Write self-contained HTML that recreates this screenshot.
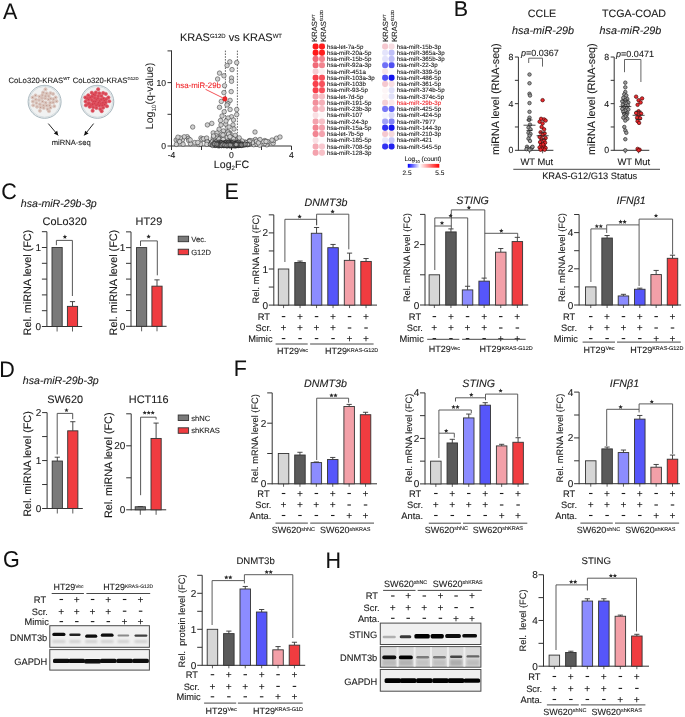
<!DOCTYPE html>
<html><head><meta charset="utf-8"><style>
html,body{margin:0;padding:0;background:#fff;}
svg{display:block;font-family:"Liberation Sans",sans-serif;will-change:transform;text-rendering:geometricPrecision;}
</style></head><body>
<svg width="685" height="717" viewBox="0 0 685 717">
<rect width="685" height="717" fill="#fff"/>
<text transform="translate(2.9,18.8) scale(1,1.045)" font-size="21.5" fill="#111" stroke="#111" stroke-width="0.05">A</text>
<text transform="translate(453.8,16.2) scale(1,0.99)" font-size="21.5" fill="#111" stroke="#111" stroke-width="0.05">B</text>
<text transform="translate(1.2,198.7) scale(1,1.045)" font-size="21.5" fill="#111" stroke="#111" stroke-width="0.05">C</text>
<text transform="translate(-0.8,376.7) scale(1,1.045)" font-size="21.5" fill="#111" stroke="#111" stroke-width="0.05">D</text>
<text transform="translate(224.6,198.8) scale(1,1.045)" font-size="21.5" fill="#111" stroke="#111" stroke-width="0.05">E</text>
<text transform="translate(233.8,375.6) scale(1,1.045)" font-size="21.5" fill="#111" stroke="#111" stroke-width="0.05">F</text>
<text transform="translate(2.9,567.4) scale(1,1.07)" font-size="21.5" fill="#111" stroke="#111" stroke-width="0.05">G</text>
<text transform="translate(325.6,567.8) scale(1,1.045)" font-size="21.5" fill="#111" stroke="#111" stroke-width="0.05">H</text>
<text x="8.5" y="82.6" font-size="7.7" text-anchor="start" fill="#1a1a1a" stroke="#1a1a1a" stroke-width="0.1">CoLo320-KRAS<tspan font-size="4.3" dy="-2.43">WT</tspan></text>
<text x="72.7" y="82.6" font-size="7.7" text-anchor="start" fill="#1a1a1a" stroke="#1a1a1a" stroke-width="0.1">CoLo320-KRAS<tspan font-size="4.3" dy="-2.43">G12D</tspan></text>
<circle cx="44.6" cy="101.8" r="16.5" fill="#f1f2f2" stroke="#9fb0b8" stroke-width="0.9"/>
<circle cx="44.6" cy="101.8" r="15.4" fill="none" stroke="#c5d0d5" stroke-width="0.6"/>
<rect x="41.1" y="84.9" width="7" height="1.2" rx="0.5" fill="#b8c4ca"/>
<circle cx="45.48" cy="89.24" r="1.65" fill="#dcc5bd" stroke="#d2b8af" stroke-width="0.4"/>
<circle cx="43.14" cy="92.45" r="1.65" fill="#dcc5bd" stroke="#d2b8af" stroke-width="0.4"/>
<circle cx="46.64" cy="93.32" r="1.65" fill="#dcc5bd" stroke="#d2b8af" stroke-width="0.4"/>
<circle cx="50.44" cy="93.03" r="1.65" fill="#dcc5bd" stroke="#d2b8af" stroke-width="0.4"/>
<circle cx="53.07" cy="93.91" r="1.65" fill="#dcc5bd" stroke="#d2b8af" stroke-width="0.4"/>
<circle cx="35.55" cy="95.37" r="1.65" fill="#dcc5bd" stroke="#d2b8af" stroke-width="0.4"/>
<circle cx="39.34" cy="96.54" r="1.65" fill="#dcc5bd" stroke="#d2b8af" stroke-width="0.4"/>
<circle cx="42.26" cy="95.08" r="1.65" fill="#dcc5bd" stroke="#d2b8af" stroke-width="0.4"/>
<circle cx="45.48" cy="95.95" r="1.65" fill="#dcc5bd" stroke="#d2b8af" stroke-width="0.4"/>
<circle cx="48.69" cy="95.95" r="1.65" fill="#dcc5bd" stroke="#d2b8af" stroke-width="0.4"/>
<circle cx="55.69" cy="97.41" r="1.65" fill="#dcc5bd" stroke="#d2b8af" stroke-width="0.4"/>
<circle cx="32.63" cy="97.41" r="1.65" fill="#dcc5bd" stroke="#d2b8af" stroke-width="0.4"/>
<circle cx="41.97" cy="98" r="1.65" fill="#dcc5bd" stroke="#d2b8af" stroke-width="0.4"/>
<circle cx="45.18" cy="98.29" r="1.65" fill="#dcc5bd" stroke="#d2b8af" stroke-width="0.4"/>
<circle cx="48.4" cy="99.46" r="1.65" fill="#dcc5bd" stroke="#d2b8af" stroke-width="0.4"/>
<circle cx="50.73" cy="98.58" r="1.65" fill="#dcc5bd" stroke="#d2b8af" stroke-width="0.4"/>
<circle cx="53.36" cy="99.16" r="1.65" fill="#dcc5bd" stroke="#d2b8af" stroke-width="0.4"/>
<circle cx="35.84" cy="99.46" r="1.65" fill="#dcc5bd" stroke="#d2b8af" stroke-width="0.4"/>
<circle cx="39.05" cy="100.04" r="1.65" fill="#dcc5bd" stroke="#d2b8af" stroke-width="0.4"/>
<circle cx="32.92" cy="101.5" r="1.65" fill="#dcc5bd" stroke="#d2b8af" stroke-width="0.4"/>
<circle cx="36.42" cy="102.96" r="1.65" fill="#dcc5bd" stroke="#d2b8af" stroke-width="0.4"/>
<circle cx="42.56" cy="101.5" r="1.65" fill="#dcc5bd" stroke="#d2b8af" stroke-width="0.4"/>
<circle cx="45.77" cy="102.67" r="1.65" fill="#dcc5bd" stroke="#d2b8af" stroke-width="0.4"/>
<circle cx="50.15" cy="102.67" r="1.65" fill="#dcc5bd" stroke="#d2b8af" stroke-width="0.4"/>
<circle cx="53.07" cy="102.38" r="1.65" fill="#dcc5bd" stroke="#d2b8af" stroke-width="0.4"/>
<circle cx="56.57" cy="101.21" r="1.65" fill="#dcc5bd" stroke="#d2b8af" stroke-width="0.4"/>
<circle cx="33.21" cy="105.3" r="1.65" fill="#dcc5bd" stroke="#d2b8af" stroke-width="0.4"/>
<circle cx="39.93" cy="104.13" r="1.65" fill="#dcc5bd" stroke="#d2b8af" stroke-width="0.4"/>
<circle cx="43.43" cy="105.3" r="1.65" fill="#dcc5bd" stroke="#d2b8af" stroke-width="0.4"/>
<circle cx="46.64" cy="105.59" r="1.65" fill="#dcc5bd" stroke="#d2b8af" stroke-width="0.4"/>
<circle cx="49.56" cy="105.3" r="1.65" fill="#dcc5bd" stroke="#d2b8af" stroke-width="0.4"/>
<circle cx="54.24" cy="106.17" r="1.65" fill="#dcc5bd" stroke="#d2b8af" stroke-width="0.4"/>
<circle cx="37.01" cy="106.76" r="1.65" fill="#dcc5bd" stroke="#d2b8af" stroke-width="0.4"/>
<circle cx="40.51" cy="107.34" r="1.65" fill="#dcc5bd" stroke="#d2b8af" stroke-width="0.4"/>
<circle cx="43.72" cy="107.92" r="1.65" fill="#dcc5bd" stroke="#d2b8af" stroke-width="0.4"/>
<circle cx="47.52" cy="109.09" r="1.65" fill="#dcc5bd" stroke="#d2b8af" stroke-width="0.4"/>
<circle cx="50.44" cy="107.63" r="1.65" fill="#dcc5bd" stroke="#d2b8af" stroke-width="0.4"/>
<circle cx="39.93" cy="110.84" r="1.65" fill="#dcc5bd" stroke="#d2b8af" stroke-width="0.4"/>
<circle cx="48.98" cy="111.14" r="1.65" fill="#dcc5bd" stroke="#d2b8af" stroke-width="0.4"/>
<circle cx="45.48" cy="89.24" r="0.55" fill="#b89488" stroke="none" stroke-width="0.5"/>
<circle cx="43.14" cy="92.45" r="0.55" fill="#b89488" stroke="none" stroke-width="0.5"/>
<circle cx="46.64" cy="93.32" r="0.55" fill="#b89488" stroke="none" stroke-width="0.5"/>
<circle cx="50.44" cy="93.03" r="0.55" fill="#b89488" stroke="none" stroke-width="0.5"/>
<circle cx="53.07" cy="93.91" r="0.55" fill="#b89488" stroke="none" stroke-width="0.5"/>
<circle cx="35.55" cy="95.37" r="0.55" fill="#b89488" stroke="none" stroke-width="0.5"/>
<circle cx="39.34" cy="96.54" r="0.55" fill="#b89488" stroke="none" stroke-width="0.5"/>
<circle cx="42.26" cy="95.08" r="0.55" fill="#b89488" stroke="none" stroke-width="0.5"/>
<circle cx="45.48" cy="95.95" r="0.55" fill="#b89488" stroke="none" stroke-width="0.5"/>
<circle cx="48.69" cy="95.95" r="0.55" fill="#b89488" stroke="none" stroke-width="0.5"/>
<circle cx="55.69" cy="97.41" r="0.55" fill="#b89488" stroke="none" stroke-width="0.5"/>
<circle cx="32.63" cy="97.41" r="0.55" fill="#b89488" stroke="none" stroke-width="0.5"/>
<circle cx="41.97" cy="98" r="0.55" fill="#b89488" stroke="none" stroke-width="0.5"/>
<circle cx="45.18" cy="98.29" r="0.55" fill="#b89488" stroke="none" stroke-width="0.5"/>
<circle cx="48.4" cy="99.46" r="0.55" fill="#b89488" stroke="none" stroke-width="0.5"/>
<circle cx="50.73" cy="98.58" r="0.55" fill="#b89488" stroke="none" stroke-width="0.5"/>
<circle cx="53.36" cy="99.16" r="0.55" fill="#b89488" stroke="none" stroke-width="0.5"/>
<circle cx="35.84" cy="99.46" r="0.55" fill="#b89488" stroke="none" stroke-width="0.5"/>
<circle cx="39.05" cy="100.04" r="0.55" fill="#b89488" stroke="none" stroke-width="0.5"/>
<circle cx="32.92" cy="101.5" r="0.55" fill="#b89488" stroke="none" stroke-width="0.5"/>
<circle cx="36.42" cy="102.96" r="0.55" fill="#b89488" stroke="none" stroke-width="0.5"/>
<circle cx="42.56" cy="101.5" r="0.55" fill="#b89488" stroke="none" stroke-width="0.5"/>
<circle cx="45.77" cy="102.67" r="0.55" fill="#b89488" stroke="none" stroke-width="0.5"/>
<circle cx="50.15" cy="102.67" r="0.55" fill="#b89488" stroke="none" stroke-width="0.5"/>
<circle cx="53.07" cy="102.38" r="0.55" fill="#b89488" stroke="none" stroke-width="0.5"/>
<circle cx="56.57" cy="101.21" r="0.55" fill="#b89488" stroke="none" stroke-width="0.5"/>
<circle cx="33.21" cy="105.3" r="0.55" fill="#b89488" stroke="none" stroke-width="0.5"/>
<circle cx="39.93" cy="104.13" r="0.55" fill="#b89488" stroke="none" stroke-width="0.5"/>
<circle cx="43.43" cy="105.3" r="0.55" fill="#b89488" stroke="none" stroke-width="0.5"/>
<circle cx="46.64" cy="105.59" r="0.55" fill="#b89488" stroke="none" stroke-width="0.5"/>
<circle cx="49.56" cy="105.3" r="0.55" fill="#b89488" stroke="none" stroke-width="0.5"/>
<circle cx="54.24" cy="106.17" r="0.55" fill="#b89488" stroke="none" stroke-width="0.5"/>
<circle cx="37.01" cy="106.76" r="0.55" fill="#b89488" stroke="none" stroke-width="0.5"/>
<circle cx="40.51" cy="107.34" r="0.55" fill="#b89488" stroke="none" stroke-width="0.5"/>
<circle cx="43.72" cy="107.92" r="0.55" fill="#b89488" stroke="none" stroke-width="0.5"/>
<circle cx="47.52" cy="109.09" r="0.55" fill="#b89488" stroke="none" stroke-width="0.5"/>
<circle cx="50.44" cy="107.63" r="0.55" fill="#b89488" stroke="none" stroke-width="0.5"/>
<circle cx="39.93" cy="110.84" r="0.55" fill="#b89488" stroke="none" stroke-width="0.5"/>
<circle cx="48.98" cy="111.14" r="0.55" fill="#b89488" stroke="none" stroke-width="0.5"/>
<circle cx="97.3" cy="101.8" r="16.5" fill="#f1f2f2" stroke="#9fb0b8" stroke-width="0.9"/>
<circle cx="97.3" cy="101.8" r="15.4" fill="none" stroke="#c5d0d5" stroke-width="0.6"/>
<rect x="93.8" y="84.9" width="7" height="1.2" rx="0.5" fill="#b8c4ca"/>
<circle cx="98.18" cy="89.24" r="1.75" fill="#e0505c" stroke="#d8475a" stroke-width="0.4"/>
<circle cx="95.84" cy="92.45" r="1.75" fill="#e0505c" stroke="#d8475a" stroke-width="0.4"/>
<circle cx="99.34" cy="93.32" r="1.75" fill="#e0505c" stroke="#d8475a" stroke-width="0.4"/>
<circle cx="103.14" cy="93.03" r="1.75" fill="#e0505c" stroke="#d8475a" stroke-width="0.4"/>
<circle cx="105.77" cy="93.91" r="1.75" fill="#e0505c" stroke="#d8475a" stroke-width="0.4"/>
<circle cx="88.25" cy="95.37" r="1.75" fill="#e0505c" stroke="#d8475a" stroke-width="0.4"/>
<circle cx="92.04" cy="96.54" r="1.75" fill="#e0505c" stroke="#d8475a" stroke-width="0.4"/>
<circle cx="94.96" cy="95.08" r="1.75" fill="#e0505c" stroke="#d8475a" stroke-width="0.4"/>
<circle cx="98.18" cy="95.95" r="1.75" fill="#e0505c" stroke="#d8475a" stroke-width="0.4"/>
<circle cx="101.39" cy="95.95" r="1.75" fill="#e0505c" stroke="#d8475a" stroke-width="0.4"/>
<circle cx="108.39" cy="97.41" r="1.75" fill="#e0505c" stroke="#d8475a" stroke-width="0.4"/>
<circle cx="85.33" cy="97.41" r="1.75" fill="#e0505c" stroke="#d8475a" stroke-width="0.4"/>
<circle cx="94.67" cy="98" r="1.75" fill="#e0505c" stroke="#d8475a" stroke-width="0.4"/>
<circle cx="97.88" cy="98.29" r="1.75" fill="#e0505c" stroke="#d8475a" stroke-width="0.4"/>
<circle cx="101.1" cy="99.46" r="1.75" fill="#e0505c" stroke="#d8475a" stroke-width="0.4"/>
<circle cx="103.43" cy="98.58" r="1.75" fill="#e0505c" stroke="#d8475a" stroke-width="0.4"/>
<circle cx="106.06" cy="99.16" r="1.75" fill="#e0505c" stroke="#d8475a" stroke-width="0.4"/>
<circle cx="88.54" cy="99.46" r="1.75" fill="#e0505c" stroke="#d8475a" stroke-width="0.4"/>
<circle cx="91.75" cy="100.04" r="1.75" fill="#e0505c" stroke="#d8475a" stroke-width="0.4"/>
<circle cx="85.62" cy="101.5" r="1.75" fill="#e0505c" stroke="#d8475a" stroke-width="0.4"/>
<circle cx="89.12" cy="102.96" r="1.75" fill="#e0505c" stroke="#d8475a" stroke-width="0.4"/>
<circle cx="95.26" cy="101.5" r="1.75" fill="#e0505c" stroke="#d8475a" stroke-width="0.4"/>
<circle cx="98.47" cy="102.67" r="1.75" fill="#e0505c" stroke="#d8475a" stroke-width="0.4"/>
<circle cx="102.85" cy="102.67" r="1.75" fill="#e0505c" stroke="#d8475a" stroke-width="0.4"/>
<circle cx="105.77" cy="102.38" r="1.75" fill="#e0505c" stroke="#d8475a" stroke-width="0.4"/>
<circle cx="109.27" cy="101.21" r="1.75" fill="#e0505c" stroke="#d8475a" stroke-width="0.4"/>
<circle cx="85.91" cy="105.3" r="1.75" fill="#e0505c" stroke="#d8475a" stroke-width="0.4"/>
<circle cx="92.63" cy="104.13" r="1.75" fill="#e0505c" stroke="#d8475a" stroke-width="0.4"/>
<circle cx="96.13" cy="105.3" r="1.75" fill="#e0505c" stroke="#d8475a" stroke-width="0.4"/>
<circle cx="99.34" cy="105.59" r="1.75" fill="#e0505c" stroke="#d8475a" stroke-width="0.4"/>
<circle cx="102.26" cy="105.3" r="1.75" fill="#e0505c" stroke="#d8475a" stroke-width="0.4"/>
<circle cx="106.94" cy="106.17" r="1.75" fill="#e0505c" stroke="#d8475a" stroke-width="0.4"/>
<circle cx="89.71" cy="106.76" r="1.75" fill="#e0505c" stroke="#d8475a" stroke-width="0.4"/>
<circle cx="93.21" cy="107.34" r="1.75" fill="#e0505c" stroke="#d8475a" stroke-width="0.4"/>
<circle cx="96.42" cy="107.92" r="1.75" fill="#e0505c" stroke="#d8475a" stroke-width="0.4"/>
<circle cx="100.22" cy="109.09" r="1.75" fill="#e0505c" stroke="#d8475a" stroke-width="0.4"/>
<circle cx="103.14" cy="107.63" r="1.75" fill="#e0505c" stroke="#d8475a" stroke-width="0.4"/>
<circle cx="92.63" cy="110.84" r="1.75" fill="#e0505c" stroke="#d8475a" stroke-width="0.4"/>
<circle cx="101.68" cy="111.14" r="1.75" fill="#e0505c" stroke="#d8475a" stroke-width="0.4"/>
<circle cx="91.75" cy="92.74" r="1.75" fill="#e0505c" stroke="#d8475a" stroke-width="0.4"/>
<circle cx="93.5" cy="94.49" r="1.75" fill="#e0505c" stroke="#d8475a" stroke-width="0.4"/>
<circle cx="90.29" cy="97.41" r="1.75" fill="#e0505c" stroke="#d8475a" stroke-width="0.4"/>
<circle cx="87.08" cy="98.29" r="1.75" fill="#e0505c" stroke="#d8475a" stroke-width="0.4"/>
<circle cx="96.42" cy="99.75" r="1.75" fill="#e0505c" stroke="#d8475a" stroke-width="0.4"/>
<circle cx="93.21" cy="101.5" r="1.75" fill="#e0505c" stroke="#d8475a" stroke-width="0.4"/>
<circle cx="99.64" cy="100.92" r="1.75" fill="#e0505c" stroke="#d8475a" stroke-width="0.4"/>
<circle cx="104.31" cy="100.62" r="1.75" fill="#e0505c" stroke="#d8475a" stroke-width="0.4"/>
<circle cx="90.88" cy="105" r="1.75" fill="#e0505c" stroke="#d8475a" stroke-width="0.4"/>
<circle cx="94.38" cy="103.25" r="1.75" fill="#e0505c" stroke="#d8475a" stroke-width="0.4"/>
<circle cx="97.88" cy="104.13" r="1.75" fill="#e0505c" stroke="#d8475a" stroke-width="0.4"/>
<circle cx="100.8" cy="103.84" r="1.75" fill="#e0505c" stroke="#d8475a" stroke-width="0.4"/>
<circle cx="104.6" cy="104.42" r="1.75" fill="#e0505c" stroke="#d8475a" stroke-width="0.4"/>
<circle cx="88.25" cy="103.84" r="1.75" fill="#e0505c" stroke="#d8475a" stroke-width="0.4"/>
<circle cx="98.18" cy="89.24" r="0.55" fill="#c83848" stroke="none" stroke-width="0.5"/>
<circle cx="95.84" cy="92.45" r="0.55" fill="#c83848" stroke="none" stroke-width="0.5"/>
<circle cx="99.34" cy="93.32" r="0.55" fill="#c83848" stroke="none" stroke-width="0.5"/>
<circle cx="103.14" cy="93.03" r="0.55" fill="#c83848" stroke="none" stroke-width="0.5"/>
<circle cx="105.77" cy="93.91" r="0.55" fill="#c83848" stroke="none" stroke-width="0.5"/>
<circle cx="88.25" cy="95.37" r="0.55" fill="#c83848" stroke="none" stroke-width="0.5"/>
<circle cx="92.04" cy="96.54" r="0.55" fill="#c83848" stroke="none" stroke-width="0.5"/>
<circle cx="94.96" cy="95.08" r="0.55" fill="#c83848" stroke="none" stroke-width="0.5"/>
<circle cx="98.18" cy="95.95" r="0.55" fill="#c83848" stroke="none" stroke-width="0.5"/>
<circle cx="101.39" cy="95.95" r="0.55" fill="#c83848" stroke="none" stroke-width="0.5"/>
<circle cx="108.39" cy="97.41" r="0.55" fill="#c83848" stroke="none" stroke-width="0.5"/>
<circle cx="85.33" cy="97.41" r="0.55" fill="#c83848" stroke="none" stroke-width="0.5"/>
<circle cx="94.67" cy="98" r="0.55" fill="#c83848" stroke="none" stroke-width="0.5"/>
<circle cx="97.88" cy="98.29" r="0.55" fill="#c83848" stroke="none" stroke-width="0.5"/>
<circle cx="101.1" cy="99.46" r="0.55" fill="#c83848" stroke="none" stroke-width="0.5"/>
<circle cx="103.43" cy="98.58" r="0.55" fill="#c83848" stroke="none" stroke-width="0.5"/>
<circle cx="106.06" cy="99.16" r="0.55" fill="#c83848" stroke="none" stroke-width="0.5"/>
<circle cx="88.54" cy="99.46" r="0.55" fill="#c83848" stroke="none" stroke-width="0.5"/>
<circle cx="91.75" cy="100.04" r="0.55" fill="#c83848" stroke="none" stroke-width="0.5"/>
<circle cx="85.62" cy="101.5" r="0.55" fill="#c83848" stroke="none" stroke-width="0.5"/>
<circle cx="89.12" cy="102.96" r="0.55" fill="#c83848" stroke="none" stroke-width="0.5"/>
<circle cx="95.26" cy="101.5" r="0.55" fill="#c83848" stroke="none" stroke-width="0.5"/>
<circle cx="98.47" cy="102.67" r="0.55" fill="#c83848" stroke="none" stroke-width="0.5"/>
<circle cx="102.85" cy="102.67" r="0.55" fill="#c83848" stroke="none" stroke-width="0.5"/>
<circle cx="105.77" cy="102.38" r="0.55" fill="#c83848" stroke="none" stroke-width="0.5"/>
<circle cx="109.27" cy="101.21" r="0.55" fill="#c83848" stroke="none" stroke-width="0.5"/>
<circle cx="85.91" cy="105.3" r="0.55" fill="#c83848" stroke="none" stroke-width="0.5"/>
<circle cx="92.63" cy="104.13" r="0.55" fill="#c83848" stroke="none" stroke-width="0.5"/>
<circle cx="96.13" cy="105.3" r="0.55" fill="#c83848" stroke="none" stroke-width="0.5"/>
<circle cx="99.34" cy="105.59" r="0.55" fill="#c83848" stroke="none" stroke-width="0.5"/>
<circle cx="102.26" cy="105.3" r="0.55" fill="#c83848" stroke="none" stroke-width="0.5"/>
<circle cx="106.94" cy="106.17" r="0.55" fill="#c83848" stroke="none" stroke-width="0.5"/>
<circle cx="89.71" cy="106.76" r="0.55" fill="#c83848" stroke="none" stroke-width="0.5"/>
<circle cx="93.21" cy="107.34" r="0.55" fill="#c83848" stroke="none" stroke-width="0.5"/>
<circle cx="96.42" cy="107.92" r="0.55" fill="#c83848" stroke="none" stroke-width="0.5"/>
<circle cx="100.22" cy="109.09" r="0.55" fill="#c83848" stroke="none" stroke-width="0.5"/>
<circle cx="103.14" cy="107.63" r="0.55" fill="#c83848" stroke="none" stroke-width="0.5"/>
<circle cx="92.63" cy="110.84" r="0.55" fill="#c83848" stroke="none" stroke-width="0.5"/>
<circle cx="101.68" cy="111.14" r="0.55" fill="#c83848" stroke="none" stroke-width="0.5"/>
<circle cx="91.75" cy="92.74" r="0.55" fill="#c83848" stroke="none" stroke-width="0.5"/>
<circle cx="93.5" cy="94.49" r="0.55" fill="#c83848" stroke="none" stroke-width="0.5"/>
<circle cx="90.29" cy="97.41" r="0.55" fill="#c83848" stroke="none" stroke-width="0.5"/>
<circle cx="87.08" cy="98.29" r="0.55" fill="#c83848" stroke="none" stroke-width="0.5"/>
<circle cx="96.42" cy="99.75" r="0.55" fill="#c83848" stroke="none" stroke-width="0.5"/>
<circle cx="93.21" cy="101.5" r="0.55" fill="#c83848" stroke="none" stroke-width="0.5"/>
<circle cx="99.64" cy="100.92" r="0.55" fill="#c83848" stroke="none" stroke-width="0.5"/>
<circle cx="104.31" cy="100.62" r="0.55" fill="#c83848" stroke="none" stroke-width="0.5"/>
<circle cx="90.88" cy="105" r="0.55" fill="#c83848" stroke="none" stroke-width="0.5"/>
<circle cx="94.38" cy="103.25" r="0.55" fill="#c83848" stroke="none" stroke-width="0.5"/>
<circle cx="97.88" cy="104.13" r="0.55" fill="#c83848" stroke="none" stroke-width="0.5"/>
<circle cx="100.8" cy="103.84" r="0.55" fill="#c83848" stroke="none" stroke-width="0.5"/>
<circle cx="104.6" cy="104.42" r="0.55" fill="#c83848" stroke="none" stroke-width="0.5"/>
<circle cx="88.25" cy="103.84" r="0.55" fill="#c83848" stroke="none" stroke-width="0.5"/>
<line x1="48.3" y1="123.6" x2="58.2" y2="135.4" stroke="#111" stroke-width="0.9"/>
<polygon points="58.2,135.4 53.82,133.6 57.19,130.77" fill="#111"/>
<line x1="93.6" y1="123.6" x2="84.2" y2="135.4" stroke="#111" stroke-width="0.9"/>
<polygon points="84.2,135.4 85.1,130.74 88.54,133.49" fill="#111"/>
<text x="71.2" y="144.6" font-size="7.6" text-anchor="middle" fill="#1a1a1a" stroke="#1a1a1a" stroke-width="0.1">miRNA-seq</text>
<text x="231" y="41.4" font-size="11" text-anchor="middle" fill="#1a1a1a" stroke="#1a1a1a" stroke-width="0.1">KRAS<tspan font-size="6" dy="-3.58">G12D</tspan><tspan dy="3.58"> vs </tspan>KRAS<tspan font-size="6" dy="-3.58">WT</tspan></text>
<line x1="171.5" y1="50.4" x2="171.5" y2="146.5" stroke="#333" stroke-width="1"/>
<line x1="171.5" y1="146" x2="291.5" y2="146" stroke="#333" stroke-width="1"/>
<line x1="167.5" y1="146" x2="171.5" y2="146" stroke="#333" stroke-width="1"/>
<text x="166" y="149.1" font-size="8.6" text-anchor="end" fill="#1a1a1a" stroke="#1a1a1a" stroke-width="0.1">0</text>
<line x1="167.5" y1="114.3" x2="171.5" y2="114.3" stroke="#333" stroke-width="1"/>
<line x1="167.5" y1="82.6" x2="171.5" y2="82.6" stroke="#333" stroke-width="1"/>
<text x="166" y="85.7" font-size="8.6" text-anchor="end" fill="#1a1a1a" stroke="#1a1a1a" stroke-width="0.1">10</text>
<line x1="167.5" y1="50.9" x2="171.5" y2="50.9" stroke="#333" stroke-width="1"/>
<line x1="171.5" y1="146" x2="171.5" y2="150" stroke="#333" stroke-width="1"/>
<text x="171.5" y="158.2" font-size="8.6" text-anchor="middle" fill="#1a1a1a" stroke="#1a1a1a" stroke-width="0.1">-4</text>
<line x1="201.5" y1="146" x2="201.5" y2="150" stroke="#333" stroke-width="1"/>
<line x1="231.5" y1="146" x2="231.5" y2="150" stroke="#333" stroke-width="1"/>
<text x="231.5" y="158.2" font-size="8.6" text-anchor="middle" fill="#1a1a1a" stroke="#1a1a1a" stroke-width="0.1">0</text>
<line x1="261.5" y1="146" x2="261.5" y2="150" stroke="#333" stroke-width="1"/>
<line x1="291.5" y1="146" x2="291.5" y2="150" stroke="#333" stroke-width="1"/>
<text x="291.5" y="158.2" font-size="8.6" text-anchor="middle" fill="#1a1a1a" stroke="#1a1a1a" stroke-width="0.1">4</text>
<text x="231.5" y="167.6" font-size="10.6" text-anchor="middle" fill="#1a1a1a" stroke="#1a1a1a" stroke-width="0.1">Log<tspan font-size="6.2" dy="2.6">2</tspan><tspan dy="-2.6">FC</tspan></text>
<text transform="translate(153.2,96) rotate(-90)" font-size="10.6" text-anchor="middle" fill="#1a1a1a">Log<tspan font-size="6.2" dy="2.6">10</tspan><tspan dy="-2.6">(q-value)</tspan></text>
<line x1="225.4" y1="50.6" x2="225.4" y2="146" stroke="#222" stroke-width="0.7" stroke-dasharray="1.6,1.2"/>
<line x1="237.4" y1="50.6" x2="237.4" y2="146" stroke="#222" stroke-width="0.7" stroke-dasharray="1.6,1.2"/>
<circle cx="229.8" cy="61.8" r="2.25" fill="#d0d0d0" stroke="#2a2a2a" stroke-width="0.5"/>
<circle cx="236.7" cy="62.6" r="2.25" fill="#d0d0d0" stroke="#2a2a2a" stroke-width="0.5"/>
<circle cx="227.1" cy="65.5" r="2.25" fill="#d0d0d0" stroke="#2a2a2a" stroke-width="0.5"/>
<circle cx="232" cy="69.6" r="2.25" fill="#d0d0d0" stroke="#2a2a2a" stroke-width="0.5"/>
<circle cx="219.5" cy="73.1" r="2.25" fill="#d0d0d0" stroke="#2a2a2a" stroke-width="0.5"/>
<circle cx="223.9" cy="75.8" r="2.25" fill="#d0d0d0" stroke="#2a2a2a" stroke-width="0.5"/>
<circle cx="231.5" cy="78" r="2.25" fill="#d0d0d0" stroke="#2a2a2a" stroke-width="0.5"/>
<circle cx="217.6" cy="79" r="2.25" fill="#d0d0d0" stroke="#2a2a2a" stroke-width="0.5"/>
<circle cx="231.5" cy="81.3" r="2.25" fill="#d0d0d0" stroke="#2a2a2a" stroke-width="0.5"/>
<circle cx="224.5" cy="85.7" r="2.25" fill="#d0d0d0" stroke="#2a2a2a" stroke-width="0.5"/>
<circle cx="231.2" cy="91.6" r="2.25" fill="#d0d0d0" stroke="#2a2a2a" stroke-width="0.5"/>
<circle cx="223.9" cy="92.6" r="2.25" fill="#d0d0d0" stroke="#2a2a2a" stroke-width="0.5"/>
<circle cx="221.3" cy="101.4" r="2.25" fill="#d0d0d0" stroke="#2a2a2a" stroke-width="0.5"/>
<circle cx="230.1" cy="100.4" r="2.25" fill="#d0d0d0" stroke="#2a2a2a" stroke-width="0.5"/>
<circle cx="227.9" cy="103.6" r="2.25" fill="#d0d0d0" stroke="#2a2a2a" stroke-width="0.5"/>
<circle cx="219.5" cy="107.3" r="2.25" fill="#d0d0d0" stroke="#2a2a2a" stroke-width="0.5"/>
<circle cx="236.7" cy="109.5" r="2.25" fill="#d0d0d0" stroke="#2a2a2a" stroke-width="0.5"/>
<circle cx="224.2" cy="111.7" r="2.25" fill="#d0d0d0" stroke="#2a2a2a" stroke-width="0.5"/>
<circle cx="230.1" cy="109.5" r="2.25" fill="#d0d0d0" stroke="#2a2a2a" stroke-width="0.5"/>
<circle cx="236.7" cy="114.6" r="2.25" fill="#d0d0d0" stroke="#2a2a2a" stroke-width="0.5"/>
<circle cx="231.5" cy="116.8" r="2.25" fill="#d0d0d0" stroke="#2a2a2a" stroke-width="0.5"/>
<circle cx="220.5" cy="120.5" r="2.25" fill="#d0d0d0" stroke="#2a2a2a" stroke-width="0.5"/>
<circle cx="211.8" cy="123.4" r="2.25" fill="#d0d0d0" stroke="#2a2a2a" stroke-width="0.5"/>
<circle cx="207.4" cy="124.9" r="2.25" fill="#d0d0d0" stroke="#2a2a2a" stroke-width="0.5"/>
<circle cx="192.7" cy="127" r="2.25" fill="#d0d0d0" stroke="#2a2a2a" stroke-width="0.5"/>
<circle cx="233" cy="124.9" r="2.25" fill="#d0d0d0" stroke="#2a2a2a" stroke-width="0.5"/>
<circle cx="225.7" cy="124.1" r="2.25" fill="#d0d0d0" stroke="#2a2a2a" stroke-width="0.5"/>
<circle cx="219.1" cy="129.2" r="2.25" fill="#d0d0d0" stroke="#2a2a2a" stroke-width="0.5"/>
<circle cx="213.2" cy="132.9" r="2.25" fill="#d0d0d0" stroke="#2a2a2a" stroke-width="0.5"/>
<circle cx="227" cy="105" r="2.25" fill="#d0d0d0" stroke="#2a2a2a" stroke-width="0.5"/>
<circle cx="222" cy="116" r="2.25" fill="#d0d0d0" stroke="#2a2a2a" stroke-width="0.5"/>
<circle cx="228" cy="118" r="2.25" fill="#d0d0d0" stroke="#2a2a2a" stroke-width="0.5"/>
<circle cx="226" cy="121" r="2.25" fill="#d0d0d0" stroke="#2a2a2a" stroke-width="0.5"/>
<circle cx="233.5" cy="120" r="2.25" fill="#d0d0d0" stroke="#2a2a2a" stroke-width="0.5"/>
<circle cx="221" cy="125" r="2.25" fill="#d0d0d0" stroke="#2a2a2a" stroke-width="0.5"/>
<circle cx="229" cy="127" r="2.25" fill="#d0d0d0" stroke="#2a2a2a" stroke-width="0.5"/>
<circle cx="234" cy="129" r="2.25" fill="#d0d0d0" stroke="#2a2a2a" stroke-width="0.5"/>
<circle cx="217" cy="133" r="2.25" fill="#d0d0d0" stroke="#2a2a2a" stroke-width="0.5"/>
<circle cx="226" cy="131" r="2.25" fill="#d0d0d0" stroke="#2a2a2a" stroke-width="0.5"/>
<circle cx="230" cy="133" r="2.25" fill="#d0d0d0" stroke="#2a2a2a" stroke-width="0.5"/>
<circle cx="255" cy="132" r="2.25" fill="#d0d0d0" stroke="#2a2a2a" stroke-width="0.5"/>
<circle cx="200.92" cy="138.03" r="2.25" fill="#d0d0d0" stroke="#2a2a2a" stroke-width="0.5"/>
<circle cx="213.7" cy="137.61" r="2.25" fill="#d0d0d0" stroke="#2a2a2a" stroke-width="0.5"/>
<circle cx="177.16" cy="139.95" r="2.25" fill="#d0d0d0" stroke="#2a2a2a" stroke-width="0.5"/>
<circle cx="201.96" cy="139.48" r="2.25" fill="#d0d0d0" stroke="#2a2a2a" stroke-width="0.5"/>
<circle cx="194.76" cy="142.55" r="2.25" fill="#d0d0d0" stroke="#2a2a2a" stroke-width="0.5"/>
<circle cx="198.96" cy="144.55" r="2.25" fill="#d0d0d0" stroke="#2a2a2a" stroke-width="0.5"/>
<circle cx="187.18" cy="136.71" r="2.25" fill="#d0d0d0" stroke="#2a2a2a" stroke-width="0.5"/>
<circle cx="182.38" cy="139.99" r="2.25" fill="#d0d0d0" stroke="#2a2a2a" stroke-width="0.5"/>
<circle cx="200.7" cy="144.11" r="2.25" fill="#d0d0d0" stroke="#2a2a2a" stroke-width="0.5"/>
<circle cx="210.86" cy="143.33" r="2.25" fill="#d0d0d0" stroke="#2a2a2a" stroke-width="0.5"/>
<circle cx="215.3" cy="138.95" r="2.25" fill="#d0d0d0" stroke="#2a2a2a" stroke-width="0.5"/>
<circle cx="214.46" cy="140.03" r="2.25" fill="#d0d0d0" stroke="#2a2a2a" stroke-width="0.5"/>
<circle cx="184.19" cy="136.83" r="2.25" fill="#d0d0d0" stroke="#2a2a2a" stroke-width="0.5"/>
<circle cx="214.66" cy="138.77" r="2.25" fill="#d0d0d0" stroke="#2a2a2a" stroke-width="0.5"/>
<circle cx="190.45" cy="143.7" r="2.25" fill="#d0d0d0" stroke="#2a2a2a" stroke-width="0.5"/>
<circle cx="178.61" cy="142.04" r="2.25" fill="#d0d0d0" stroke="#2a2a2a" stroke-width="0.5"/>
<circle cx="176.14" cy="140.04" r="2.25" fill="#d0d0d0" stroke="#2a2a2a" stroke-width="0.5"/>
<circle cx="188.4" cy="138.58" r="2.25" fill="#d0d0d0" stroke="#2a2a2a" stroke-width="0.5"/>
<circle cx="188.63" cy="140.42" r="2.25" fill="#d0d0d0" stroke="#2a2a2a" stroke-width="0.5"/>
<circle cx="178.28" cy="139.44" r="2.25" fill="#d0d0d0" stroke="#2a2a2a" stroke-width="0.5"/>
<circle cx="205.99" cy="140.17" r="2.25" fill="#d0d0d0" stroke="#2a2a2a" stroke-width="0.5"/>
<circle cx="207.51" cy="141.6" r="2.25" fill="#d0d0d0" stroke="#2a2a2a" stroke-width="0.5"/>
<circle cx="176.36" cy="144.37" r="2.25" fill="#d0d0d0" stroke="#2a2a2a" stroke-width="0.5"/>
<circle cx="214.21" cy="142.6" r="2.25" fill="#d0d0d0" stroke="#2a2a2a" stroke-width="0.5"/>
<circle cx="213.19" cy="138.27" r="2.25" fill="#d0d0d0" stroke="#2a2a2a" stroke-width="0.5"/>
<circle cx="190.19" cy="139.88" r="2.25" fill="#d0d0d0" stroke="#2a2a2a" stroke-width="0.5"/>
<circle cx="180.32" cy="137.97" r="2.25" fill="#d0d0d0" stroke="#2a2a2a" stroke-width="0.5"/>
<circle cx="210.39" cy="143.72" r="2.25" fill="#d0d0d0" stroke="#2a2a2a" stroke-width="0.5"/>
<circle cx="179.65" cy="141.72" r="2.25" fill="#d0d0d0" stroke="#2a2a2a" stroke-width="0.5"/>
<circle cx="212.72" cy="141.09" r="2.25" fill="#d0d0d0" stroke="#2a2a2a" stroke-width="0.5"/>
<circle cx="197.81" cy="142.5" r="2.25" fill="#d0d0d0" stroke="#2a2a2a" stroke-width="0.5"/>
<circle cx="183.1" cy="144.22" r="2.25" fill="#d0d0d0" stroke="#2a2a2a" stroke-width="0.5"/>
<circle cx="203.57" cy="138.71" r="2.25" fill="#d0d0d0" stroke="#2a2a2a" stroke-width="0.5"/>
<circle cx="177.94" cy="137.15" r="2.25" fill="#d0d0d0" stroke="#2a2a2a" stroke-width="0.5"/>
<circle cx="253.8" cy="144.07" r="2.25" fill="#d0d0d0" stroke="#2a2a2a" stroke-width="0.5"/>
<circle cx="268.09" cy="143.35" r="2.25" fill="#d0d0d0" stroke="#2a2a2a" stroke-width="0.5"/>
<circle cx="241.89" cy="142.65" r="2.25" fill="#d0d0d0" stroke="#2a2a2a" stroke-width="0.5"/>
<circle cx="256.78" cy="142.59" r="2.25" fill="#d0d0d0" stroke="#2a2a2a" stroke-width="0.5"/>
<circle cx="264.88" cy="140.54" r="2.25" fill="#d0d0d0" stroke="#2a2a2a" stroke-width="0.5"/>
<circle cx="266.79" cy="144.82" r="2.25" fill="#d0d0d0" stroke="#2a2a2a" stroke-width="0.5"/>
<circle cx="245.07" cy="142.07" r="2.25" fill="#d0d0d0" stroke="#2a2a2a" stroke-width="0.5"/>
<circle cx="255.41" cy="139.52" r="2.25" fill="#d0d0d0" stroke="#2a2a2a" stroke-width="0.5"/>
<circle cx="273.18" cy="143.23" r="2.25" fill="#d0d0d0" stroke="#2a2a2a" stroke-width="0.5"/>
<circle cx="264.8" cy="143.5" r="2.25" fill="#d0d0d0" stroke="#2a2a2a" stroke-width="0.5"/>
<circle cx="253.73" cy="144.71" r="2.25" fill="#d0d0d0" stroke="#2a2a2a" stroke-width="0.5"/>
<circle cx="273.61" cy="140.5" r="2.25" fill="#d0d0d0" stroke="#2a2a2a" stroke-width="0.5"/>
<circle cx="256.98" cy="144.35" r="2.25" fill="#d0d0d0" stroke="#2a2a2a" stroke-width="0.5"/>
<circle cx="249.26" cy="140.69" r="2.25" fill="#d0d0d0" stroke="#2a2a2a" stroke-width="0.5"/>
<circle cx="252.29" cy="140.93" r="2.25" fill="#d0d0d0" stroke="#2a2a2a" stroke-width="0.5"/>
<circle cx="263.62" cy="141.61" r="2.25" fill="#d0d0d0" stroke="#2a2a2a" stroke-width="0.5"/>
<circle cx="252.36" cy="142.65" r="2.25" fill="#d0d0d0" stroke="#2a2a2a" stroke-width="0.5"/>
<circle cx="256.51" cy="141.25" r="2.25" fill="#d0d0d0" stroke="#2a2a2a" stroke-width="0.5"/>
<circle cx="249.99" cy="140.5" r="2.25" fill="#d0d0d0" stroke="#2a2a2a" stroke-width="0.5"/>
<circle cx="259.74" cy="145.17" r="2.25" fill="#d0d0d0" stroke="#2a2a2a" stroke-width="0.5"/>
<circle cx="248.52" cy="142.32" r="2.25" fill="#d0d0d0" stroke="#2a2a2a" stroke-width="0.5"/>
<circle cx="267.77" cy="141.61" r="2.25" fill="#d0d0d0" stroke="#2a2a2a" stroke-width="0.5"/>
<circle cx="276.5" cy="138.2" r="2.25" fill="#d0d0d0" stroke="#2a2a2a" stroke-width="0.5"/>
<circle cx="280" cy="137" r="2.25" fill="#d0d0d0" stroke="#2a2a2a" stroke-width="0.5"/>
<circle cx="272" cy="140" r="2.25" fill="#d0d0d0" stroke="#2a2a2a" stroke-width="0.5"/>
<circle cx="266" cy="141.5" r="2.25" fill="#d0d0d0" stroke="#2a2a2a" stroke-width="0.5"/>
<circle cx="260" cy="139.5" r="2.25" fill="#d0d0d0" stroke="#2a2a2a" stroke-width="0.5"/>
<circle cx="219.04" cy="138.37" r="2.25" fill="#d0d0d0" stroke="#2a2a2a" stroke-width="0.5"/>
<circle cx="225.21" cy="133.84" r="2.25" fill="#d0d0d0" stroke="#2a2a2a" stroke-width="0.5"/>
<circle cx="216.32" cy="135.88" r="2.25" fill="#d0d0d0" stroke="#2a2a2a" stroke-width="0.5"/>
<circle cx="235.9" cy="138.76" r="2.25" fill="#d0d0d0" stroke="#2a2a2a" stroke-width="0.5"/>
<circle cx="248.78" cy="143.57" r="2.25" fill="#d0d0d0" stroke="#2a2a2a" stroke-width="0.5"/>
<circle cx="215.52" cy="145.09" r="2.25" fill="#d0d0d0" stroke="#2a2a2a" stroke-width="0.5"/>
<circle cx="235.11" cy="135.3" r="2.25" fill="#d0d0d0" stroke="#2a2a2a" stroke-width="0.5"/>
<circle cx="235.97" cy="143.16" r="2.25" fill="#d0d0d0" stroke="#2a2a2a" stroke-width="0.5"/>
<circle cx="221.34" cy="136.33" r="2.25" fill="#d0d0d0" stroke="#2a2a2a" stroke-width="0.5"/>
<circle cx="225.82" cy="142.04" r="2.25" fill="#d0d0d0" stroke="#2a2a2a" stroke-width="0.5"/>
<circle cx="228.75" cy="137.58" r="2.25" fill="#d0d0d0" stroke="#2a2a2a" stroke-width="0.5"/>
<circle cx="221.74" cy="140.14" r="2.25" fill="#d0d0d0" stroke="#2a2a2a" stroke-width="0.5"/>
<circle cx="215.43" cy="138.13" r="2.25" fill="#d0d0d0" stroke="#2a2a2a" stroke-width="0.5"/>
<circle cx="217.12" cy="138.14" r="2.25" fill="#d0d0d0" stroke="#2a2a2a" stroke-width="0.5"/>
<circle cx="231.74" cy="145.34" r="2.25" fill="#d0d0d0" stroke="#2a2a2a" stroke-width="0.5"/>
<circle cx="214.34" cy="142.59" r="2.25" fill="#d0d0d0" stroke="#2a2a2a" stroke-width="0.5"/>
<circle cx="229.15" cy="136.29" r="2.25" fill="#d0d0d0" stroke="#2a2a2a" stroke-width="0.5"/>
<circle cx="224.71" cy="144.61" r="2.25" fill="#d0d0d0" stroke="#2a2a2a" stroke-width="0.5"/>
<circle cx="220.16" cy="145.17" r="2.25" fill="#d0d0d0" stroke="#2a2a2a" stroke-width="0.5"/>
<circle cx="231.04" cy="144.84" r="2.25" fill="#d0d0d0" stroke="#2a2a2a" stroke-width="0.5"/>
<circle cx="224.16" cy="142.25" r="2.25" fill="#d0d0d0" stroke="#2a2a2a" stroke-width="0.5"/>
<circle cx="227.35" cy="144.36" r="2.25" fill="#d0d0d0" stroke="#2a2a2a" stroke-width="0.5"/>
<circle cx="217.9" cy="144.63" r="2.25" fill="#d0d0d0" stroke="#2a2a2a" stroke-width="0.5"/>
<circle cx="217.32" cy="140.39" r="2.25" fill="#d0d0d0" stroke="#2a2a2a" stroke-width="0.5"/>
<circle cx="227.98" cy="131.99" r="2.25" fill="#d0d0d0" stroke="#2a2a2a" stroke-width="0.5"/>
<circle cx="235.68" cy="145.97" r="2.25" fill="#d0d0d0" stroke="#2a2a2a" stroke-width="0.5"/>
<circle cx="224.85" cy="139.43" r="2.25" fill="#d0d0d0" stroke="#2a2a2a" stroke-width="0.5"/>
<circle cx="239.23" cy="137.89" r="2.25" fill="#d0d0d0" stroke="#2a2a2a" stroke-width="0.5"/>
<circle cx="224.79" cy="144.75" r="2.25" fill="#d0d0d0" stroke="#2a2a2a" stroke-width="0.5"/>
<circle cx="223.46" cy="144.1" r="2.25" fill="#d0d0d0" stroke="#2a2a2a" stroke-width="0.5"/>
<circle cx="218.63" cy="144.34" r="2.25" fill="#d0d0d0" stroke="#2a2a2a" stroke-width="0.5"/>
<circle cx="206.68" cy="138.03" r="2.25" fill="#d0d0d0" stroke="#2a2a2a" stroke-width="0.5"/>
<circle cx="230.42" cy="139.84" r="2.25" fill="#d0d0d0" stroke="#2a2a2a" stroke-width="0.5"/>
<circle cx="231.48" cy="137.4" r="2.25" fill="#d0d0d0" stroke="#2a2a2a" stroke-width="0.5"/>
<circle cx="223.1" cy="143.37" r="2.25" fill="#d0d0d0" stroke="#2a2a2a" stroke-width="0.5"/>
<circle cx="216.95" cy="141.25" r="2.25" fill="#d0d0d0" stroke="#2a2a2a" stroke-width="0.5"/>
<circle cx="249.27" cy="141.47" r="2.25" fill="#d0d0d0" stroke="#2a2a2a" stroke-width="0.5"/>
<circle cx="220" cy="142.19" r="2.25" fill="#d0d0d0" stroke="#2a2a2a" stroke-width="0.5"/>
<circle cx="226.81" cy="145.82" r="2.25" fill="#d0d0d0" stroke="#2a2a2a" stroke-width="0.5"/>
<circle cx="235.55" cy="140.73" r="2.25" fill="#d0d0d0" stroke="#2a2a2a" stroke-width="0.5"/>
<circle cx="222.79" cy="143.63" r="2.25" fill="#d0d0d0" stroke="#2a2a2a" stroke-width="0.5"/>
<circle cx="213.47" cy="136.05" r="2.25" fill="#d0d0d0" stroke="#2a2a2a" stroke-width="0.5"/>
<circle cx="219.7" cy="141.14" r="2.25" fill="#d0d0d0" stroke="#2a2a2a" stroke-width="0.5"/>
<circle cx="227.61" cy="140.66" r="2.25" fill="#d0d0d0" stroke="#2a2a2a" stroke-width="0.5"/>
<circle cx="235.17" cy="144.91" r="2.25" fill="#d0d0d0" stroke="#2a2a2a" stroke-width="0.5"/>
<circle cx="245.83" cy="142.52" r="2.25" fill="#d0d0d0" stroke="#2a2a2a" stroke-width="0.5"/>
<circle cx="220.75" cy="143.14" r="2.25" fill="#d0d0d0" stroke="#2a2a2a" stroke-width="0.5"/>
<circle cx="236.97" cy="145.09" r="2.25" fill="#d0d0d0" stroke="#2a2a2a" stroke-width="0.5"/>
<circle cx="219.7" cy="143.11" r="2.25" fill="#d0d0d0" stroke="#2a2a2a" stroke-width="0.5"/>
<circle cx="236.92" cy="145.25" r="2.25" fill="#d0d0d0" stroke="#2a2a2a" stroke-width="0.5"/>
<circle cx="224.18" cy="138.79" r="2.25" fill="#d0d0d0" stroke="#2a2a2a" stroke-width="0.5"/>
<circle cx="235.55" cy="139.72" r="2.25" fill="#d0d0d0" stroke="#2a2a2a" stroke-width="0.5"/>
<circle cx="219.47" cy="144.12" r="2.25" fill="#d0d0d0" stroke="#2a2a2a" stroke-width="0.5"/>
<circle cx="229.84" cy="134.07" r="2.25" fill="#d0d0d0" stroke="#2a2a2a" stroke-width="0.5"/>
<circle cx="237.56" cy="145.34" r="2.25" fill="#d0d0d0" stroke="#2a2a2a" stroke-width="0.5"/>
<circle cx="223.36" cy="130.96" r="2.25" fill="#d0d0d0" stroke="#2a2a2a" stroke-width="0.5"/>
<circle cx="227.85" cy="141.22" r="2.25" fill="#d0d0d0" stroke="#2a2a2a" stroke-width="0.5"/>
<circle cx="225.92" cy="142.25" r="2.25" fill="#d0d0d0" stroke="#2a2a2a" stroke-width="0.5"/>
<circle cx="233.98" cy="145.62" r="2.25" fill="#d0d0d0" stroke="#2a2a2a" stroke-width="0.5"/>
<circle cx="218.55" cy="141.37" r="2.25" fill="#d0d0d0" stroke="#2a2a2a" stroke-width="0.5"/>
<circle cx="218.99" cy="139.01" r="2.25" fill="#d0d0d0" stroke="#2a2a2a" stroke-width="0.5"/>
<circle cx="226.31" cy="142.74" r="2.25" fill="#d0d0d0" stroke="#2a2a2a" stroke-width="0.5"/>
<circle cx="227" cy="140.51" r="2.25" fill="#d0d0d0" stroke="#2a2a2a" stroke-width="0.5"/>
<circle cx="218.53" cy="144.77" r="2.25" fill="#d0d0d0" stroke="#2a2a2a" stroke-width="0.5"/>
<circle cx="223.29" cy="138.36" r="2.25" fill="#d0d0d0" stroke="#2a2a2a" stroke-width="0.5"/>
<circle cx="218.19" cy="144.63" r="2.25" fill="#d0d0d0" stroke="#2a2a2a" stroke-width="0.5"/>
<circle cx="226.12" cy="137.31" r="2.25" fill="#d0d0d0" stroke="#2a2a2a" stroke-width="0.5"/>
<circle cx="233.19" cy="144.88" r="2.25" fill="#d0d0d0" stroke="#2a2a2a" stroke-width="0.5"/>
<circle cx="207.22" cy="142.01" r="2.25" fill="#d0d0d0" stroke="#2a2a2a" stroke-width="0.5"/>
<circle cx="235.12" cy="140.72" r="2.25" fill="#d0d0d0" stroke="#2a2a2a" stroke-width="0.5"/>
<circle cx="242.06" cy="144.97" r="2.25" fill="#d0d0d0" stroke="#2a2a2a" stroke-width="0.5"/>
<circle cx="215.91" cy="142.27" r="2.25" fill="#d0d0d0" stroke="#2a2a2a" stroke-width="0.5"/>
<circle cx="223.19" cy="137.12" r="2.25" fill="#d0d0d0" stroke="#2a2a2a" stroke-width="0.5"/>
<circle cx="206.8" cy="144.37" r="2.25" fill="#d0d0d0" stroke="#2a2a2a" stroke-width="0.5"/>
<circle cx="219.75" cy="141.73" r="2.25" fill="#d0d0d0" stroke="#2a2a2a" stroke-width="0.5"/>
<circle cx="230.06" cy="142.55" r="2.25" fill="#d0d0d0" stroke="#2a2a2a" stroke-width="0.5"/>
<circle cx="221.63" cy="134.28" r="2.25" fill="#d0d0d0" stroke="#2a2a2a" stroke-width="0.5"/>
<circle cx="242.17" cy="141.01" r="2.25" fill="#d0d0d0" stroke="#2a2a2a" stroke-width="0.5"/>
<circle cx="223.23" cy="139.49" r="2.25" fill="#d0d0d0" stroke="#2a2a2a" stroke-width="0.5"/>
<circle cx="222.95" cy="134.97" r="2.25" fill="#d0d0d0" stroke="#2a2a2a" stroke-width="0.5"/>
<circle cx="230.73" cy="144.08" r="2.25" fill="#d0d0d0" stroke="#2a2a2a" stroke-width="0.5"/>
<circle cx="215.25" cy="144.89" r="2.25" fill="#d0d0d0" stroke="#2a2a2a" stroke-width="0.5"/>
<circle cx="218.44" cy="145.92" r="2.25" fill="#d0d0d0" stroke="#2a2a2a" stroke-width="0.5"/>
<circle cx="233.31" cy="138.91" r="2.25" fill="#d0d0d0" stroke="#2a2a2a" stroke-width="0.5"/>
<circle cx="227.78" cy="143.74" r="2.25" fill="#d0d0d0" stroke="#2a2a2a" stroke-width="0.5"/>
<circle cx="228.59" cy="134.07" r="2.25" fill="#d0d0d0" stroke="#2a2a2a" stroke-width="0.5"/>
<circle cx="229.95" cy="136.73" r="2.25" fill="#d0d0d0" stroke="#2a2a2a" stroke-width="0.5"/>
<circle cx="240.73" cy="144.34" r="2.25" fill="#d0d0d0" stroke="#2a2a2a" stroke-width="0.5"/>
<circle cx="258.41" cy="142.9" r="2.25" fill="#d0d0d0" stroke="#2a2a2a" stroke-width="0.5"/>
<circle cx="225.64" cy="144.04" r="2.25" fill="#d0d0d0" stroke="#2a2a2a" stroke-width="0.5"/>
<circle cx="232.62" cy="144.78" r="2.25" fill="#d0d0d0" fill-opacity="0.25" stroke="#222" stroke-width="0.45"/>
<circle cx="219.78" cy="142.86" r="2.25" fill="#d0d0d0" fill-opacity="0.25" stroke="#222" stroke-width="0.45"/>
<circle cx="229.15" cy="144.87" r="2.25" fill="#d0d0d0" fill-opacity="0.25" stroke="#222" stroke-width="0.45"/>
<circle cx="225.99" cy="142.58" r="2.25" fill="#d0d0d0" fill-opacity="0.25" stroke="#222" stroke-width="0.45"/>
<circle cx="235.5" cy="144.05" r="2.25" fill="#d0d0d0" fill-opacity="0.25" stroke="#222" stroke-width="0.45"/>
<circle cx="226.54" cy="145.17" r="2.25" fill="#d0d0d0" fill-opacity="0.25" stroke="#222" stroke-width="0.45"/>
<circle cx="228.54" cy="145.31" r="2.25" fill="#d0d0d0" fill-opacity="0.25" stroke="#222" stroke-width="0.45"/>
<circle cx="235.16" cy="144.74" r="2.25" fill="#d0d0d0" fill-opacity="0.25" stroke="#222" stroke-width="0.45"/>
<circle cx="232.11" cy="145.39" r="2.25" fill="#d0d0d0" fill-opacity="0.25" stroke="#222" stroke-width="0.45"/>
<circle cx="220.03" cy="144.55" r="2.25" fill="#d0d0d0" fill-opacity="0.25" stroke="#222" stroke-width="0.45"/>
<circle cx="232.64" cy="145.08" r="2.25" fill="#d0d0d0" fill-opacity="0.25" stroke="#222" stroke-width="0.45"/>
<circle cx="224.63" cy="145.09" r="2.25" fill="#d0d0d0" fill-opacity="0.25" stroke="#222" stroke-width="0.45"/>
<circle cx="223.63" cy="144.64" r="2.25" fill="#d0d0d0" fill-opacity="0.25" stroke="#222" stroke-width="0.45"/>
<circle cx="236.1" cy="145.09" r="2.25" fill="#d0d0d0" fill-opacity="0.25" stroke="#222" stroke-width="0.45"/>
<circle cx="239.87" cy="144.86" r="2.25" fill="#d0d0d0" fill-opacity="0.25" stroke="#222" stroke-width="0.45"/>
<circle cx="235.59" cy="143.99" r="2.25" fill="#d0d0d0" fill-opacity="0.25" stroke="#222" stroke-width="0.45"/>
<circle cx="215.07" cy="145.49" r="2.25" fill="#d0d0d0" fill-opacity="0.25" stroke="#222" stroke-width="0.45"/>
<circle cx="221.09" cy="144.94" r="2.25" fill="#d0d0d0" fill-opacity="0.25" stroke="#222" stroke-width="0.45"/>
<circle cx="229.28" cy="143.83" r="2.25" fill="#d0d0d0" fill-opacity="0.25" stroke="#222" stroke-width="0.45"/>
<circle cx="229.7" cy="143.27" r="2.25" fill="#d0d0d0" fill-opacity="0.25" stroke="#222" stroke-width="0.45"/>
<circle cx="226.38" cy="145.52" r="2.25" fill="#d0d0d0" fill-opacity="0.25" stroke="#222" stroke-width="0.45"/>
<circle cx="230.64" cy="144.26" r="2.25" fill="#d0d0d0" fill-opacity="0.25" stroke="#222" stroke-width="0.45"/>
<circle cx="229.64" cy="144.72" r="2.25" fill="#d0d0d0" fill-opacity="0.25" stroke="#222" stroke-width="0.45"/>
<circle cx="227.73" cy="143.61" r="2.25" fill="#d0d0d0" fill-opacity="0.25" stroke="#222" stroke-width="0.45"/>
<circle cx="238.68" cy="144.54" r="2.25" fill="#d0d0d0" fill-opacity="0.25" stroke="#222" stroke-width="0.45"/>
<circle cx="232.95" cy="145.21" r="2.25" fill="#d0d0d0" fill-opacity="0.25" stroke="#222" stroke-width="0.45"/>
<circle cx="225.83" cy="145.02" r="2.25" fill="#d0d0d0" fill-opacity="0.25" stroke="#222" stroke-width="0.45"/>
<circle cx="235.57" cy="144.48" r="2.25" fill="#d0d0d0" fill-opacity="0.25" stroke="#222" stroke-width="0.45"/>
<circle cx="224.61" cy="143.36" r="2.25" fill="#d0d0d0" fill-opacity="0.25" stroke="#222" stroke-width="0.45"/>
<circle cx="240.74" cy="145.19" r="2.25" fill="#d0d0d0" fill-opacity="0.25" stroke="#222" stroke-width="0.45"/>
<circle cx="233.67" cy="145.34" r="2.25" fill="#d0d0d0" fill-opacity="0.25" stroke="#222" stroke-width="0.45"/>
<circle cx="239.82" cy="144.97" r="2.25" fill="#d0d0d0" fill-opacity="0.25" stroke="#222" stroke-width="0.45"/>
<circle cx="230.57" cy="144.91" r="2.25" fill="#d0d0d0" fill-opacity="0.25" stroke="#222" stroke-width="0.45"/>
<circle cx="239.91" cy="145.25" r="2.25" fill="#d0d0d0" fill-opacity="0.25" stroke="#222" stroke-width="0.45"/>
<circle cx="231.6" cy="144.91" r="2.25" fill="#d0d0d0" fill-opacity="0.25" stroke="#222" stroke-width="0.45"/>
<circle cx="225.5" cy="144.68" r="2.25" fill="#d0d0d0" fill-opacity="0.25" stroke="#222" stroke-width="0.45"/>
<circle cx="230.58" cy="144.35" r="2.25" fill="#d0d0d0" fill-opacity="0.25" stroke="#222" stroke-width="0.45"/>
<circle cx="225.24" cy="144.75" r="2.25" fill="#d0d0d0" fill-opacity="0.25" stroke="#222" stroke-width="0.45"/>
<circle cx="227.23" cy="145.1" r="2.25" fill="#d0d0d0" fill-opacity="0.25" stroke="#222" stroke-width="0.45"/>
<circle cx="234.79" cy="143.83" r="2.25" fill="#d0d0d0" fill-opacity="0.25" stroke="#222" stroke-width="0.45"/>
<circle cx="232.43" cy="144.19" r="2.25" fill="#d0d0d0" fill-opacity="0.25" stroke="#222" stroke-width="0.45"/>
<circle cx="234.89" cy="144.24" r="2.25" fill="#d0d0d0" fill-opacity="0.25" stroke="#222" stroke-width="0.45"/>
<circle cx="222.59" cy="144.6" r="2.25" fill="#d0d0d0" fill-opacity="0.25" stroke="#222" stroke-width="0.45"/>
<circle cx="229.58" cy="144.2" r="2.25" fill="#d0d0d0" fill-opacity="0.25" stroke="#222" stroke-width="0.45"/>
<circle cx="231.45" cy="145.39" r="2.25" fill="#d0d0d0" fill-opacity="0.25" stroke="#222" stroke-width="0.45"/>
<circle cx="230.57" cy="145.22" r="2.25" fill="#d0d0d0" fill-opacity="0.25" stroke="#222" stroke-width="0.45"/>
<circle cx="235.98" cy="144.57" r="2.25" fill="#d0d0d0" fill-opacity="0.25" stroke="#222" stroke-width="0.45"/>
<circle cx="230.01" cy="145.56" r="2.25" fill="#d0d0d0" fill-opacity="0.25" stroke="#222" stroke-width="0.45"/>
<circle cx="215.97" cy="145.05" r="2.25" fill="#d0d0d0" fill-opacity="0.25" stroke="#222" stroke-width="0.45"/>
<circle cx="224.74" cy="144.59" r="2.25" fill="#d0d0d0" fill-opacity="0.25" stroke="#222" stroke-width="0.45"/>
<circle cx="226.96" cy="145.46" r="2.25" fill="#d0d0d0" fill-opacity="0.25" stroke="#222" stroke-width="0.45"/>
<circle cx="232.26" cy="144.92" r="2.25" fill="#d0d0d0" fill-opacity="0.25" stroke="#222" stroke-width="0.45"/>
<circle cx="225.26" cy="144.62" r="2.25" fill="#d0d0d0" fill-opacity="0.25" stroke="#222" stroke-width="0.45"/>
<circle cx="232.85" cy="145.05" r="2.25" fill="#d0d0d0" fill-opacity="0.25" stroke="#222" stroke-width="0.45"/>
<circle cx="229.86" cy="144.47" r="2.25" fill="#d0d0d0" fill-opacity="0.25" stroke="#222" stroke-width="0.45"/>
<circle cx="232.95" cy="144.62" r="2.25" fill="#d0d0d0" fill-opacity="0.25" stroke="#222" stroke-width="0.45"/>
<circle cx="230.73" cy="144" r="2.25" fill="#d0d0d0" fill-opacity="0.25" stroke="#222" stroke-width="0.45"/>
<circle cx="245.14" cy="144.96" r="2.25" fill="#d0d0d0" fill-opacity="0.25" stroke="#222" stroke-width="0.45"/>
<circle cx="219.1" cy="143.18" r="2.25" fill="#d0d0d0" fill-opacity="0.25" stroke="#222" stroke-width="0.45"/>
<circle cx="226.12" cy="143.66" r="2.25" fill="#d0d0d0" fill-opacity="0.25" stroke="#222" stroke-width="0.45"/>
<circle cx="213.86" cy="145" r="2.25" fill="#d0d0d0" fill-opacity="0.25" stroke="#222" stroke-width="0.45"/>
<circle cx="237.46" cy="144.2" r="2.25" fill="#d0d0d0" fill-opacity="0.25" stroke="#222" stroke-width="0.45"/>
<circle cx="227.4" cy="143.57" r="2.25" fill="#d0d0d0" fill-opacity="0.25" stroke="#222" stroke-width="0.45"/>
<circle cx="229.47" cy="144.77" r="2.25" fill="#d0d0d0" fill-opacity="0.25" stroke="#222" stroke-width="0.45"/>
<circle cx="230.46" cy="145.3" r="2.25" fill="#d0d0d0" fill-opacity="0.25" stroke="#222" stroke-width="0.45"/>
<circle cx="230.34" cy="145.04" r="2.25" fill="#d0d0d0" fill-opacity="0.25" stroke="#222" stroke-width="0.45"/>
<circle cx="215.1" cy="143.4" r="2.25" fill="#d0d0d0" fill-opacity="0.25" stroke="#222" stroke-width="0.45"/>
<circle cx="226.13" cy="144.69" r="2.25" fill="#d0d0d0" fill-opacity="0.25" stroke="#222" stroke-width="0.45"/>
<circle cx="224.56" cy="145.37" r="2.25" fill="#d0d0d0" fill-opacity="0.25" stroke="#222" stroke-width="0.45"/>
<circle cx="228.8" cy="143.39" r="2.25" fill="#d0d0d0" fill-opacity="0.25" stroke="#222" stroke-width="0.45"/>
<circle cx="232.61" cy="144.71" r="2.25" fill="#d0d0d0" fill-opacity="0.25" stroke="#222" stroke-width="0.45"/>
<circle cx="222.41" cy="142.66" r="2.25" fill="#d0d0d0" fill-opacity="0.25" stroke="#222" stroke-width="0.45"/>
<circle cx="225.61" cy="144.42" r="2.25" fill="#d0d0d0" fill-opacity="0.25" stroke="#222" stroke-width="0.45"/>
<circle cx="230.75" cy="145.58" r="2.25" fill="#d0d0d0" fill-opacity="0.25" stroke="#222" stroke-width="0.45"/>
<circle cx="240.97" cy="144.69" r="2.25" fill="#d0d0d0" fill-opacity="0.25" stroke="#222" stroke-width="0.45"/>
<circle cx="228.26" cy="145.37" r="2.25" fill="#d0d0d0" fill-opacity="0.25" stroke="#222" stroke-width="0.45"/>
<circle cx="210.39" cy="144.33" r="2.25" fill="#d0d0d0" fill-opacity="0.25" stroke="#222" stroke-width="0.45"/>
<circle cx="223.73" cy="145.45" r="2.25" fill="#d0d0d0" fill-opacity="0.25" stroke="#222" stroke-width="0.45"/>
<circle cx="232.17" cy="145.3" r="2.25" fill="#d0d0d0" fill-opacity="0.25" stroke="#222" stroke-width="0.45"/>
<circle cx="236.36" cy="144.63" r="2.25" fill="#d0d0d0" fill-opacity="0.25" stroke="#222" stroke-width="0.45"/>
<circle cx="232.08" cy="145.42" r="2.25" fill="#d0d0d0" fill-opacity="0.25" stroke="#222" stroke-width="0.45"/>
<circle cx="230.09" cy="145.15" r="2.25" fill="#d0d0d0" fill-opacity="0.25" stroke="#222" stroke-width="0.45"/>
<circle cx="228.09" cy="145.3" r="2.25" fill="#d0d0d0" fill-opacity="0.25" stroke="#222" stroke-width="0.45"/>
<circle cx="229.76" cy="144.17" r="2.25" fill="#d0d0d0" fill-opacity="0.25" stroke="#222" stroke-width="0.45"/>
<circle cx="229.24" cy="145.17" r="2.25" fill="#d0d0d0" fill-opacity="0.25" stroke="#222" stroke-width="0.45"/>
<circle cx="247.65" cy="144.73" r="2.25" fill="#d0d0d0" fill-opacity="0.25" stroke="#222" stroke-width="0.45"/>
<circle cx="233.48" cy="144.09" r="2.25" fill="#d0d0d0" fill-opacity="0.25" stroke="#222" stroke-width="0.45"/>
<circle cx="223.16" cy="144.61" r="2.25" fill="#d0d0d0" fill-opacity="0.25" stroke="#222" stroke-width="0.45"/>
<circle cx="235.09" cy="144.99" r="2.25" fill="#d0d0d0" fill-opacity="0.25" stroke="#222" stroke-width="0.45"/>
<circle cx="236.62" cy="144.5" r="2.25" fill="#d0d0d0" fill-opacity="0.25" stroke="#222" stroke-width="0.45"/>
<circle cx="238.08" cy="144.7" r="2.25" fill="#d0d0d0" fill-opacity="0.25" stroke="#222" stroke-width="0.45"/>
<circle cx="232.94" cy="144.84" r="2.25" fill="#d0d0d0" fill-opacity="0.25" stroke="#222" stroke-width="0.45"/>
<circle cx="238.42" cy="145.41" r="2.25" fill="#d0d0d0" fill-opacity="0.25" stroke="#222" stroke-width="0.45"/>
<circle cx="221.18" cy="145.45" r="2.25" fill="#d0d0d0" fill-opacity="0.25" stroke="#222" stroke-width="0.45"/>
<circle cx="223.2" cy="144.23" r="2.25" fill="#d0d0d0" fill-opacity="0.25" stroke="#222" stroke-width="0.45"/>
<circle cx="227.71" cy="142.54" r="2.25" fill="#d0d0d0" fill-opacity="0.25" stroke="#222" stroke-width="0.45"/>
<circle cx="227.37" cy="144.17" r="2.25" fill="#d0d0d0" fill-opacity="0.25" stroke="#222" stroke-width="0.45"/>
<circle cx="232.24" cy="144.72" r="2.25" fill="#d0d0d0" fill-opacity="0.25" stroke="#222" stroke-width="0.45"/>
<circle cx="234.39" cy="144.8" r="2.25" fill="#d0d0d0" fill-opacity="0.25" stroke="#222" stroke-width="0.45"/>
<circle cx="239.97" cy="144.34" r="2.25" fill="#d0d0d0" fill-opacity="0.25" stroke="#222" stroke-width="0.45"/>
<circle cx="232.49" cy="144.5" r="2.25" fill="#d0d0d0" fill-opacity="0.25" stroke="#222" stroke-width="0.45"/>
<circle cx="231.93" cy="145.18" r="2.25" fill="#d0d0d0" fill-opacity="0.25" stroke="#222" stroke-width="0.45"/>
<circle cx="230.09" cy="145.01" r="2.25" fill="#d0d0d0" fill-opacity="0.25" stroke="#222" stroke-width="0.45"/>
<circle cx="221.96" cy="144.8" r="2.25" fill="#d0d0d0" fill-opacity="0.25" stroke="#222" stroke-width="0.45"/>
<circle cx="230.07" cy="145.1" r="2.25" fill="#d0d0d0" fill-opacity="0.25" stroke="#222" stroke-width="0.45"/>
<circle cx="229.35" cy="145.18" r="2.25" fill="#d0d0d0" fill-opacity="0.25" stroke="#222" stroke-width="0.45"/>
<circle cx="231.73" cy="144.51" r="2.25" fill="#d0d0d0" fill-opacity="0.25" stroke="#222" stroke-width="0.45"/>
<circle cx="227.83" cy="145.15" r="2.25" fill="#d0d0d0" fill-opacity="0.25" stroke="#222" stroke-width="0.45"/>
<circle cx="224.82" cy="145.02" r="2.25" fill="#d0d0d0" fill-opacity="0.25" stroke="#222" stroke-width="0.45"/>
<circle cx="230.13" cy="143.82" r="2.25" fill="#d0d0d0" fill-opacity="0.25" stroke="#222" stroke-width="0.45"/>
<circle cx="237.87" cy="144.36" r="2.25" fill="#d0d0d0" fill-opacity="0.25" stroke="#222" stroke-width="0.45"/>
<circle cx="230.54" cy="143.77" r="2.25" fill="#d0d0d0" fill-opacity="0.25" stroke="#222" stroke-width="0.45"/>
<circle cx="218.29" cy="144.68" r="2.25" fill="#d0d0d0" fill-opacity="0.25" stroke="#222" stroke-width="0.45"/>
<circle cx="220.53" cy="142.71" r="2.25" fill="#d0d0d0" fill-opacity="0.25" stroke="#222" stroke-width="0.45"/>
<circle cx="228.55" cy="143.44" r="2.25" fill="#d0d0d0" fill-opacity="0.25" stroke="#222" stroke-width="0.45"/>
<circle cx="228.62" cy="143.06" r="2.25" fill="#d0d0d0" fill-opacity="0.25" stroke="#222" stroke-width="0.45"/>
<circle cx="227.34" cy="145.1" r="2.25" fill="#d0d0d0" fill-opacity="0.25" stroke="#222" stroke-width="0.45"/>
<circle cx="233.79" cy="145.26" r="2.25" fill="#d0d0d0" fill-opacity="0.25" stroke="#222" stroke-width="0.45"/>
<circle cx="229.19" cy="143.5" r="2.25" fill="#d0d0d0" fill-opacity="0.25" stroke="#222" stroke-width="0.45"/>
<circle cx="229.45" cy="145.11" r="2.25" fill="#d0d0d0" fill-opacity="0.25" stroke="#222" stroke-width="0.45"/>
<circle cx="230.75" cy="143.82" r="2.25" fill="#d0d0d0" fill-opacity="0.25" stroke="#222" stroke-width="0.45"/>
<circle cx="232.16" cy="145.52" r="2.25" fill="#d0d0d0" fill-opacity="0.25" stroke="#222" stroke-width="0.45"/>
<circle cx="234.37" cy="144.64" r="2.25" fill="#d0d0d0" fill-opacity="0.25" stroke="#222" stroke-width="0.45"/>
<circle cx="240.57" cy="142.96" r="2.25" fill="#d0d0d0" fill-opacity="0.25" stroke="#222" stroke-width="0.45"/>
<circle cx="226.24" cy="144.94" r="2.25" fill="#d0d0d0" fill-opacity="0.25" stroke="#222" stroke-width="0.45"/>
<circle cx="224.18" cy="145.03" r="2.25" fill="#d0d0d0" fill-opacity="0.25" stroke="#222" stroke-width="0.45"/>
<circle cx="229.48" cy="145.41" r="2.25" fill="#d0d0d0" fill-opacity="0.25" stroke="#222" stroke-width="0.45"/>
<circle cx="219.01" cy="144.27" r="2.25" fill="#d0d0d0" fill-opacity="0.25" stroke="#222" stroke-width="0.45"/>
<circle cx="229.56" cy="144.98" r="2.25" fill="#d0d0d0" fill-opacity="0.25" stroke="#222" stroke-width="0.45"/>
<circle cx="225.91" cy="145.44" r="2.25" fill="#d0d0d0" fill-opacity="0.25" stroke="#222" stroke-width="0.45"/>
<circle cx="228.14" cy="144.13" r="2.25" fill="#d0d0d0" fill-opacity="0.25" stroke="#222" stroke-width="0.45"/>
<circle cx="241.21" cy="144.66" r="2.25" fill="#d0d0d0" fill-opacity="0.25" stroke="#222" stroke-width="0.45"/>
<circle cx="234.37" cy="144.77" r="2.25" fill="#d0d0d0" fill-opacity="0.25" stroke="#222" stroke-width="0.45"/>
<circle cx="236.51" cy="144.81" r="2.25" fill="#d0d0d0" fill-opacity="0.25" stroke="#222" stroke-width="0.45"/>
<circle cx="223.28" cy="144.99" r="2.25" fill="#d0d0d0" fill-opacity="0.25" stroke="#222" stroke-width="0.45"/>
<circle cx="231.75" cy="142.33" r="2.25" fill="#d0d0d0" fill-opacity="0.25" stroke="#222" stroke-width="0.45"/>
<circle cx="212.4" cy="144.85" r="2.25" fill="#d0d0d0" fill-opacity="0.25" stroke="#222" stroke-width="0.45"/>
<circle cx="227.38" cy="145.23" r="2.25" fill="#d0d0d0" fill-opacity="0.25" stroke="#222" stroke-width="0.45"/>
<circle cx="232.79" cy="144.26" r="2.25" fill="#d0d0d0" fill-opacity="0.25" stroke="#222" stroke-width="0.45"/>
<circle cx="247.78" cy="144.35" r="2.25" fill="#d0d0d0" fill-opacity="0.25" stroke="#222" stroke-width="0.45"/>
<circle cx="238.73" cy="145.22" r="2.25" fill="#d0d0d0" fill-opacity="0.25" stroke="#222" stroke-width="0.45"/>
<circle cx="216.04" cy="145.27" r="2.25" fill="#d0d0d0" fill-opacity="0.25" stroke="#222" stroke-width="0.45"/>
<circle cx="226.3" cy="144.99" r="2.25" fill="#d0d0d0" fill-opacity="0.25" stroke="#222" stroke-width="0.45"/>
<circle cx="229.23" cy="144.68" r="2.25" fill="#d0d0d0" fill-opacity="0.25" stroke="#222" stroke-width="0.45"/>
<circle cx="224.09" cy="145.1" r="2.25" fill="#d0d0d0" fill-opacity="0.25" stroke="#222" stroke-width="0.45"/>
<circle cx="230.03" cy="144.56" r="2.25" fill="#d0d0d0" fill-opacity="0.25" stroke="#222" stroke-width="0.45"/>
<circle cx="226.93" cy="144.75" r="2.25" fill="#d0d0d0" fill-opacity="0.25" stroke="#222" stroke-width="0.45"/>
<circle cx="242.94" cy="145.3" r="2.25" fill="#d0d0d0" fill-opacity="0.25" stroke="#222" stroke-width="0.45"/>
<circle cx="235.54" cy="144.03" r="2.25" fill="#d0d0d0" fill-opacity="0.25" stroke="#222" stroke-width="0.45"/>
<circle cx="226.93" cy="145.15" r="2.25" fill="#d0d0d0" fill-opacity="0.25" stroke="#222" stroke-width="0.45"/>
<circle cx="233.87" cy="144.18" r="2.25" fill="#d0d0d0" fill-opacity="0.25" stroke="#222" stroke-width="0.45"/>
<circle cx="234.03" cy="145.4" r="2.25" fill="#d0d0d0" fill-opacity="0.25" stroke="#222" stroke-width="0.45"/>
<circle cx="238.8" cy="144.31" r="2.25" fill="#d0d0d0" fill-opacity="0.25" stroke="#222" stroke-width="0.45"/>
<circle cx="233.67" cy="145.05" r="2.25" fill="#d0d0d0" fill-opacity="0.25" stroke="#222" stroke-width="0.45"/>
<circle cx="231.75" cy="144.41" r="2.25" fill="#d0d0d0" fill-opacity="0.25" stroke="#222" stroke-width="0.45"/>
<circle cx="224.45" cy="143.05" r="2.25" fill="#d0d0d0" fill-opacity="0.25" stroke="#222" stroke-width="0.45"/>
<circle cx="221.27" cy="143.84" r="2.25" fill="#d0d0d0" fill-opacity="0.25" stroke="#222" stroke-width="0.45"/>
<circle cx="229.31" cy="145.46" r="2.25" fill="#d0d0d0" fill-opacity="0.25" stroke="#222" stroke-width="0.45"/>
<circle cx="220.99" cy="145.46" r="2.25" fill="#d0d0d0" fill-opacity="0.25" stroke="#222" stroke-width="0.45"/>
<circle cx="232.69" cy="144.33" r="2.25" fill="#d0d0d0" fill-opacity="0.25" stroke="#222" stroke-width="0.45"/>
<circle cx="229.35" cy="145.3" r="2.25" fill="#d0d0d0" fill-opacity="0.25" stroke="#222" stroke-width="0.45"/>
<circle cx="227.46" cy="144.33" r="2.25" fill="#d0d0d0" fill-opacity="0.25" stroke="#222" stroke-width="0.45"/>
<circle cx="219.52" cy="145.27" r="2.25" fill="#d0d0d0" fill-opacity="0.25" stroke="#222" stroke-width="0.45"/>
<circle cx="214.43" cy="143.24" r="2.25" fill="#d0d0d0" fill-opacity="0.25" stroke="#222" stroke-width="0.45"/>
<circle cx="236.18" cy="142.69" r="2.25" fill="#d0d0d0" fill-opacity="0.25" stroke="#222" stroke-width="0.45"/>
<circle cx="226.44" cy="143.65" r="2.25" fill="#d0d0d0" fill-opacity="0.25" stroke="#222" stroke-width="0.45"/>
<circle cx="218.15" cy="145.03" r="2.25" fill="#d0d0d0" fill-opacity="0.25" stroke="#222" stroke-width="0.45"/>
<circle cx="224.06" cy="144.17" r="2.25" fill="#d0d0d0" fill-opacity="0.25" stroke="#222" stroke-width="0.45"/>
<circle cx="226.46" cy="144.06" r="2.25" fill="#d0d0d0" fill-opacity="0.25" stroke="#222" stroke-width="0.45"/>
<circle cx="229.42" cy="145.05" r="2.25" fill="#d0d0d0" fill-opacity="0.25" stroke="#222" stroke-width="0.45"/>
<circle cx="235.44" cy="144.92" r="2.25" fill="#d0d0d0" fill-opacity="0.25" stroke="#222" stroke-width="0.45"/>
<circle cx="219.95" cy="144.46" r="2.25" fill="#d0d0d0" fill-opacity="0.25" stroke="#222" stroke-width="0.45"/>
<circle cx="228.71" cy="144.43" r="2.25" fill="#d0d0d0" fill-opacity="0.25" stroke="#222" stroke-width="0.45"/>
<circle cx="234.92" cy="145.12" r="2.25" fill="#d0d0d0" fill-opacity="0.25" stroke="#222" stroke-width="0.45"/>
<circle cx="229.44" cy="145.07" r="2.25" fill="#d0d0d0" fill-opacity="0.25" stroke="#222" stroke-width="0.45"/>
<circle cx="230.22" cy="143.52" r="2.25" fill="#d0d0d0" fill-opacity="0.25" stroke="#222" stroke-width="0.45"/>
<circle cx="243.98" cy="144.8" r="2.25" fill="#d0d0d0" fill-opacity="0.25" stroke="#222" stroke-width="0.45"/>
<circle cx="225.05" cy="143.13" r="2.25" fill="#d0d0d0" fill-opacity="0.25" stroke="#222" stroke-width="0.45"/>
<circle cx="229.33" cy="143.68" r="2.25" fill="#d0d0d0" fill-opacity="0.25" stroke="#222" stroke-width="0.45"/>
<circle cx="232.1" cy="143.97" r="2.25" fill="#d0d0d0" fill-opacity="0.25" stroke="#222" stroke-width="0.45"/>
<circle cx="233.99" cy="144.97" r="2.25" fill="#d0d0d0" fill-opacity="0.25" stroke="#222" stroke-width="0.45"/>
<circle cx="238.41" cy="145.32" r="2.25" fill="#d0d0d0" fill-opacity="0.25" stroke="#222" stroke-width="0.45"/>
<circle cx="229.59" cy="145.53" r="2.25" fill="#d0d0d0" fill-opacity="0.25" stroke="#222" stroke-width="0.45"/>
<circle cx="226.72" cy="145.04" r="2.25" fill="#d0d0d0" fill-opacity="0.25" stroke="#222" stroke-width="0.45"/>
<circle cx="221.66" cy="143.14" r="2.25" fill="#d0d0d0" fill-opacity="0.25" stroke="#222" stroke-width="0.45"/>
<circle cx="237.92" cy="144.57" r="2.25" fill="#d0d0d0" fill-opacity="0.25" stroke="#222" stroke-width="0.45"/>
<circle cx="227.53" cy="145.16" r="2.25" fill="#d0d0d0" fill-opacity="0.25" stroke="#222" stroke-width="0.45"/>
<circle cx="226.76" cy="143.95" r="2.25" fill="#d0d0d0" fill-opacity="0.25" stroke="#222" stroke-width="0.45"/>
<circle cx="228.57" cy="144.28" r="2.25" fill="#d0d0d0" fill-opacity="0.25" stroke="#222" stroke-width="0.45"/>
<circle cx="233.56" cy="144.97" r="2.25" fill="#d0d0d0" fill-opacity="0.25" stroke="#222" stroke-width="0.45"/>
<circle cx="228.16" cy="144.56" r="2.25" fill="#d0d0d0" fill-opacity="0.25" stroke="#222" stroke-width="0.45"/>
<circle cx="219.56" cy="143.53" r="2.25" fill="#d0d0d0" fill-opacity="0.25" stroke="#222" stroke-width="0.45"/>
<circle cx="234.77" cy="143.88" r="2.25" fill="#d0d0d0" fill-opacity="0.25" stroke="#222" stroke-width="0.45"/>
<circle cx="230.5" cy="144.61" r="2.25" fill="#d0d0d0" fill-opacity="0.25" stroke="#222" stroke-width="0.45"/>
<circle cx="238.11" cy="144.91" r="2.25" fill="#d0d0d0" fill-opacity="0.25" stroke="#222" stroke-width="0.45"/>
<circle cx="236.75" cy="143.08" r="2.25" fill="#d0d0d0" fill-opacity="0.25" stroke="#222" stroke-width="0.45"/>
<circle cx="229.03" cy="144.16" r="2.25" fill="#d0d0d0" fill-opacity="0.25" stroke="#222" stroke-width="0.45"/>
<circle cx="222.56" cy="144.82" r="2.25" fill="#d0d0d0" fill-opacity="0.25" stroke="#222" stroke-width="0.45"/>
<circle cx="234.77" cy="144.93" r="2.25" fill="#d0d0d0" fill-opacity="0.25" stroke="#222" stroke-width="0.45"/>
<circle cx="228.22" cy="143.73" r="2.25" fill="#d0d0d0" fill-opacity="0.25" stroke="#222" stroke-width="0.45"/>
<circle cx="234.28" cy="145.41" r="2.25" fill="#d0d0d0" fill-opacity="0.25" stroke="#222" stroke-width="0.45"/>
<circle cx="233.31" cy="145.47" r="2.25" fill="#d0d0d0" fill-opacity="0.25" stroke="#222" stroke-width="0.45"/>
<circle cx="221.46" cy="144.87" r="2.25" fill="#d0d0d0" fill-opacity="0.25" stroke="#222" stroke-width="0.45"/>
<circle cx="231.78" cy="144.77" r="2.25" fill="#d0d0d0" fill-opacity="0.25" stroke="#222" stroke-width="0.45"/>
<circle cx="221.87" cy="144.47" r="2.25" fill="#d0d0d0" fill-opacity="0.25" stroke="#222" stroke-width="0.45"/>
<circle cx="225.97" cy="143.5" r="2.25" fill="#d0d0d0" fill-opacity="0.25" stroke="#222" stroke-width="0.45"/>
<circle cx="237.25" cy="144.99" r="2.25" fill="#d0d0d0" fill-opacity="0.25" stroke="#222" stroke-width="0.45"/>
<circle cx="238.66" cy="142.57" r="2.25" fill="#d0d0d0" fill-opacity="0.25" stroke="#222" stroke-width="0.45"/>
<circle cx="224.47" cy="143.12" r="2.25" fill="#d0d0d0" fill-opacity="0.25" stroke="#222" stroke-width="0.45"/>
<circle cx="220.49" cy="143.07" r="2.25" fill="#d0d0d0" fill-opacity="0.25" stroke="#222" stroke-width="0.45"/>
<circle cx="231.38" cy="143.46" r="2.25" fill="#d0d0d0" fill-opacity="0.25" stroke="#222" stroke-width="0.45"/>
<circle cx="234.18" cy="144.26" r="2.25" fill="#d0d0d0" fill-opacity="0.25" stroke="#222" stroke-width="0.45"/>
<circle cx="233.6" cy="145.06" r="2.25" fill="#d0d0d0" fill-opacity="0.25" stroke="#222" stroke-width="0.45"/>
<circle cx="231.66" cy="145.09" r="2.25" fill="#d0d0d0" fill-opacity="0.25" stroke="#222" stroke-width="0.45"/>
<circle cx="235.43" cy="144.02" r="2.25" fill="#d0d0d0" fill-opacity="0.25" stroke="#222" stroke-width="0.45"/>
<circle cx="239.06" cy="144.16" r="2.25" fill="#d0d0d0" fill-opacity="0.25" stroke="#222" stroke-width="0.45"/>
<circle cx="228.92" cy="143.03" r="2.25" fill="#d0d0d0" fill-opacity="0.25" stroke="#222" stroke-width="0.45"/>
<circle cx="233.56" cy="143.51" r="2.25" fill="#d0d0d0" fill-opacity="0.25" stroke="#222" stroke-width="0.45"/>
<circle cx="245.15" cy="143.99" r="2.25" fill="#d0d0d0" fill-opacity="0.25" stroke="#222" stroke-width="0.45"/>
<circle cx="217.55" cy="143.03" r="2.25" fill="#d0d0d0" fill-opacity="0.25" stroke="#222" stroke-width="0.45"/>
<circle cx="232.52" cy="145.21" r="2.25" fill="#d0d0d0" fill-opacity="0.25" stroke="#222" stroke-width="0.45"/>
<circle cx="234.25" cy="145.22" r="2.25" fill="#d0d0d0" fill-opacity="0.25" stroke="#222" stroke-width="0.45"/>
<circle cx="224.69" cy="144.5" r="2.25" fill="#d0d0d0" fill-opacity="0.25" stroke="#222" stroke-width="0.45"/>
<circle cx="225.26" cy="143.51" r="2.25" fill="#d0d0d0" fill-opacity="0.25" stroke="#222" stroke-width="0.45"/>
<circle cx="235.97" cy="144.89" r="2.25" fill="#d0d0d0" fill-opacity="0.25" stroke="#222" stroke-width="0.45"/>
<circle cx="223.65" cy="145.23" r="2.25" fill="#d0d0d0" fill-opacity="0.25" stroke="#222" stroke-width="0.45"/>
<circle cx="236.78" cy="144.33" r="2.25" fill="#d0d0d0" fill-opacity="0.25" stroke="#222" stroke-width="0.45"/>
<circle cx="222.73" cy="144.09" r="2.25" fill="#d0d0d0" fill-opacity="0.25" stroke="#222" stroke-width="0.45"/>
<circle cx="212.57" cy="145.5" r="2.25" fill="#d0d0d0" fill-opacity="0.25" stroke="#222" stroke-width="0.45"/>
<circle cx="232.48" cy="145.42" r="2.25" fill="#d0d0d0" fill-opacity="0.25" stroke="#222" stroke-width="0.45"/>
<circle cx="230.67" cy="143.37" r="2.25" fill="#d0d0d0" fill-opacity="0.25" stroke="#222" stroke-width="0.45"/>
<circle cx="229.04" cy="144.93" r="2.25" fill="#d0d0d0" fill-opacity="0.25" stroke="#222" stroke-width="0.45"/>
<circle cx="223.7" cy="145.43" r="2.25" fill="#d0d0d0" fill-opacity="0.25" stroke="#222" stroke-width="0.45"/>
<circle cx="228.79" cy="142.48" r="2.25" fill="#d0d0d0" fill-opacity="0.25" stroke="#222" stroke-width="0.45"/>
<circle cx="225.84" cy="144.82" r="2.25" fill="#d0d0d0" fill-opacity="0.25" stroke="#222" stroke-width="0.45"/>
<circle cx="219.49" cy="145.58" r="2.25" fill="#d0d0d0" fill-opacity="0.25" stroke="#222" stroke-width="0.45"/>
<circle cx="232.16" cy="143.82" r="2.25" fill="#d0d0d0" fill-opacity="0.25" stroke="#222" stroke-width="0.45"/>
<circle cx="228.24" cy="144.38" r="2.25" fill="#d0d0d0" fill-opacity="0.25" stroke="#222" stroke-width="0.45"/>
<circle cx="234.75" cy="144.22" r="2.25" fill="#d0d0d0" fill-opacity="0.25" stroke="#222" stroke-width="0.45"/>
<circle cx="236.75" cy="145.14" r="2.25" fill="#d0d0d0" fill-opacity="0.25" stroke="#222" stroke-width="0.45"/>
<circle cx="230.77" cy="143.53" r="2.25" fill="#d0d0d0" fill-opacity="0.25" stroke="#222" stroke-width="0.45"/>
<circle cx="234.84" cy="145.1" r="2.25" fill="#d0d0d0" fill-opacity="0.25" stroke="#222" stroke-width="0.45"/>
<circle cx="236.38" cy="144.69" r="2.25" fill="#d0d0d0" fill-opacity="0.25" stroke="#222" stroke-width="0.45"/>
<circle cx="238.45" cy="145.43" r="2.25" fill="#d0d0d0" fill-opacity="0.25" stroke="#222" stroke-width="0.45"/>
<circle cx="218.03" cy="143.46" r="2.25" fill="#d0d0d0" fill-opacity="0.25" stroke="#222" stroke-width="0.45"/>
<circle cx="235.34" cy="144.88" r="2.25" fill="#d0d0d0" fill-opacity="0.25" stroke="#222" stroke-width="0.45"/>
<circle cx="230.26" cy="145.47" r="2.25" fill="#d0d0d0" fill-opacity="0.25" stroke="#222" stroke-width="0.45"/>
<circle cx="230.64" cy="144.28" r="2.25" fill="#d0d0d0" fill-opacity="0.25" stroke="#222" stroke-width="0.45"/>
<circle cx="235.14" cy="145.49" r="2.25" fill="#d0d0d0" fill-opacity="0.25" stroke="#222" stroke-width="0.45"/>
<circle cx="223.55" cy="145.24" r="2.25" fill="#d0d0d0" fill-opacity="0.25" stroke="#222" stroke-width="0.45"/>
<circle cx="227.77" cy="145.55" r="2.25" fill="#d0d0d0" fill-opacity="0.25" stroke="#222" stroke-width="0.45"/>
<circle cx="233.61" cy="141.89" r="2.25" fill="#d0d0d0" fill-opacity="0.25" stroke="#222" stroke-width="0.45"/>
<circle cx="222.81" cy="145.04" r="2.25" fill="#d0d0d0" fill-opacity="0.25" stroke="#222" stroke-width="0.45"/>
<circle cx="234.73" cy="145.02" r="2.25" fill="#d0d0d0" fill-opacity="0.25" stroke="#222" stroke-width="0.45"/>
<circle cx="239.95" cy="145" r="2.25" fill="#d0d0d0" fill-opacity="0.25" stroke="#222" stroke-width="0.45"/>
<circle cx="227.76" cy="145.58" r="2.25" fill="#d0d0d0" fill-opacity="0.25" stroke="#222" stroke-width="0.45"/>
<circle cx="220.78" cy="144.08" r="2.25" fill="#d0d0d0" fill-opacity="0.25" stroke="#222" stroke-width="0.45"/>
<circle cx="221.63" cy="144.85" r="2.25" fill="#d0d0d0" fill-opacity="0.25" stroke="#222" stroke-width="0.45"/>
<circle cx="238" cy="144.44" r="2.25" fill="#d0d0d0" fill-opacity="0.25" stroke="#222" stroke-width="0.45"/>
<circle cx="228.79" cy="145.31" r="2.25" fill="#d0d0d0" fill-opacity="0.25" stroke="#222" stroke-width="0.45"/>
<circle cx="241.52" cy="145.24" r="2.25" fill="#d0d0d0" fill-opacity="0.25" stroke="#222" stroke-width="0.45"/>
<circle cx="218.16" cy="144.12" r="2.25" fill="#d0d0d0" fill-opacity="0.25" stroke="#222" stroke-width="0.45"/>
<circle cx="236.92" cy="142.83" r="2.25" fill="#d0d0d0" fill-opacity="0.25" stroke="#222" stroke-width="0.45"/>
<circle cx="211.67" cy="141.99" r="2.25" fill="#d0d0d0" fill-opacity="0.25" stroke="#222" stroke-width="0.45"/>
<circle cx="230.56" cy="142.65" r="2.25" fill="#d0d0d0" fill-opacity="0.25" stroke="#222" stroke-width="0.45"/>
<circle cx="237.07" cy="143.64" r="2.25" fill="#d0d0d0" fill-opacity="0.25" stroke="#222" stroke-width="0.45"/>
<circle cx="213.94" cy="143.84" r="2.25" fill="#d0d0d0" fill-opacity="0.25" stroke="#222" stroke-width="0.45"/>
<circle cx="234.75" cy="145.56" r="2.25" fill="#d0d0d0" fill-opacity="0.25" stroke="#222" stroke-width="0.45"/>
<circle cx="225.24" cy="145.07" r="2.25" fill="#d0d0d0" fill-opacity="0.25" stroke="#222" stroke-width="0.45"/>
<circle cx="224.51" cy="145.38" r="2.25" fill="#d0d0d0" fill-opacity="0.25" stroke="#222" stroke-width="0.45"/>
<circle cx="228.25" cy="144.98" r="2.25" fill="#d0d0d0" fill-opacity="0.25" stroke="#222" stroke-width="0.45"/>
<circle cx="233.66" cy="144.25" r="2.25" fill="#d0d0d0" fill-opacity="0.25" stroke="#222" stroke-width="0.45"/>
<circle cx="235.96" cy="144.99" r="2.25" fill="#d0d0d0" fill-opacity="0.25" stroke="#222" stroke-width="0.45"/>
<circle cx="241.31" cy="143.85" r="2.25" fill="#d0d0d0" fill-opacity="0.25" stroke="#222" stroke-width="0.45"/>
<circle cx="230.43" cy="145.34" r="2.25" fill="#d0d0d0" fill-opacity="0.25" stroke="#222" stroke-width="0.45"/>
<circle cx="238.17" cy="142.46" r="2.25" fill="#d0d0d0" fill-opacity="0.25" stroke="#222" stroke-width="0.45"/>
<circle cx="227.01" cy="145.16" r="2.25" fill="#d0d0d0" fill-opacity="0.25" stroke="#222" stroke-width="0.45"/>
<circle cx="231.29" cy="142.46" r="2.25" fill="#d0d0d0" fill-opacity="0.25" stroke="#222" stroke-width="0.45"/>
<circle cx="231.58" cy="145.47" r="2.25" fill="#d0d0d0" fill-opacity="0.25" stroke="#222" stroke-width="0.45"/>
<circle cx="232.87" cy="144.24" r="2.25" fill="#d0d0d0" fill-opacity="0.25" stroke="#222" stroke-width="0.45"/>
<circle cx="228.81" cy="143.27" r="2.25" fill="#d0d0d0" fill-opacity="0.25" stroke="#222" stroke-width="0.45"/>
<circle cx="221.8" cy="143.87" r="2.25" fill="#d0d0d0" fill-opacity="0.25" stroke="#222" stroke-width="0.45"/>
<circle cx="234.75" cy="144.22" r="2.25" fill="#d0d0d0" fill-opacity="0.25" stroke="#222" stroke-width="0.45"/>
<circle cx="240.45" cy="145.26" r="2.25" fill="#d0d0d0" fill-opacity="0.25" stroke="#222" stroke-width="0.45"/>
<circle cx="232.78" cy="145.24" r="2.25" fill="#d0d0d0" fill-opacity="0.25" stroke="#222" stroke-width="0.45"/>
<circle cx="225.91" cy="144.54" r="2.25" fill="#d0d0d0" fill-opacity="0.25" stroke="#222" stroke-width="0.45"/>
<circle cx="224.74" cy="144.43" r="2.25" fill="#d0d0d0" fill-opacity="0.25" stroke="#222" stroke-width="0.45"/>
<circle cx="214.61" cy="143.81" r="2.25" fill="#d0d0d0" fill-opacity="0.25" stroke="#222" stroke-width="0.45"/>
<circle cx="230.5" cy="143.79" r="2.25" fill="#d0d0d0" fill-opacity="0.25" stroke="#222" stroke-width="0.45"/>
<circle cx="229.3" cy="143.85" r="2.25" fill="#d0d0d0" fill-opacity="0.25" stroke="#222" stroke-width="0.45"/>
<circle cx="229.58" cy="144.86" r="2.25" fill="#d0d0d0" fill-opacity="0.25" stroke="#222" stroke-width="0.45"/>
<circle cx="219.44" cy="145.34" r="2.25" fill="#d0d0d0" fill-opacity="0.25" stroke="#222" stroke-width="0.45"/>
<circle cx="241.66" cy="145.48" r="2.25" fill="#d0d0d0" fill-opacity="0.25" stroke="#222" stroke-width="0.45"/>
<circle cx="222.97" cy="144.79" r="2.25" fill="#d0d0d0" fill-opacity="0.25" stroke="#222" stroke-width="0.45"/>
<circle cx="220.73" cy="144.01" r="2.25" fill="#d0d0d0" fill-opacity="0.25" stroke="#222" stroke-width="0.45"/>
<circle cx="237.52" cy="145.03" r="2.25" fill="#d0d0d0" fill-opacity="0.25" stroke="#222" stroke-width="0.45"/>
<circle cx="236.52" cy="145.27" r="2.25" fill="#d0d0d0" fill-opacity="0.25" stroke="#222" stroke-width="0.45"/>
<circle cx="229.2" cy="145.36" r="2.25" fill="#d0d0d0" fill-opacity="0.25" stroke="#222" stroke-width="0.45"/>
<circle cx="227.8" cy="144.14" r="2.25" fill="#d0d0d0" fill-opacity="0.25" stroke="#222" stroke-width="0.45"/>
<circle cx="221.3" cy="142.97" r="2.25" fill="#d0d0d0" fill-opacity="0.25" stroke="#222" stroke-width="0.45"/>
<circle cx="224.26" cy="144.35" r="2.25" fill="#d0d0d0" fill-opacity="0.25" stroke="#222" stroke-width="0.45"/>
<circle cx="226.33" cy="142.39" r="2.25" fill="#d0d0d0" fill-opacity="0.25" stroke="#222" stroke-width="0.45"/>
<circle cx="249.23" cy="144.3" r="2.25" fill="#d0d0d0" fill-opacity="0.25" stroke="#222" stroke-width="0.45"/>
<circle cx="228.69" cy="144.8" r="2.25" fill="#d0d0d0" fill-opacity="0.25" stroke="#222" stroke-width="0.45"/>
<circle cx="232.48" cy="145.37" r="2.25" fill="#d0d0d0" fill-opacity="0.25" stroke="#222" stroke-width="0.45"/>
<circle cx="219.47" cy="144.88" r="2.25" fill="#d0d0d0" fill-opacity="0.25" stroke="#222" stroke-width="0.45"/>
<circle cx="223.36" cy="145.35" r="2.25" fill="#d0d0d0" fill-opacity="0.25" stroke="#222" stroke-width="0.45"/>
<circle cx="235.1" cy="145.06" r="2.25" fill="#d0d0d0" fill-opacity="0.25" stroke="#222" stroke-width="0.45"/>
<circle cx="217.88" cy="144.76" r="2.25" fill="#d0d0d0" fill-opacity="0.25" stroke="#222" stroke-width="0.45"/>
<circle cx="234.09" cy="144.61" r="2.25" fill="#d0d0d0" fill-opacity="0.25" stroke="#222" stroke-width="0.45"/>
<circle cx="221.22" cy="145.54" r="2.25" fill="#d0d0d0" fill-opacity="0.25" stroke="#222" stroke-width="0.45"/>
<circle cx="231.98" cy="144.11" r="2.25" fill="#d0d0d0" fill-opacity="0.25" stroke="#222" stroke-width="0.45"/>
<circle cx="232.71" cy="145.38" r="2.25" fill="#d0d0d0" fill-opacity="0.25" stroke="#222" stroke-width="0.45"/>
<circle cx="227.93" cy="144.95" r="2.25" fill="#d0d0d0" fill-opacity="0.25" stroke="#222" stroke-width="0.45"/>
<circle cx="235.21" cy="145.38" r="2.25" fill="#d0d0d0" fill-opacity="0.25" stroke="#222" stroke-width="0.45"/>
<circle cx="228.08" cy="143.18" r="2.25" fill="#d0d0d0" fill-opacity="0.25" stroke="#222" stroke-width="0.45"/>
<circle cx="229.71" cy="144.51" r="2.25" fill="#d0d0d0" fill-opacity="0.25" stroke="#222" stroke-width="0.45"/>
<circle cx="234.55" cy="143.88" r="2.25" fill="#d0d0d0" fill-opacity="0.25" stroke="#222" stroke-width="0.45"/>
<circle cx="222.68" cy="144.33" r="2.25" fill="#d0d0d0" fill-opacity="0.25" stroke="#222" stroke-width="0.45"/>
<circle cx="230.14" cy="144.51" r="2.25" fill="#d0d0d0" fill-opacity="0.25" stroke="#222" stroke-width="0.45"/>
<circle cx="235.22" cy="144.55" r="2.25" fill="#d0d0d0" fill-opacity="0.25" stroke="#222" stroke-width="0.45"/>
<circle cx="233.39" cy="145.07" r="2.25" fill="#d0d0d0" fill-opacity="0.25" stroke="#222" stroke-width="0.45"/>
<circle cx="231.44" cy="145.25" r="2.25" fill="#d0d0d0" fill-opacity="0.25" stroke="#222" stroke-width="0.45"/>
<circle cx="229.44" cy="143.81" r="2.25" fill="#d0d0d0" fill-opacity="0.25" stroke="#222" stroke-width="0.45"/>
<circle cx="232.02" cy="145.57" r="2.25" fill="#d0d0d0" fill-opacity="0.25" stroke="#222" stroke-width="0.45"/>
<circle cx="233.56" cy="144.14" r="2.25" fill="#d0d0d0" fill-opacity="0.25" stroke="#222" stroke-width="0.45"/>
<circle cx="231.34" cy="145.31" r="2.25" fill="#d0d0d0" fill-opacity="0.25" stroke="#222" stroke-width="0.45"/>
<circle cx="227.12" cy="145.23" r="2.25" fill="#d0d0d0" fill-opacity="0.25" stroke="#222" stroke-width="0.45"/>
<circle cx="228.31" cy="143.71" r="2.25" fill="#d0d0d0" fill-opacity="0.25" stroke="#222" stroke-width="0.45"/>
<circle cx="226.33" cy="144.96" r="2.25" fill="#d0d0d0" fill-opacity="0.25" stroke="#222" stroke-width="0.45"/>
<circle cx="233.13" cy="145.39" r="2.25" fill="#d0d0d0" fill-opacity="0.25" stroke="#222" stroke-width="0.45"/>
<circle cx="239.5" cy="144.77" r="2.25" fill="#d0d0d0" fill-opacity="0.25" stroke="#222" stroke-width="0.45"/>
<circle cx="232.11" cy="145.31" r="2.25" fill="#d0d0d0" fill-opacity="0.25" stroke="#222" stroke-width="0.45"/>
<circle cx="220.47" cy="145.1" r="2.25" fill="#d0d0d0" fill-opacity="0.25" stroke="#222" stroke-width="0.45"/>
<circle cx="238.46" cy="144.2" r="2.25" fill="#d0d0d0" fill-opacity="0.25" stroke="#222" stroke-width="0.45"/>
<circle cx="238.85" cy="144.75" r="2.25" fill="#d0d0d0" fill-opacity="0.25" stroke="#222" stroke-width="0.45"/>
<circle cx="231.91" cy="145.01" r="2.25" fill="#d0d0d0" fill-opacity="0.25" stroke="#222" stroke-width="0.45"/>
<circle cx="230.15" cy="144.52" r="2.25" fill="#d0d0d0" fill-opacity="0.25" stroke="#222" stroke-width="0.45"/>
<circle cx="229.89" cy="145.53" r="2.25" fill="#d0d0d0" fill-opacity="0.25" stroke="#222" stroke-width="0.45"/>
<circle cx="230.42" cy="143.92" r="2.25" fill="#d0d0d0" fill-opacity="0.25" stroke="#222" stroke-width="0.45"/>
<circle cx="236.21" cy="144.69" r="2.25" fill="#d0d0d0" fill-opacity="0.25" stroke="#222" stroke-width="0.45"/>
<circle cx="232.66" cy="144.79" r="2.25" fill="#d0d0d0" fill-opacity="0.25" stroke="#222" stroke-width="0.45"/>
<circle cx="228.62" cy="142.22" r="2.25" fill="#d0d0d0" fill-opacity="0.25" stroke="#222" stroke-width="0.45"/>
<circle cx="230.81" cy="145.02" r="2.25" fill="#d0d0d0" fill-opacity="0.25" stroke="#222" stroke-width="0.45"/>
<circle cx="228.34" cy="145.15" r="2.25" fill="#d0d0d0" fill-opacity="0.25" stroke="#222" stroke-width="0.45"/>
<circle cx="221.55" cy="144.72" r="2.25" fill="#d0d0d0" fill-opacity="0.25" stroke="#222" stroke-width="0.45"/>
<circle cx="227.54" cy="144.9" r="2.25" fill="#d0d0d0" fill-opacity="0.25" stroke="#222" stroke-width="0.45"/>
<circle cx="235.08" cy="144.35" r="2.25" fill="#d0d0d0" fill-opacity="0.25" stroke="#222" stroke-width="0.45"/>
<circle cx="227.15" cy="144.19" r="2.25" fill="#d0d0d0" fill-opacity="0.25" stroke="#222" stroke-width="0.45"/>
<circle cx="216.56" cy="144.23" r="2.25" fill="#d0d0d0" fill-opacity="0.25" stroke="#222" stroke-width="0.45"/>
<circle cx="233.29" cy="144.73" r="2.25" fill="#d0d0d0" fill-opacity="0.25" stroke="#222" stroke-width="0.45"/>
<circle cx="221.58" cy="145.53" r="2.25" fill="#d0d0d0" fill-opacity="0.25" stroke="#222" stroke-width="0.45"/>
<circle cx="237.01" cy="144.55" r="2.25" fill="#d0d0d0" fill-opacity="0.25" stroke="#222" stroke-width="0.45"/>
<circle cx="226.29" cy="144.36" r="2.25" fill="#d0d0d0" fill-opacity="0.25" stroke="#222" stroke-width="0.45"/>
<circle cx="232.76" cy="143" r="2.25" fill="#d0d0d0" fill-opacity="0.25" stroke="#222" stroke-width="0.45"/>
<circle cx="229.12" cy="144.96" r="2.25" fill="#d0d0d0" fill-opacity="0.25" stroke="#222" stroke-width="0.45"/>
<circle cx="229.63" cy="144.29" r="2.25" fill="#d0d0d0" fill-opacity="0.25" stroke="#222" stroke-width="0.45"/>
<circle cx="234.1" cy="144.9" r="2.25" fill="#d0d0d0" fill-opacity="0.25" stroke="#222" stroke-width="0.45"/>
<circle cx="223.31" cy="144.15" r="2.25" fill="#d0d0d0" fill-opacity="0.25" stroke="#222" stroke-width="0.45"/>
<circle cx="233.26" cy="145.41" r="2.25" fill="#d0d0d0" fill-opacity="0.25" stroke="#222" stroke-width="0.45"/>
<circle cx="230.77" cy="144.34" r="2.25" fill="#d0d0d0" fill-opacity="0.25" stroke="#222" stroke-width="0.45"/>
<circle cx="237.67" cy="144.41" r="2.25" fill="#d0d0d0" fill-opacity="0.25" stroke="#222" stroke-width="0.45"/>
<circle cx="235.02" cy="144.07" r="2.25" fill="#d0d0d0" fill-opacity="0.25" stroke="#222" stroke-width="0.45"/>
<circle cx="247.31" cy="144.45" r="2.25" fill="#d0d0d0" fill-opacity="0.25" stroke="#222" stroke-width="0.45"/>
<circle cx="222.78" cy="144.28" r="2.25" fill="#d0d0d0" fill-opacity="0.25" stroke="#222" stroke-width="0.45"/>
<circle cx="229.14" cy="144.53" r="2.25" fill="#d0d0d0" fill-opacity="0.25" stroke="#222" stroke-width="0.45"/>
<circle cx="224.9" cy="144.92" r="2.25" fill="#d0d0d0" fill-opacity="0.25" stroke="#222" stroke-width="0.45"/>
<circle cx="232.04" cy="145.31" r="2.25" fill="#d0d0d0" fill-opacity="0.25" stroke="#222" stroke-width="0.45"/>
<circle cx="228.55" cy="144.19" r="2.25" fill="#d0d0d0" fill-opacity="0.25" stroke="#222" stroke-width="0.45"/>
<circle cx="231.67" cy="145.23" r="2.25" fill="#d0d0d0" fill-opacity="0.25" stroke="#222" stroke-width="0.45"/>
<circle cx="228.64" cy="144.76" r="2.25" fill="#d0d0d0" fill-opacity="0.25" stroke="#222" stroke-width="0.45"/>
<circle cx="241.27" cy="144.74" r="2.25" fill="#d0d0d0" fill-opacity="0.25" stroke="#222" stroke-width="0.45"/>
<circle cx="236.43" cy="144.59" r="2.25" fill="#d0d0d0" fill-opacity="0.25" stroke="#222" stroke-width="0.45"/>
<circle cx="235.6" cy="144.72" r="2.25" fill="#d0d0d0" fill-opacity="0.25" stroke="#222" stroke-width="0.45"/>
<circle cx="230.24" cy="145.28" r="2.25" fill="#d0d0d0" fill-opacity="0.25" stroke="#222" stroke-width="0.45"/>
<circle cx="224.83" cy="145.14" r="2.25" fill="#d0d0d0" fill-opacity="0.25" stroke="#222" stroke-width="0.45"/>
<circle cx="236.34" cy="144.55" r="2.25" fill="#d0d0d0" fill-opacity="0.25" stroke="#222" stroke-width="0.45"/>
<circle cx="245" cy="144.22" r="2.25" fill="#d0d0d0" fill-opacity="0.25" stroke="#222" stroke-width="0.45"/>
<circle cx="226.9" cy="145.46" r="2.25" fill="#d0d0d0" fill-opacity="0.25" stroke="#222" stroke-width="0.45"/>
<circle cx="230.39" cy="144.91" r="2.25" fill="#d0d0d0" fill-opacity="0.25" stroke="#222" stroke-width="0.45"/>
<circle cx="224.9" cy="98.9" r="2.3" fill="#f0282d" stroke="#d01010" stroke-width="0.4"/>
<line x1="205.5" y1="89.3" x2="222.8" y2="97.9" stroke="#f0282d" stroke-width="0.8"/>
<text x="198.4" y="88" font-size="7.9" text-anchor="middle" fill="#f0282d" stroke="#f0282d" stroke-width="0.1">hsa-miR-29b</text>
<rect x="312.65" y="43.55" width="5.9" height="5.9" rx="2.1" fill="#ff1a1a"/>
<rect x="319.05" y="43.55" width="5.9" height="5.9" rx="2.1" fill="#ff1f1f"/>
<text x="327" y="48.7" font-size="6.2" text-anchor="start" fill="#1a1a1a" stroke="#1a1a1a" stroke-width="0.1">hsa-let-7a-5p</text>
<rect x="312.65" y="49.8" width="5.9" height="5.9" rx="2.1" fill="#ff1a1a"/>
<rect x="319.05" y="49.8" width="5.9" height="5.9" rx="2.1" fill="#ff1f1f"/>
<text x="327" y="54.95" font-size="6.2" text-anchor="start" fill="#1a1a1a" stroke="#1a1a1a" stroke-width="0.1">hsa-miR-20a-5p</text>
<rect x="312.65" y="56.05" width="5.9" height="5.9" rx="2.1" fill="#f06a78"/>
<rect x="319.05" y="56.05" width="5.9" height="5.9" rx="2.1" fill="#f2848f"/>
<text x="327" y="61.2" font-size="6.2" text-anchor="start" fill="#1a1a1a" stroke="#1a1a1a" stroke-width="0.1">hsa-miR-15b-5p</text>
<rect x="312.65" y="62.3" width="5.9" height="5.9" rx="2.1" fill="#f06a78"/>
<rect x="319.05" y="62.3" width="5.9" height="5.9" rx="2.1" fill="#f2848f"/>
<text x="327" y="67.45" font-size="6.2" text-anchor="start" fill="#1a1a1a" stroke="#1a1a1a" stroke-width="0.1">hsa-miR-92a-3p</text>
<rect x="312.65" y="68.55" width="5.9" height="5.9" rx="2.1" fill="#f6cdd3"/>
<rect x="319.05" y="68.55" width="5.9" height="5.9" rx="2.1" fill="#fbf0f2"/>
<text x="327" y="73.7" font-size="6.2" text-anchor="start" fill="#1a1a1a" stroke="#1a1a1a" stroke-width="0.1">hsa-miR-451a</text>
<rect x="312.65" y="74.8" width="5.9" height="5.9" rx="2.1" fill="#f8404c"/>
<rect x="319.05" y="74.8" width="5.9" height="5.9" rx="2.1" fill="#f8505c"/>
<text x="327" y="79.95" font-size="6.2" text-anchor="start" fill="#1a1a1a" stroke="#1a1a1a" stroke-width="0.1">hsa-miR-103a-3p</text>
<rect x="312.65" y="81.05" width="5.9" height="5.9" rx="2.1" fill="#f8404c"/>
<rect x="319.05" y="81.05" width="5.9" height="5.9" rx="2.1" fill="#f8505c"/>
<text x="327" y="86.2" font-size="6.2" text-anchor="start" fill="#1a1a1a" stroke="#1a1a1a" stroke-width="0.1">hsa-miR-103b</text>
<rect x="312.65" y="87.3" width="5.9" height="5.9" rx="2.1" fill="#f8404c"/>
<rect x="319.05" y="87.3" width="5.9" height="5.9" rx="2.1" fill="#f8505c"/>
<text x="327" y="92.45" font-size="6.2" text-anchor="start" fill="#1a1a1a" stroke="#1a1a1a" stroke-width="0.1">hsa-miR-93-5p</text>
<rect x="312.65" y="93.55" width="5.9" height="5.9" rx="2.1" fill="#f4a2ad"/>
<rect x="319.05" y="93.55" width="5.9" height="5.9" rx="2.1" fill="#f7c0c7"/>
<text x="327" y="98.7" font-size="6.2" text-anchor="start" fill="#1a1a1a" stroke="#1a1a1a" stroke-width="0.1">hsa-let-7d-5p</text>
<rect x="312.65" y="99.8" width="5.9" height="5.9" rx="2.1" fill="#f2909c"/>
<rect x="319.05" y="99.8" width="5.9" height="5.9" rx="2.1" fill="#f5afb8"/>
<text x="327" y="104.95" font-size="6.2" text-anchor="start" fill="#1a1a1a" stroke="#1a1a1a" stroke-width="0.1">hsa-miR-191-5p</text>
<rect x="312.65" y="106.05" width="5.9" height="5.9" rx="2.1" fill="#f4a2ad"/>
<rect x="319.05" y="106.05" width="5.9" height="5.9" rx="2.1" fill="#f7c0c7"/>
<text x="327" y="111.2" font-size="6.2" text-anchor="start" fill="#1a1a1a" stroke="#1a1a1a" stroke-width="0.1">hsa-miR-23b-3p</text>
<rect x="312.65" y="112.3" width="5.9" height="5.9" rx="2.1" fill="#f9e0e4"/>
<rect x="319.05" y="112.3" width="5.9" height="5.9" rx="2.1" fill="#fdf6f7"/>
<text x="327" y="117.45" font-size="6.2" text-anchor="start" fill="#1a1a1a" stroke="#1a1a1a" stroke-width="0.1">hsa-miR-107</text>
<rect x="312.65" y="118.55" width="5.9" height="5.9" rx="2.1" fill="#f4a2ad"/>
<rect x="319.05" y="118.55" width="5.9" height="5.9" rx="2.1" fill="#f7c0c7"/>
<text x="327" y="123.7" font-size="6.2" text-anchor="start" fill="#1a1a1a" stroke="#1a1a1a" stroke-width="0.1">hsa-miR-24-3p</text>
<rect x="312.65" y="124.8" width="5.9" height="5.9" rx="2.1" fill="#f28592"/>
<rect x="319.05" y="124.8" width="5.9" height="5.9" rx="2.1" fill="#f4a2ad"/>
<text x="327" y="129.95" font-size="6.2" text-anchor="start" fill="#1a1a1a" stroke="#1a1a1a" stroke-width="0.1">hsa-miR-15a-5p</text>
<rect x="312.65" y="131.05" width="5.9" height="5.9" rx="2.1" fill="#f28592"/>
<rect x="319.05" y="131.05" width="5.9" height="5.9" rx="2.1" fill="#f4a2ad"/>
<text x="327" y="136.2" font-size="6.2" text-anchor="start" fill="#1a1a1a" stroke="#1a1a1a" stroke-width="0.1">hsa-let-7b-5p</text>
<rect x="312.65" y="137.3" width="5.9" height="5.9" rx="2.1" fill="#f9e0e4"/>
<rect x="319.05" y="137.3" width="5.9" height="5.9" rx="2.1" fill="#fefafb"/>
<text x="327" y="142.45" font-size="6.2" text-anchor="start" fill="#1a1a1a" stroke="#1a1a1a" stroke-width="0.1">hsa-miR-185-5p</text>
<rect x="312.65" y="143.55" width="5.9" height="5.9" rx="2.1" fill="#f5abb5"/>
<rect x="319.05" y="143.55" width="5.9" height="5.9" rx="2.1" fill="#f8c8cf"/>
<text x="327" y="148.7" font-size="6.2" text-anchor="start" fill="#1a1a1a" stroke="#1a1a1a" stroke-width="0.1">hsa-miR-708-5p</text>
<rect x="312.65" y="149.8" width="5.9" height="5.9" rx="2.1" fill="#f4a2ad"/>
<rect x="319.05" y="149.8" width="5.9" height="5.9" rx="2.1" fill="#f7c0c7"/>
<text x="327" y="154.95" font-size="6.2" text-anchor="start" fill="#1a1a1a" stroke="#1a1a1a" stroke-width="0.1">hsa-miR-128-3p</text>
<text transform="translate(316.9,41.7) rotate(-90)" font-size="7.5" text-anchor="start" fill="#1a1a1a" stroke="#1a1a1a" stroke-width="0.1">KRAS<tspan font-size="4.4" dy="-2.22">WT</tspan></text>
<text transform="translate(325.7,41.7) rotate(-90)" font-size="7.5" text-anchor="start" fill="#1a1a1a" stroke="#1a1a1a" stroke-width="0.1">KRAS<tspan font-size="4.4" dy="-2.22">G12D</tspan></text>
<rect x="382.15" y="43.55" width="5.9" height="5.9" rx="2.1" fill="#f5c8cf"/>
<rect x="388.65" y="43.55" width="5.9" height="5.9" rx="2.1" fill="#f8dde2"/>
<text x="396.8" y="48.7" font-size="6.2" text-anchor="start" fill="#1a1a1a" stroke="#1a1a1a" stroke-width="0.1">hsa-miR-15b-3p</text>
<rect x="382.15" y="49.8" width="5.9" height="5.9" rx="2.1" fill="#e4e4fb"/>
<rect x="388.65" y="49.8" width="5.9" height="5.9" rx="2.1" fill="#bfbff8"/>
<text x="396.8" y="54.95" font-size="6.2" text-anchor="start" fill="#1a1a1a" stroke="#1a1a1a" stroke-width="0.1">hsa-miR-365a-3p</text>
<rect x="382.15" y="56.05" width="5.9" height="5.9" rx="2.1" fill="#e4e4fb"/>
<rect x="388.65" y="56.05" width="5.9" height="5.9" rx="2.1" fill="#bfbff8"/>
<text x="396.8" y="61.2" font-size="6.2" text-anchor="start" fill="#1a1a1a" stroke="#1a1a1a" stroke-width="0.1">hsa-miR-365b-3p</text>
<rect x="382.15" y="62.3" width="5.9" height="5.9" rx="2.1" fill="#7070f6"/>
<rect x="388.65" y="62.3" width="5.9" height="5.9" rx="2.1" fill="#5050f2"/>
<text x="396.8" y="67.45" font-size="6.2" text-anchor="start" fill="#1a1a1a" stroke="#1a1a1a" stroke-width="0.1">hsa-miR-22-3p</text>
<rect x="382.15" y="68.55" width="5.9" height="5.9" rx="2.1" fill="#f8e6e9"/>
<rect x="388.65" y="68.55" width="5.9" height="5.9" rx="2.1" fill="#fdfbfc"/>
<text x="396.8" y="73.7" font-size="6.2" text-anchor="start" fill="#1a1a1a" stroke="#1a1a1a" stroke-width="0.1">hsa-miR-339-5p</text>
<rect x="382.15" y="74.8" width="5.9" height="5.9" rx="2.1" fill="#5050f6"/>
<rect x="388.65" y="74.8" width="5.9" height="5.9" rx="2.1" fill="#1212f0"/>
<text x="396.8" y="79.95" font-size="6.2" text-anchor="start" fill="#1a1a1a" stroke="#1a1a1a" stroke-width="0.1">hsa-miR-486-5p</text>
<rect x="382.15" y="81.05" width="5.9" height="5.9" rx="2.1" fill="#f5c8cf"/>
<rect x="388.65" y="81.05" width="5.9" height="5.9" rx="2.1" fill="#f8dde2"/>
<text x="396.8" y="86.2" font-size="6.2" text-anchor="start" fill="#1a1a1a" stroke="#1a1a1a" stroke-width="0.1">hsa-miR-361-5p</text>
<rect x="382.15" y="87.3" width="5.9" height="5.9" rx="2.1" fill="#fdf6f7"/>
<rect x="388.65" y="87.3" width="5.9" height="5.9" rx="2.1" fill="#e0e0f9"/>
<text x="396.8" y="92.45" font-size="6.2" text-anchor="start" fill="#1a1a1a" stroke="#1a1a1a" stroke-width="0.1">hsa-miR-374b-5p</text>
<rect x="382.15" y="93.55" width="5.9" height="5.9" rx="2.1" fill="#fdf6f7"/>
<rect x="388.65" y="93.55" width="5.9" height="5.9" rx="2.1" fill="#e0e0f9"/>
<text x="396.8" y="98.7" font-size="6.2" text-anchor="start" fill="#1a1a1a" stroke="#1a1a1a" stroke-width="0.1">hsa-miR-374c-5p</text>
<rect x="382.15" y="99.8" width="5.9" height="5.9" rx="2.1" fill="#f5d0d5"/>
<rect x="388.65" y="99.8" width="5.9" height="5.9" rx="2.1" fill="#fbe8eb"/>
<text x="396.8" y="104.95" font-size="6.2" text-anchor="start" fill="#f0282d" stroke="#f0282d" stroke-width="0.1">hsa-miR-29b-3p</text>
<rect x="382.15" y="106.05" width="5.9" height="5.9" rx="2.1" fill="#7878f6"/>
<rect x="388.65" y="106.05" width="5.9" height="5.9" rx="2.1" fill="#6262f5"/>
<text x="396.8" y="111.2" font-size="6.2" text-anchor="start" fill="#1a1a1a" stroke="#1a1a1a" stroke-width="0.1">hsa-miR-425-5p</text>
<rect x="382.15" y="112.3" width="5.9" height="5.9" rx="2.1" fill="#f5f5fd"/>
<rect x="388.65" y="112.3" width="5.9" height="5.9" rx="2.1" fill="#d8d8f9"/>
<text x="396.8" y="117.45" font-size="6.2" text-anchor="start" fill="#1a1a1a" stroke="#1a1a1a" stroke-width="0.1">hsa-miR-424-5p</text>
<rect x="382.15" y="118.55" width="5.9" height="5.9" rx="2.1" fill="#a2a2f8"/>
<rect x="388.65" y="118.55" width="5.9" height="5.9" rx="2.1" fill="#8282f6"/>
<text x="396.8" y="123.7" font-size="6.2" text-anchor="start" fill="#1a1a1a" stroke="#1a1a1a" stroke-width="0.1">hsa-miR-7977</text>
<rect x="382.15" y="124.8" width="5.9" height="5.9" rx="2.1" fill="#3232f2"/>
<rect x="388.65" y="124.8" width="5.9" height="5.9" rx="2.1" fill="#1212f0"/>
<text x="396.8" y="129.95" font-size="6.2" text-anchor="start" fill="#1a1a1a" stroke="#1a1a1a" stroke-width="0.1">hsa-miR-144-3p</text>
<rect x="382.15" y="131.05" width="5.9" height="5.9" rx="2.1" fill="#f5c8cf"/>
<rect x="388.65" y="131.05" width="5.9" height="5.9" rx="2.1" fill="#f5d8dc"/>
<text x="396.8" y="136.2" font-size="6.2" text-anchor="start" fill="#1a1a1a" stroke="#1a1a1a" stroke-width="0.1">hsa-miR-210-3p</text>
<rect x="382.15" y="137.3" width="5.9" height="5.9" rx="2.1" fill="#e8e8fb"/>
<rect x="388.65" y="137.3" width="5.9" height="5.9" rx="2.1" fill="#c8c8f9"/>
<text x="396.8" y="142.45" font-size="6.2" text-anchor="start" fill="#1a1a1a" stroke="#1a1a1a" stroke-width="0.1">hsa-miR-421</text>
<rect x="382.15" y="143.55" width="5.9" height="5.9" rx="2.1" fill="#3232f2"/>
<rect x="388.65" y="143.55" width="5.9" height="5.9" rx="2.1" fill="#2222f0"/>
<text x="396.8" y="148.7" font-size="6.2" text-anchor="start" fill="#1a1a1a" stroke="#1a1a1a" stroke-width="0.1">hsa-miR-545-5p</text>
<text transform="translate(387.9,41.7) rotate(-90)" font-size="7.5" text-anchor="start" fill="#1a1a1a" stroke="#1a1a1a" stroke-width="0.1">KRAS<tspan font-size="4.4" dy="-2.22">WT</tspan></text>
<text transform="translate(396.7,41.7) rotate(-90)" font-size="7.5" text-anchor="start" fill="#1a1a1a" stroke="#1a1a1a" stroke-width="0.1">KRAS<tspan font-size="4.4" dy="-2.22">G12D</tspan></text>
<text x="423" y="160.8" font-size="6.4" text-anchor="middle" fill="#1a1a1a" stroke="#1a1a1a" stroke-width="0.1">Log<tspan font-size="4.2" dy="1.8">10</tspan><tspan dy="-1.8"> (count)</tspan></text>
<defs><linearGradient id="lg1" x1="0" x2="1" y1="0" y2="0"><stop offset="0" stop-color="#0000ff"/><stop offset="0.38" stop-color="#ffffff"/><stop offset="1" stop-color="#ff0000"/></linearGradient></defs>
<rect x="407.8" y="163.9" width="31.5" height="3.8" fill="url(#lg1)"/>
<text x="407" y="174.5" font-size="6.5" text-anchor="middle" fill="#1a1a1a" stroke="#1a1a1a" stroke-width="0.1">2.5</text>
<text x="439.8" y="174.5" font-size="6.5" text-anchor="middle" fill="#1a1a1a" stroke="#1a1a1a" stroke-width="0.1">5.5</text>
<text x="542" y="17" font-size="10.7" text-anchor="middle" fill="#1a1a1a" stroke="#1a1a1a" stroke-width="0.1">CCLE</text>
<text x="634" y="17" font-size="10.7" text-anchor="middle" fill="#1a1a1a" stroke="#1a1a1a" stroke-width="0.1">TCGA-COAD</text>
<text x="543" y="34.3" font-size="10.8" text-anchor="middle" font-style="italic" fill="#1a1a1a" stroke="#1a1a1a" stroke-width="0.1">hsa-miR-29b</text>
<text x="630.4" y="34.3" font-size="10.8" text-anchor="middle" font-style="italic" fill="#1a1a1a" stroke="#1a1a1a" stroke-width="0.1">hsa-miR-29b</text>
<line x1="518.4" y1="57.02" x2="518.4" y2="150.8" stroke="#333" stroke-width="1"/>
<line x1="518.4" y1="150.3" x2="553.4" y2="150.3" stroke="#333" stroke-width="1"/>
<line x1="514.9" y1="150.3" x2="518.4" y2="150.3" stroke="#333" stroke-width="1"/>
<text x="513.4" y="153.4" font-size="8.8" text-anchor="end" fill="#1a1a1a" stroke="#1a1a1a" stroke-width="0.1">0</text>
<line x1="514.9" y1="126.98" x2="518.4" y2="126.98" stroke="#333" stroke-width="1"/>
<line x1="514.9" y1="103.66" x2="518.4" y2="103.66" stroke="#333" stroke-width="1"/>
<text x="513.4" y="106.76" font-size="8.8" text-anchor="end" fill="#1a1a1a" stroke="#1a1a1a" stroke-width="0.1">4</text>
<line x1="514.9" y1="80.34" x2="518.4" y2="80.34" stroke="#333" stroke-width="1"/>
<line x1="514.9" y1="57.02" x2="518.4" y2="57.02" stroke="#333" stroke-width="1"/>
<text x="513.4" y="60.12" font-size="8.8" text-anchor="end" fill="#1a1a1a" stroke="#1a1a1a" stroke-width="0.1">8</text>
<line x1="529.5" y1="150.3" x2="529.5" y2="153.3" stroke="#333" stroke-width="0.8"/>
<line x1="542.6" y1="150.3" x2="542.6" y2="153.3" stroke="#333" stroke-width="0.8"/>
<text transform="translate(499.2,99.2) rotate(-90)" font-size="10.7" text-anchor="middle" fill="#1a1a1a" stroke="#1a1a1a" stroke-width="0.1">miRNA level (RNA-seq)</text>
<circle cx="529.5" cy="74.51" r="1.75" fill="#9c9c9c" stroke="#2a2a2a" stroke-width="0.7"/>
<circle cx="529.5" cy="83.26" r="1.75" fill="#9c9c9c" stroke="#2a2a2a" stroke-width="0.7"/>
<circle cx="529.5" cy="93.75" r="1.75" fill="#9c9c9c" stroke="#2a2a2a" stroke-width="0.7"/>
<circle cx="530" cy="95.5" r="1.75" fill="#9c9c9c" stroke="#2a2a2a" stroke-width="0.7"/>
<circle cx="529.5" cy="103.08" r="1.75" fill="#9c9c9c" stroke="#2a2a2a" stroke-width="0.7"/>
<circle cx="529.5" cy="111.82" r="1.75" fill="#9c9c9c" stroke="#2a2a2a" stroke-width="0.7"/>
<circle cx="529.5" cy="117.65" r="1.75" fill="#9c9c9c" stroke="#2a2a2a" stroke-width="0.7"/>
<circle cx="529" cy="119.98" r="1.75" fill="#9c9c9c" stroke="#2a2a2a" stroke-width="0.7"/>
<circle cx="530" cy="124.65" r="1.75" fill="#9c9c9c" stroke="#2a2a2a" stroke-width="0.7"/>
<circle cx="528.5" cy="127.56" r="1.75" fill="#9c9c9c" stroke="#2a2a2a" stroke-width="0.7"/>
<circle cx="530.5" cy="129.31" r="1.75" fill="#9c9c9c" stroke="#2a2a2a" stroke-width="0.7"/>
<circle cx="528.5" cy="132.81" r="1.75" fill="#9c9c9c" stroke="#2a2a2a" stroke-width="0.7"/>
<circle cx="530.5" cy="133.98" r="1.75" fill="#9c9c9c" stroke="#2a2a2a" stroke-width="0.7"/>
<circle cx="529.5" cy="135.73" r="1.75" fill="#9c9c9c" stroke="#2a2a2a" stroke-width="0.7"/>
<circle cx="528.5" cy="138.64" r="1.75" fill="#9c9c9c" stroke="#2a2a2a" stroke-width="0.7"/>
<circle cx="530" cy="140.97" r="1.75" fill="#9c9c9c" stroke="#2a2a2a" stroke-width="0.7"/>
<circle cx="527" cy="146.8" r="1.75" fill="#9c9c9c" stroke="#2a2a2a" stroke-width="0.7"/>
<circle cx="532" cy="147.39" r="1.75" fill="#9c9c9c" stroke="#2a2a2a" stroke-width="0.7"/>
<circle cx="528" cy="148.55" r="1.75" fill="#9c9c9c" stroke="#2a2a2a" stroke-width="0.7"/>
<circle cx="531" cy="149.13" r="1.75" fill="#9c9c9c" stroke="#2a2a2a" stroke-width="0.7"/>
<circle cx="532.5" cy="146.8" r="1.75" fill="#9c9c9c" stroke="#2a2a2a" stroke-width="0.7"/>
<circle cx="526.5" cy="149.13" r="1.75" fill="#9c9c9c" stroke="#2a2a2a" stroke-width="0.7"/>
<circle cx="529.5" cy="149.72" r="1.75" fill="#9c9c9c" stroke="#2a2a2a" stroke-width="0.7"/>
<circle cx="542.6" cy="100.16" r="1.75" fill="#ec2a2e" stroke="#4a0808" stroke-width="0.7"/>
<circle cx="541.1" cy="118.82" r="1.75" fill="#ec2a2e" stroke="#4a0808" stroke-width="0.7"/>
<circle cx="544.1" cy="119.4" r="1.75" fill="#ec2a2e" stroke="#4a0808" stroke-width="0.7"/>
<circle cx="545.6" cy="120.57" r="1.75" fill="#ec2a2e" stroke="#4a0808" stroke-width="0.7"/>
<circle cx="539.6" cy="121.73" r="1.75" fill="#ec2a2e" stroke="#4a0808" stroke-width="0.7"/>
<circle cx="542.6" cy="123.48" r="1.75" fill="#ec2a2e" stroke="#4a0808" stroke-width="0.7"/>
<circle cx="541.6" cy="126.98" r="1.75" fill="#ec2a2e" stroke="#4a0808" stroke-width="0.7"/>
<circle cx="544.1" cy="129.31" r="1.75" fill="#ec2a2e" stroke="#4a0808" stroke-width="0.7"/>
<circle cx="540.6" cy="132.23" r="1.75" fill="#ec2a2e" stroke="#4a0808" stroke-width="0.7"/>
<circle cx="544.6" cy="133.39" r="1.75" fill="#ec2a2e" stroke="#4a0808" stroke-width="0.7"/>
<circle cx="542.6" cy="135.14" r="1.75" fill="#ec2a2e" stroke="#4a0808" stroke-width="0.7"/>
<circle cx="539.6" cy="136.89" r="1.75" fill="#ec2a2e" stroke="#4a0808" stroke-width="0.7"/>
<circle cx="545.6" cy="138.06" r="1.75" fill="#ec2a2e" stroke="#4a0808" stroke-width="0.7"/>
<circle cx="541.6" cy="139.22" r="1.75" fill="#ec2a2e" stroke="#4a0808" stroke-width="0.7"/>
<circle cx="544.1" cy="140.39" r="1.75" fill="#ec2a2e" stroke="#4a0808" stroke-width="0.7"/>
<circle cx="540.1" cy="142.14" r="1.75" fill="#ec2a2e" stroke="#4a0808" stroke-width="0.7"/>
<circle cx="545.1" cy="142.72" r="1.75" fill="#ec2a2e" stroke="#4a0808" stroke-width="0.7"/>
<circle cx="542.6" cy="143.89" r="1.75" fill="#ec2a2e" stroke="#4a0808" stroke-width="0.7"/>
<circle cx="541.1" cy="145.05" r="1.75" fill="#ec2a2e" stroke="#4a0808" stroke-width="0.7"/>
<circle cx="544.1" cy="146.22" r="1.75" fill="#ec2a2e" stroke="#4a0808" stroke-width="0.7"/>
<circle cx="539.6" cy="147.39" r="1.75" fill="#ec2a2e" stroke="#4a0808" stroke-width="0.7"/>
<circle cx="545.6" cy="147.97" r="1.75" fill="#ec2a2e" stroke="#4a0808" stroke-width="0.7"/>
<circle cx="542.1" cy="148.9" r="1.75" fill="#ec2a2e" stroke="#4a0808" stroke-width="0.7"/>
<circle cx="544.6" cy="149.72" r="1.75" fill="#ec2a2e" stroke="#4a0808" stroke-width="0.7"/>
<circle cx="540.6" cy="149.72" r="1.75" fill="#ec2a2e" stroke="#4a0808" stroke-width="0.7"/>
<circle cx="543.1" cy="144.47" r="1.75" fill="#ec2a2e" stroke="#4a0808" stroke-width="0.7"/>
<line x1="523.5" y1="125.23" x2="535.5" y2="125.23" stroke="#222" stroke-width="0.8"/>
<line x1="526.5" y1="119.98" x2="532.5" y2="119.98" stroke="#222" stroke-width="0.8"/>
<line x1="526.5" y1="130.48" x2="532.5" y2="130.48" stroke="#222" stroke-width="0.8"/>
<line x1="536.6" y1="135.73" x2="548.6" y2="135.73" stroke="#222" stroke-width="0.8"/>
<line x1="539.6" y1="132.23" x2="545.6" y2="132.23" stroke="#222" stroke-width="0.8"/>
<line x1="539.6" y1="139.22" x2="545.6" y2="139.22" stroke="#222" stroke-width="0.8"/>
<text x="521" y="55.8" font-size="9" text-anchor="start" fill="#1a1a1a" stroke="#1a1a1a" stroke-width="0.1"><tspan font-style="italic">p</tspan>=0.0367</text>
<polyline points="528.7,63 528.7,58.2 542.5,58.2 542.5,66.6" fill="none" stroke="#555" stroke-width="0.9"/>
<line x1="614.2" y1="57.02" x2="614.2" y2="150.8" stroke="#333" stroke-width="1"/>
<line x1="614.2" y1="150.3" x2="649.3" y2="150.3" stroke="#333" stroke-width="1"/>
<line x1="610.7" y1="150.3" x2="614.2" y2="150.3" stroke="#333" stroke-width="1"/>
<text x="609.2" y="153.4" font-size="8.8" text-anchor="end" fill="#1a1a1a" stroke="#1a1a1a" stroke-width="0.1">0</text>
<line x1="610.7" y1="126.98" x2="614.2" y2="126.98" stroke="#333" stroke-width="1"/>
<line x1="610.7" y1="103.66" x2="614.2" y2="103.66" stroke="#333" stroke-width="1"/>
<text x="609.2" y="106.76" font-size="8.8" text-anchor="end" fill="#1a1a1a" stroke="#1a1a1a" stroke-width="0.1">4</text>
<line x1="610.7" y1="80.34" x2="614.2" y2="80.34" stroke="#333" stroke-width="1"/>
<line x1="610.7" y1="57.02" x2="614.2" y2="57.02" stroke="#333" stroke-width="1"/>
<text x="609.2" y="60.12" font-size="8.8" text-anchor="end" fill="#1a1a1a" stroke="#1a1a1a" stroke-width="0.1">8</text>
<line x1="625.3" y1="150.3" x2="625.3" y2="153.3" stroke="#333" stroke-width="0.8"/>
<line x1="638.6" y1="150.3" x2="638.6" y2="153.3" stroke="#333" stroke-width="0.8"/>
<text transform="translate(595.4,99.2) rotate(-90)" font-size="10.7" text-anchor="middle" fill="#1a1a1a" stroke="#1a1a1a" stroke-width="0.1">miRNA level (RNA-seq)</text>
<circle cx="625.3" cy="82.67" r="1.75" fill="#9c9c9c" stroke="#2a2a2a" stroke-width="0.7"/>
<circle cx="625.3" cy="87.34" r="1.75" fill="#9c9c9c" stroke="#2a2a2a" stroke-width="0.7"/>
<circle cx="625.3" cy="92" r="1.75" fill="#9c9c9c" stroke="#2a2a2a" stroke-width="0.7"/>
<circle cx="624.3" cy="94.33" r="1.75" fill="#9c9c9c" stroke="#2a2a2a" stroke-width="0.7"/>
<circle cx="626.3" cy="95.5" r="1.75" fill="#9c9c9c" stroke="#2a2a2a" stroke-width="0.7"/>
<circle cx="623.3" cy="97.83" r="1.75" fill="#9c9c9c" stroke="#2a2a2a" stroke-width="0.7"/>
<circle cx="627.3" cy="99" r="1.75" fill="#9c9c9c" stroke="#2a2a2a" stroke-width="0.7"/>
<circle cx="625.3" cy="100.16" r="1.75" fill="#9c9c9c" stroke="#2a2a2a" stroke-width="0.7"/>
<circle cx="622.3" cy="101.33" r="1.75" fill="#9c9c9c" stroke="#2a2a2a" stroke-width="0.7"/>
<circle cx="628.3" cy="102.49" r="1.75" fill="#9c9c9c" stroke="#2a2a2a" stroke-width="0.7"/>
<circle cx="624.3" cy="103.66" r="1.75" fill="#9c9c9c" stroke="#2a2a2a" stroke-width="0.7"/>
<circle cx="626.3" cy="103.66" r="1.75" fill="#9c9c9c" stroke="#2a2a2a" stroke-width="0.7"/>
<circle cx="622.8" cy="104.83" r="1.75" fill="#9c9c9c" stroke="#2a2a2a" stroke-width="0.7"/>
<circle cx="627.8" cy="105.41" r="1.75" fill="#9c9c9c" stroke="#2a2a2a" stroke-width="0.7"/>
<circle cx="625.3" cy="105.99" r="1.75" fill="#9c9c9c" stroke="#2a2a2a" stroke-width="0.7"/>
<circle cx="623.8" cy="107.16" r="1.75" fill="#9c9c9c" stroke="#2a2a2a" stroke-width="0.7"/>
<circle cx="626.8" cy="108.32" r="1.75" fill="#9c9c9c" stroke="#2a2a2a" stroke-width="0.7"/>
<circle cx="622.3" cy="108.91" r="1.75" fill="#9c9c9c" stroke="#2a2a2a" stroke-width="0.7"/>
<circle cx="628.3" cy="109.49" r="1.75" fill="#9c9c9c" stroke="#2a2a2a" stroke-width="0.7"/>
<circle cx="625.3" cy="110.66" r="1.75" fill="#9c9c9c" stroke="#2a2a2a" stroke-width="0.7"/>
<circle cx="623.3" cy="111.82" r="1.75" fill="#9c9c9c" stroke="#2a2a2a" stroke-width="0.7"/>
<circle cx="627.3" cy="112.99" r="1.75" fill="#9c9c9c" stroke="#2a2a2a" stroke-width="0.7"/>
<circle cx="624.3" cy="114.15" r="1.75" fill="#9c9c9c" stroke="#2a2a2a" stroke-width="0.7"/>
<circle cx="626.3" cy="115.32" r="1.75" fill="#9c9c9c" stroke="#2a2a2a" stroke-width="0.7"/>
<circle cx="625.3" cy="116.49" r="1.75" fill="#9c9c9c" stroke="#2a2a2a" stroke-width="0.7"/>
<circle cx="623.3" cy="117.65" r="1.75" fill="#9c9c9c" stroke="#2a2a2a" stroke-width="0.7"/>
<circle cx="627.3" cy="118.82" r="1.75" fill="#9c9c9c" stroke="#2a2a2a" stroke-width="0.7"/>
<circle cx="625.3" cy="120.57" r="1.75" fill="#9c9c9c" stroke="#2a2a2a" stroke-width="0.7"/>
<circle cx="624.3" cy="126.98" r="1.75" fill="#9c9c9c" stroke="#2a2a2a" stroke-width="0.7"/>
<circle cx="625.3" cy="130.48" r="1.75" fill="#9c9c9c" stroke="#2a2a2a" stroke-width="0.7"/>
<circle cx="626.3" cy="132.81" r="1.75" fill="#9c9c9c" stroke="#2a2a2a" stroke-width="0.7"/>
<circle cx="625.3" cy="139.22" r="1.75" fill="#9c9c9c" stroke="#2a2a2a" stroke-width="0.7"/>
<circle cx="625.3" cy="150.3" r="1.75" fill="#9c9c9c" stroke="#2a2a2a" stroke-width="0.7"/>
<circle cx="636.1" cy="96.66" r="1.75" fill="#ec2a2e" stroke="#4a0808" stroke-width="0.7"/>
<circle cx="642.1" cy="98.41" r="1.75" fill="#ec2a2e" stroke="#4a0808" stroke-width="0.7"/>
<circle cx="638.6" cy="100.16" r="1.75" fill="#ec2a2e" stroke="#4a0808" stroke-width="0.7"/>
<circle cx="640.6" cy="102.49" r="1.75" fill="#ec2a2e" stroke="#4a0808" stroke-width="0.7"/>
<circle cx="637.6" cy="104.83" r="1.75" fill="#ec2a2e" stroke="#4a0808" stroke-width="0.7"/>
<circle cx="638.6" cy="111.24" r="1.75" fill="#ec2a2e" stroke="#4a0808" stroke-width="0.7"/>
<circle cx="636.1" cy="112.99" r="1.75" fill="#ec2a2e" stroke="#4a0808" stroke-width="0.7"/>
<circle cx="641.1" cy="113.57" r="1.75" fill="#ec2a2e" stroke="#4a0808" stroke-width="0.7"/>
<circle cx="638.6" cy="115.32" r="1.75" fill="#ec2a2e" stroke="#4a0808" stroke-width="0.7"/>
<circle cx="637.1" cy="117.65" r="1.75" fill="#ec2a2e" stroke="#4a0808" stroke-width="0.7"/>
<circle cx="640.1" cy="118.24" r="1.75" fill="#ec2a2e" stroke="#4a0808" stroke-width="0.7"/>
<circle cx="637.6" cy="121.15" r="1.75" fill="#ec2a2e" stroke="#4a0808" stroke-width="0.7"/>
<circle cx="639.1" cy="122.9" r="1.75" fill="#ec2a2e" stroke="#4a0808" stroke-width="0.7"/>
<circle cx="637.6" cy="148.9" r="1.75" fill="#ec2a2e" stroke="#4a0808" stroke-width="0.7"/>
<circle cx="639.6" cy="149.72" r="1.75" fill="#ec2a2e" stroke="#4a0808" stroke-width="0.7"/>
<circle cx="638.6" cy="150.3" r="1.75" fill="#ec2a2e" stroke="#4a0808" stroke-width="0.7"/>
<line x1="619.3" y1="106.58" x2="631.3" y2="106.58" stroke="#222" stroke-width="0.8"/>
<line x1="622.3" y1="100.16" x2="628.3" y2="100.16" stroke="#222" stroke-width="0.8"/>
<line x1="622.3" y1="112.99" x2="628.3" y2="112.99" stroke="#222" stroke-width="0.8"/>
<line x1="632.6" y1="115.32" x2="644.6" y2="115.32" stroke="#222" stroke-width="0.8"/>
<line x1="635.6" y1="111.24" x2="641.6" y2="111.24" stroke="#222" stroke-width="0.8"/>
<line x1="635.6" y1="119.4" x2="641.6" y2="119.4" stroke="#222" stroke-width="0.8"/>
<text x="616.1" y="56.6" font-size="9" text-anchor="start" fill="#1a1a1a" stroke="#1a1a1a" stroke-width="0.1"><tspan font-style="italic">p</tspan>=0.0471</text>
<polyline points="624.5,72.2 624.5,59.5 640.9,59.5 640.9,82" fill="none" stroke="#555" stroke-width="0.9"/>
<text x="536.7" y="165.4" font-size="9.4" text-anchor="middle" fill="#1a1a1a" stroke="#1a1a1a" stroke-width="0.1">WT Mut</text>
<text x="633.7" y="165.4" font-size="9.4" text-anchor="middle" fill="#1a1a1a" stroke="#1a1a1a" stroke-width="0.1">WT Mut</text>
<line x1="513.3" y1="169.3" x2="660" y2="169.3" stroke="#333" stroke-width="0.9"/>
<text x="589.7" y="179.2" font-size="9.3" text-anchor="middle" fill="#1a1a1a" stroke="#1a1a1a" stroke-width="0.1">KRAS-G12/G13 Status</text>
<text x="20.8" y="206.6" font-size="10.6" text-anchor="start" font-style="italic" fill="#1a1a1a" stroke="#1a1a1a" stroke-width="0.1">hsa-miR-29b-3p</text>
<text x="64.7" y="225.1" font-size="10.9" text-anchor="middle" fill="#1a1a1a" stroke="#1a1a1a" stroke-width="0.1">CoLo320</text>
<text x="148.9" y="225.1" font-size="10.9" text-anchor="middle" fill="#1a1a1a" stroke="#1a1a1a" stroke-width="0.1">HT29</text>
<line x1="46.9" y1="231.7" x2="46.9" y2="327" stroke="#333" stroke-width="1"/>
<line x1="46.9" y1="326.5" x2="82.2" y2="326.5" stroke="#333" stroke-width="1"/>
<line x1="41.9" y1="326.5" x2="46.9" y2="326.5" stroke="#333" stroke-width="1"/>
<line x1="41.9" y1="310.7" x2="46.9" y2="310.7" stroke="#333" stroke-width="1"/>
<line x1="41.9" y1="294.9" x2="46.9" y2="294.9" stroke="#333" stroke-width="1"/>
<line x1="41.9" y1="279.1" x2="46.9" y2="279.1" stroke="#333" stroke-width="1"/>
<line x1="41.9" y1="263.3" x2="46.9" y2="263.3" stroke="#333" stroke-width="1"/>
<line x1="41.9" y1="247.5" x2="46.9" y2="247.5" stroke="#333" stroke-width="1"/>
<line x1="41.9" y1="231.7" x2="46.9" y2="231.7" stroke="#333" stroke-width="1"/>
<text x="41.1" y="330.05" font-size="10" text-anchor="end" fill="#1a1a1a" stroke="#1a1a1a" stroke-width="0.1">0</text>
<text x="41.1" y="251.05" font-size="10" text-anchor="end" fill="#1a1a1a" stroke="#1a1a1a" stroke-width="0.1">1</text>
<rect x="52" y="247.5" width="10.2" height="79" fill="#7a7a7a" stroke="#333" stroke-width="0.9"/>
<line x1="57.1" y1="326.5" x2="57.1" y2="331.5" stroke="#333" stroke-width="0.8"/>
<line x1="72.5" y1="306.36" x2="72.5" y2="301.62" stroke="#333" stroke-width="0.9"/>
<line x1="69.9" y1="301.62" x2="75.1" y2="301.62" stroke="#333" stroke-width="0.9"/>
<rect x="67.4" y="306.36" width="10.2" height="20.14" fill="#f03c40" stroke="#333" stroke-width="0.9"/>
<line x1="72.5" y1="326.5" x2="72.5" y2="331.5" stroke="#333" stroke-width="0.8"/>
<text transform="translate(31.1,282.6) rotate(-90)" font-size="10.8" text-anchor="middle" fill="#1a1a1a" stroke="#1a1a1a" stroke-width="0.1">Rel. miRNA level (FC)</text>
<polyline points="56.4,245.2 56.4,240.4 72.4,240.4 72.4,296" fill="none" stroke="#444" stroke-width="0.9"/>
<polygon points="64.9,234.55 65.52,235.99 67.09,236.14 65.91,237.18 66.25,238.71 64.9,237.91 63.55,238.71 63.89,237.18 62.71,236.14 64.28,235.99" fill="#2a2a2a"/>
<line x1="131" y1="231.86" x2="131" y2="326.8" stroke="#333" stroke-width="1"/>
<line x1="131" y1="326.3" x2="166.6" y2="326.3" stroke="#333" stroke-width="1"/>
<line x1="126" y1="326.3" x2="131" y2="326.3" stroke="#333" stroke-width="1"/>
<line x1="126" y1="310.56" x2="131" y2="310.56" stroke="#333" stroke-width="1"/>
<line x1="126" y1="294.82" x2="131" y2="294.82" stroke="#333" stroke-width="1"/>
<line x1="126" y1="279.08" x2="131" y2="279.08" stroke="#333" stroke-width="1"/>
<line x1="126" y1="263.34" x2="131" y2="263.34" stroke="#333" stroke-width="1"/>
<line x1="126" y1="247.6" x2="131" y2="247.6" stroke="#333" stroke-width="1"/>
<line x1="126" y1="231.86" x2="131" y2="231.86" stroke="#333" stroke-width="1"/>
<text x="125.2" y="329.85" font-size="10" text-anchor="end" fill="#1a1a1a" stroke="#1a1a1a" stroke-width="0.1">0</text>
<text x="125.2" y="251.15" font-size="10" text-anchor="end" fill="#1a1a1a" stroke="#1a1a1a" stroke-width="0.1">1</text>
<rect x="136.5" y="247.6" width="10.2" height="78.7" fill="#7a7a7a" stroke="#333" stroke-width="0.9"/>
<line x1="141.6" y1="326.3" x2="141.6" y2="331.3" stroke="#333" stroke-width="0.8"/>
<line x1="157" y1="286.16" x2="157" y2="279.87" stroke="#333" stroke-width="0.9"/>
<line x1="154.4" y1="279.87" x2="159.6" y2="279.87" stroke="#333" stroke-width="0.9"/>
<rect x="151.9" y="286.16" width="10.2" height="40.14" fill="#f03c40" stroke="#333" stroke-width="0.9"/>
<line x1="157" y1="326.3" x2="157" y2="331.3" stroke="#333" stroke-width="0.8"/>
<text transform="translate(116.9,282.58) rotate(-90)" font-size="10.8" text-anchor="middle" fill="#1a1a1a" stroke="#1a1a1a" stroke-width="0.1">Rel. miRNA level (FC)</text>
<polyline points="140.5,246 140.5,240.9 157.3,240.9 157.3,275.3" fill="none" stroke="#444" stroke-width="0.9"/>
<polygon points="148.6,234.35 149.22,235.79 150.79,235.94 149.61,236.98 149.95,238.51 148.6,237.71 147.25,238.51 147.59,236.98 146.41,235.94 147.98,235.79" fill="#2a2a2a"/>
<rect x="178.2" y="236.2" width="10.4" height="5.5" fill="#7a7a7a" stroke="#333" stroke-width="0.9"/>
<text x="191.2" y="241.7" font-size="7.7" text-anchor="start" fill="#1a1a1a" stroke="#1a1a1a" stroke-width="0.1">Vec.</text>
<rect x="178.2" y="249.2" width="10.4" height="5.5" fill="#f03c40" stroke="#333" stroke-width="0.9"/>
<text x="191.2" y="254.5" font-size="7.6" text-anchor="start" fill="#1a1a1a" stroke="#1a1a1a" stroke-width="0.1">G12D</text>
<text x="22.8" y="384.3" font-size="10.6" text-anchor="start" font-style="italic" fill="#1a1a1a" stroke="#1a1a1a" stroke-width="0.1">hsa-miR-29b-3p</text>
<text x="65.2" y="403" font-size="10.9" text-anchor="middle" fill="#1a1a1a" stroke="#1a1a1a" stroke-width="0.1">SW620</text>
<text x="148.7" y="402.9" font-size="10.9" text-anchor="middle" fill="#1a1a1a" stroke="#1a1a1a" stroke-width="0.1">HCT116</text>
<line x1="47.1" y1="412.6" x2="47.1" y2="509" stroke="#333" stroke-width="1"/>
<line x1="47.1" y1="508.5" x2="82.8" y2="508.5" stroke="#333" stroke-width="1"/>
<line x1="42.1" y1="508.5" x2="47.1" y2="508.5" stroke="#333" stroke-width="1"/>
<line x1="42.1" y1="484.52" x2="47.1" y2="484.52" stroke="#333" stroke-width="1"/>
<line x1="42.1" y1="460.55" x2="47.1" y2="460.55" stroke="#333" stroke-width="1"/>
<line x1="42.1" y1="436.57" x2="47.1" y2="436.57" stroke="#333" stroke-width="1"/>
<line x1="42.1" y1="412.6" x2="47.1" y2="412.6" stroke="#333" stroke-width="1"/>
<text x="41.3" y="512.05" font-size="10" text-anchor="end" fill="#1a1a1a" stroke="#1a1a1a" stroke-width="0.1">0</text>
<text x="41.3" y="464.1" font-size="10" text-anchor="end" fill="#1a1a1a" stroke="#1a1a1a" stroke-width="0.1">1</text>
<text x="41.3" y="416.15" font-size="10" text-anchor="end" fill="#1a1a1a" stroke="#1a1a1a" stroke-width="0.1">2</text>
<line x1="57.3" y1="461.03" x2="57.3" y2="457.19" stroke="#333" stroke-width="0.9"/>
<line x1="54.7" y1="457.19" x2="59.9" y2="457.19" stroke="#333" stroke-width="0.9"/>
<rect x="52.2" y="461.03" width="10.2" height="47.47" fill="#7a7a7a" stroke="#333" stroke-width="0.9"/>
<line x1="57.3" y1="508.5" x2="57.3" y2="513.5" stroke="#333" stroke-width="0.8"/>
<line x1="72.8" y1="430.82" x2="72.8" y2="421.71" stroke="#333" stroke-width="0.9"/>
<line x1="70.2" y1="421.71" x2="75.4" y2="421.71" stroke="#333" stroke-width="0.9"/>
<rect x="67.7" y="430.82" width="10.2" height="77.68" fill="#f03c40" stroke="#333" stroke-width="0.9"/>
<line x1="72.8" y1="508.5" x2="72.8" y2="513.5" stroke="#333" stroke-width="0.8"/>
<text transform="translate(31.1,464.05) rotate(-90)" font-size="10.8" text-anchor="middle" fill="#1a1a1a" stroke="#1a1a1a" stroke-width="0.1">Rel. miRNA level (FC)</text>
<polyline points="57.2,454.4 57.2,413.4 72.7,413.4 72.7,419.2" fill="none" stroke="#444" stroke-width="0.9"/>
<polygon points="66.5,407.95 67.12,409.39 68.69,409.54 67.51,410.58 67.85,412.11 66.5,411.31 65.15,412.11 65.49,410.58 64.31,409.54 65.88,409.39" fill="#2a2a2a"/>
<line x1="131.2" y1="413.8" x2="131.2" y2="510.3" stroke="#333" stroke-width="1"/>
<line x1="131.2" y1="509.8" x2="166.2" y2="509.8" stroke="#333" stroke-width="1"/>
<line x1="126.2" y1="509.8" x2="131.2" y2="509.8" stroke="#333" stroke-width="1"/>
<line x1="126.2" y1="477.8" x2="131.2" y2="477.8" stroke="#333" stroke-width="1"/>
<line x1="126.2" y1="445.8" x2="131.2" y2="445.8" stroke="#333" stroke-width="1"/>
<line x1="126.2" y1="413.8" x2="131.2" y2="413.8" stroke="#333" stroke-width="1"/>
<text x="125.4" y="513.35" font-size="10" text-anchor="end" fill="#1a1a1a" stroke="#1a1a1a" stroke-width="0.1">0</text>
<text x="125.4" y="449.35" font-size="10" text-anchor="end" fill="#1a1a1a" stroke="#1a1a1a" stroke-width="0.1">20</text>
<line x1="140.3" y1="506.76" x2="140.3" y2="506.5" stroke="#333" stroke-width="0.9"/>
<line x1="137.7" y1="506.5" x2="142.9" y2="506.5" stroke="#333" stroke-width="0.9"/>
<rect x="135.2" y="506.76" width="10.2" height="3.04" fill="#7a7a7a" stroke="#333" stroke-width="0.9"/>
<line x1="140.3" y1="509.8" x2="140.3" y2="514.8" stroke="#333" stroke-width="0.8"/>
<line x1="156.1" y1="438.44" x2="156.1" y2="423.08" stroke="#333" stroke-width="0.9"/>
<line x1="153.5" y1="423.08" x2="158.7" y2="423.08" stroke="#333" stroke-width="0.9"/>
<rect x="151" y="438.44" width="10.2" height="71.36" fill="#f03c40" stroke="#333" stroke-width="0.9"/>
<line x1="156.1" y1="509.8" x2="156.1" y2="514.8" stroke="#333" stroke-width="0.8"/>
<text transform="translate(111.6,465.3) rotate(-90)" font-size="10.8" text-anchor="middle" fill="#1a1a1a" stroke="#1a1a1a" stroke-width="0.1">Rel. miRNA level (FC)</text>
<polyline points="140.6,495.2 140.6,417.2 156.1,417.2 156.1,419.5" fill="none" stroke="#444" stroke-width="0.9"/>
<polygon points="144.7,410.45 145.32,411.89 146.89,412.04 145.71,413.08 146.05,414.61 144.7,413.81 143.35,414.61 143.69,413.08 142.51,412.04 144.08,411.89" fill="#2a2a2a"/>
<polygon points="148.7,410.45 149.32,411.89 150.89,412.04 149.71,413.08 150.05,414.61 148.7,413.81 147.35,414.61 147.69,413.08 146.51,412.04 148.08,411.89" fill="#2a2a2a"/>
<polygon points="152.7,410.45 153.32,411.89 154.89,412.04 153.71,413.08 154.05,414.61 152.7,413.81 151.35,414.61 151.69,413.08 150.51,412.04 152.08,411.89" fill="#2a2a2a"/>
<rect x="178.2" y="415" width="10.4" height="5.5" fill="#7a7a7a" stroke="#333" stroke-width="0.9"/>
<text x="191.2" y="420.5" font-size="7.6" text-anchor="start" fill="#1a1a1a" stroke="#1a1a1a" stroke-width="0.1">shNC</text>
<rect x="178.2" y="427.8" width="10.4" height="5.5" fill="#f03c40" stroke="#333" stroke-width="0.9"/>
<text x="191.2" y="433.3" font-size="7.6" text-anchor="start" fill="#1a1a1a" stroke="#1a1a1a" stroke-width="0.1">shKRAS</text>
<text x="326" y="205.8" font-size="10.7" text-anchor="middle" font-style="italic" fill="#1a1a1a" stroke="#1a1a1a" stroke-width="0.1">DNMT3b</text>
<line x1="273.8" y1="214.85" x2="273.8" y2="305.6" stroke="#333" stroke-width="1"/>
<line x1="273.8" y1="305.1" x2="377" y2="305.1" stroke="#333" stroke-width="1"/>
<line x1="268.8" y1="305.1" x2="273.8" y2="305.1" stroke="#333" stroke-width="1"/>
<line x1="268.8" y1="287.05" x2="273.8" y2="287.05" stroke="#333" stroke-width="1"/>
<line x1="268.8" y1="269" x2="273.8" y2="269" stroke="#333" stroke-width="1"/>
<line x1="268.8" y1="250.95" x2="273.8" y2="250.95" stroke="#333" stroke-width="1"/>
<line x1="268.8" y1="232.9" x2="273.8" y2="232.9" stroke="#333" stroke-width="1"/>
<line x1="268.8" y1="214.85" x2="273.8" y2="214.85" stroke="#333" stroke-width="1"/>
<text x="268" y="308.65" font-size="10" text-anchor="end" fill="#1a1a1a" stroke="#1a1a1a" stroke-width="0.1">0</text>
<text x="268" y="272.55" font-size="10" text-anchor="end" fill="#1a1a1a" stroke="#1a1a1a" stroke-width="0.1">1</text>
<text x="268" y="236.45" font-size="10" text-anchor="end" fill="#1a1a1a" stroke="#1a1a1a" stroke-width="0.1">2</text>
<rect x="278.3" y="269" width="10.5" height="36.1" fill="#d6d6d6" stroke="#333" stroke-width="0.9"/>
<line x1="283.55" y1="305.1" x2="283.55" y2="308.1" stroke="#333" stroke-width="0.8"/>
<line x1="300.05" y1="262.5" x2="300.05" y2="261.06" stroke="#333" stroke-width="0.9"/>
<line x1="297.45" y1="261.06" x2="302.65" y2="261.06" stroke="#333" stroke-width="0.9"/>
<rect x="294.8" y="262.5" width="10.5" height="42.6" fill="#5a5a5a" stroke="#333" stroke-width="0.9"/>
<line x1="300.05" y1="305.1" x2="300.05" y2="308.1" stroke="#333" stroke-width="0.8"/>
<line x1="316.55" y1="233.26" x2="316.55" y2="227.49" stroke="#333" stroke-width="0.9"/>
<line x1="313.95" y1="227.49" x2="319.15" y2="227.49" stroke="#333" stroke-width="0.9"/>
<rect x="311.3" y="233.26" width="10.5" height="71.84" fill="#8c8cff" stroke="#333" stroke-width="0.9"/>
<line x1="316.55" y1="305.1" x2="316.55" y2="308.1" stroke="#333" stroke-width="0.8"/>
<line x1="333.05" y1="247.7" x2="333.05" y2="244.45" stroke="#333" stroke-width="0.9"/>
<line x1="330.45" y1="244.45" x2="335.65" y2="244.45" stroke="#333" stroke-width="0.9"/>
<rect x="327.8" y="247.7" width="10.5" height="57.4" fill="#5656fa" stroke="#333" stroke-width="0.9"/>
<line x1="333.05" y1="305.1" x2="333.05" y2="308.1" stroke="#333" stroke-width="0.8"/>
<line x1="349.55" y1="260.34" x2="349.55" y2="253.12" stroke="#333" stroke-width="0.9"/>
<line x1="346.95" y1="253.12" x2="352.15" y2="253.12" stroke="#333" stroke-width="0.9"/>
<rect x="344.3" y="260.34" width="10.5" height="44.76" fill="#f3a0a8" stroke="#333" stroke-width="0.9"/>
<line x1="349.55" y1="305.1" x2="349.55" y2="308.1" stroke="#333" stroke-width="0.8"/>
<line x1="366.05" y1="261.42" x2="366.05" y2="258.53" stroke="#333" stroke-width="0.9"/>
<line x1="363.45" y1="258.53" x2="368.65" y2="258.53" stroke="#333" stroke-width="0.9"/>
<rect x="360.8" y="261.42" width="10.5" height="43.68" fill="#f03c40" stroke="#333" stroke-width="0.9"/>
<line x1="366.05" y1="305.1" x2="366.05" y2="308.1" stroke="#333" stroke-width="0.8"/>
<text transform="translate(259.4,259) rotate(-90)" font-size="9.3" text-anchor="middle" fill="#1a1a1a" stroke="#1a1a1a" stroke-width="0.1">Rel. mRNA level (FC)</text>
<polyline points="284.9,262 284.9,219.3 316.6,219.3 316.6,225.2" fill="none" stroke="#4a4a4a" stroke-width="0.9"/>
<polyline points="316.6,225.2 316.6,214.2 348.8,214.2 348.8,249.3" fill="none" stroke="#4a4a4a" stroke-width="0.9"/>
<polygon points="299.6,214.35 300.22,215.79 301.79,215.94 300.61,216.98 300.95,218.51 299.6,217.71 298.25,218.51 298.59,216.98 297.41,215.94 298.98,215.79" fill="#2a2a2a"/>
<polygon points="332.6,209.35 333.22,210.79 334.79,210.94 333.61,211.98 333.95,213.51 332.6,212.71 331.25,213.51 331.59,211.98 330.41,210.94 331.98,210.79" fill="#2a2a2a"/>
<text x="269.9" y="319.9" font-size="9.3" text-anchor="end" fill="#1a1a1a" stroke="#1a1a1a" stroke-width="0.1">RT</text>
<rect x="281.8" y="316.05" width="3.5" height="1.1" fill="#1a1a1a"/>
<text x="300.05" y="320" font-size="10.2" text-anchor="middle" fill="#1a1a1a" stroke="#1a1a1a" stroke-width="0.1">+</text>
<rect x="314.8" y="316.05" width="3.5" height="1.1" fill="#1a1a1a"/>
<text x="333.05" y="320" font-size="10.2" text-anchor="middle" fill="#1a1a1a" stroke="#1a1a1a" stroke-width="0.1">+</text>
<rect x="347.8" y="316.05" width="3.5" height="1.1" fill="#1a1a1a"/>
<text x="366.05" y="320" font-size="10.2" text-anchor="middle" fill="#1a1a1a" stroke="#1a1a1a" stroke-width="0.1">+</text>
<text x="271.6" y="331.3" font-size="9.3" text-anchor="end" fill="#1a1a1a" stroke="#1a1a1a" stroke-width="0.1">Scr.</text>
<text x="283.55" y="331.4" font-size="10.2" text-anchor="middle" fill="#1a1a1a" stroke="#1a1a1a" stroke-width="0.1">+</text>
<text x="300.05" y="331.4" font-size="10.2" text-anchor="middle" fill="#1a1a1a" stroke="#1a1a1a" stroke-width="0.1">+</text>
<text x="316.55" y="331.4" font-size="10.2" text-anchor="middle" fill="#1a1a1a" stroke="#1a1a1a" stroke-width="0.1">+</text>
<text x="333.05" y="331.4" font-size="10.2" text-anchor="middle" fill="#1a1a1a" stroke="#1a1a1a" stroke-width="0.1">+</text>
<rect x="347.8" y="327.45" width="3.5" height="1.1" fill="#1a1a1a"/>
<rect x="364.3" y="327.45" width="3.5" height="1.1" fill="#1a1a1a"/>
<text x="272.6" y="341.9" font-size="9.3" text-anchor="end" fill="#1a1a1a" stroke="#1a1a1a" stroke-width="0.1">Mimic</text>
<rect x="281.8" y="338.05" width="3.5" height="1.1" fill="#1a1a1a"/>
<rect x="298.3" y="338.05" width="3.5" height="1.1" fill="#1a1a1a"/>
<rect x="314.8" y="338.05" width="3.5" height="1.1" fill="#1a1a1a"/>
<rect x="331.3" y="338.05" width="3.5" height="1.1" fill="#1a1a1a"/>
<text x="349.55" y="342" font-size="10.2" text-anchor="middle" fill="#1a1a1a" stroke="#1a1a1a" stroke-width="0.1">+</text>
<text x="366.05" y="342" font-size="10.2" text-anchor="middle" fill="#1a1a1a" stroke="#1a1a1a" stroke-width="0.1">+</text>
<line x1="275.6" y1="344" x2="307.7" y2="344" stroke="#333" stroke-width="0.9"/>
<line x1="310.1" y1="344" x2="373.6" y2="344" stroke="#333" stroke-width="0.9"/>
<text x="292.5" y="354.04" font-size="9" text-anchor="middle" fill="#1a1a1a" stroke="#1a1a1a" stroke-width="0.1">HT29<tspan font-size="5.5" dy="-2.51">Vec</tspan></text>
<text x="351.7" y="354.04" font-size="9" text-anchor="middle" fill="#1a1a1a" stroke="#1a1a1a" stroke-width="0.1">HT29<tspan font-size="5.5" dy="-2.51">KRAS-G12D</tspan></text>
<text x="472.6" y="203.9" font-size="10.7" text-anchor="middle" font-style="italic" fill="#1a1a1a" stroke="#1a1a1a" stroke-width="0.1">STING</text>
<line x1="425" y1="214.4" x2="425" y2="305.5" stroke="#333" stroke-width="1"/>
<line x1="425" y1="305" x2="528.2" y2="305" stroke="#333" stroke-width="1"/>
<line x1="420" y1="305" x2="425" y2="305" stroke="#333" stroke-width="1"/>
<line x1="420" y1="274.8" x2="425" y2="274.8" stroke="#333" stroke-width="1"/>
<line x1="420" y1="244.6" x2="425" y2="244.6" stroke="#333" stroke-width="1"/>
<line x1="420" y1="214.4" x2="425" y2="214.4" stroke="#333" stroke-width="1"/>
<text x="419.2" y="308.55" font-size="10" text-anchor="end" fill="#1a1a1a" stroke="#1a1a1a" stroke-width="0.1">0</text>
<text x="419.2" y="248.15" font-size="10" text-anchor="end" fill="#1a1a1a" stroke="#1a1a1a" stroke-width="0.1">2</text>
<rect x="429.1" y="274.8" width="10.5" height="30.2" fill="#d6d6d6" stroke="#333" stroke-width="0.9"/>
<line x1="434.35" y1="305" x2="434.35" y2="308" stroke="#333" stroke-width="0.8"/>
<line x1="450.95" y1="231.92" x2="450.95" y2="228.9" stroke="#333" stroke-width="0.9"/>
<line x1="448.35" y1="228.9" x2="453.55" y2="228.9" stroke="#333" stroke-width="0.9"/>
<rect x="445.7" y="231.92" width="10.5" height="73.08" fill="#5a5a5a" stroke="#333" stroke-width="0.9"/>
<line x1="450.95" y1="305" x2="450.95" y2="308" stroke="#333" stroke-width="0.8"/>
<line x1="467.55" y1="289.9" x2="467.55" y2="286.28" stroke="#333" stroke-width="0.9"/>
<line x1="464.95" y1="286.28" x2="470.15" y2="286.28" stroke="#333" stroke-width="0.9"/>
<rect x="462.3" y="289.9" width="10.5" height="15.1" fill="#8c8cff" stroke="#333" stroke-width="0.9"/>
<line x1="467.55" y1="305" x2="467.55" y2="308" stroke="#333" stroke-width="0.8"/>
<line x1="484.15" y1="281.14" x2="484.15" y2="278.12" stroke="#333" stroke-width="0.9"/>
<line x1="481.55" y1="278.12" x2="486.75" y2="278.12" stroke="#333" stroke-width="0.9"/>
<rect x="478.9" y="281.14" width="10.5" height="23.86" fill="#5656fa" stroke="#333" stroke-width="0.9"/>
<line x1="484.15" y1="305" x2="484.15" y2="308" stroke="#333" stroke-width="0.8"/>
<line x1="500.75" y1="252.15" x2="500.75" y2="248.53" stroke="#333" stroke-width="0.9"/>
<line x1="498.15" y1="248.53" x2="503.35" y2="248.53" stroke="#333" stroke-width="0.9"/>
<rect x="495.5" y="252.15" width="10.5" height="52.85" fill="#f3a0a8" stroke="#333" stroke-width="0.9"/>
<line x1="500.75" y1="305" x2="500.75" y2="308" stroke="#333" stroke-width="0.8"/>
<line x1="517.35" y1="241.58" x2="517.35" y2="237.35" stroke="#333" stroke-width="0.9"/>
<line x1="514.75" y1="237.35" x2="519.95" y2="237.35" stroke="#333" stroke-width="0.9"/>
<rect x="512.1" y="241.58" width="10.5" height="63.42" fill="#f03c40" stroke="#333" stroke-width="0.9"/>
<line x1="517.35" y1="305" x2="517.35" y2="308" stroke="#333" stroke-width="0.8"/>
<text transform="translate(410.4,257.7) rotate(-90)" font-size="9.3" text-anchor="middle" fill="#1a1a1a" stroke="#1a1a1a" stroke-width="0.1">Rel. mRNA level (FC)</text>
<polyline points="434.8,270 434.8,226 451.3,226 451.3,228.9" fill="none" stroke="#4a4a4a" stroke-width="0.9"/>
<polyline points="434.8,226 434.8,217.9 467.7,217.9 467.7,286" fill="none" stroke="#4a4a4a" stroke-width="0.9"/>
<polyline points="451.3,226 451.3,209.9 484.8,209.9 484.8,278" fill="none" stroke="#4a4a4a" stroke-width="0.9"/>
<polyline points="484.8,233.3 517.7,233.3 517.7,237" fill="none" stroke="#4a4a4a" stroke-width="0.9"/>
<polygon points="442,220.75 442.62,222.19 444.19,222.34 443.01,223.38 443.35,224.91 442,224.11 440.65,224.91 440.99,223.38 439.81,222.34 441.38,222.19" fill="#2a2a2a"/>
<polygon points="450.6,213.45 451.22,214.89 452.79,215.04 451.61,216.08 451.95,217.61 450.6,216.81 449.25,217.61 449.59,216.08 448.41,215.04 449.98,214.89" fill="#2a2a2a"/>
<polygon points="468.9,205.35 469.52,206.79 471.09,206.94 469.91,207.98 470.25,209.51 468.9,208.71 467.55,209.51 467.89,207.98 466.71,206.94 468.28,206.79" fill="#2a2a2a"/>
<polygon points="501.3,228.55 501.92,229.99 503.49,230.14 502.31,231.18 502.65,232.71 501.3,231.91 499.95,232.71 500.29,231.18 499.11,230.14 500.68,229.99" fill="#2a2a2a"/>
<text x="421.1" y="319.9" font-size="9.3" text-anchor="end" fill="#1a1a1a" stroke="#1a1a1a" stroke-width="0.1">RT</text>
<rect x="432.6" y="316.05" width="3.5" height="1.1" fill="#1a1a1a"/>
<text x="450.95" y="320" font-size="10.2" text-anchor="middle" fill="#1a1a1a" stroke="#1a1a1a" stroke-width="0.1">+</text>
<rect x="465.8" y="316.05" width="3.5" height="1.1" fill="#1a1a1a"/>
<text x="484.15" y="320" font-size="10.2" text-anchor="middle" fill="#1a1a1a" stroke="#1a1a1a" stroke-width="0.1">+</text>
<rect x="499" y="316.05" width="3.5" height="1.1" fill="#1a1a1a"/>
<text x="517.35" y="320" font-size="10.2" text-anchor="middle" fill="#1a1a1a" stroke="#1a1a1a" stroke-width="0.1">+</text>
<text x="422.8" y="331.3" font-size="9.3" text-anchor="end" fill="#1a1a1a" stroke="#1a1a1a" stroke-width="0.1">Scr.</text>
<text x="434.35" y="331.4" font-size="10.2" text-anchor="middle" fill="#1a1a1a" stroke="#1a1a1a" stroke-width="0.1">+</text>
<text x="450.95" y="331.4" font-size="10.2" text-anchor="middle" fill="#1a1a1a" stroke="#1a1a1a" stroke-width="0.1">+</text>
<text x="467.55" y="331.4" font-size="10.2" text-anchor="middle" fill="#1a1a1a" stroke="#1a1a1a" stroke-width="0.1">+</text>
<text x="484.15" y="331.4" font-size="10.2" text-anchor="middle" fill="#1a1a1a" stroke="#1a1a1a" stroke-width="0.1">+</text>
<rect x="499" y="327.45" width="3.5" height="1.1" fill="#1a1a1a"/>
<rect x="515.6" y="327.45" width="3.5" height="1.1" fill="#1a1a1a"/>
<text x="423.8" y="341.9" font-size="9.3" text-anchor="end" fill="#1a1a1a" stroke="#1a1a1a" stroke-width="0.1">Mimic</text>
<rect x="432.6" y="338.05" width="3.5" height="1.1" fill="#1a1a1a"/>
<rect x="449.2" y="338.05" width="3.5" height="1.1" fill="#1a1a1a"/>
<rect x="465.8" y="338.05" width="3.5" height="1.1" fill="#1a1a1a"/>
<rect x="482.4" y="338.05" width="3.5" height="1.1" fill="#1a1a1a"/>
<text x="500.75" y="342" font-size="10.2" text-anchor="middle" fill="#1a1a1a" stroke="#1a1a1a" stroke-width="0.1">+</text>
<text x="517.35" y="342" font-size="10.2" text-anchor="middle" fill="#1a1a1a" stroke="#1a1a1a" stroke-width="0.1">+</text>
<line x1="427.2" y1="339.3" x2="459.3" y2="339.3" stroke="#333" stroke-width="0.9"/>
<line x1="462.1" y1="339.3" x2="525.7" y2="339.3" stroke="#333" stroke-width="0.9"/>
<text x="444.3" y="352.04" font-size="9" text-anchor="middle" fill="#1a1a1a" stroke="#1a1a1a" stroke-width="0.1">HT29<tspan font-size="5.5" dy="-2.51">Vec</tspan></text>
<text x="506.1" y="352.04" font-size="9" text-anchor="middle" fill="#1a1a1a" stroke="#1a1a1a" stroke-width="0.1">HT29<tspan font-size="5.5" dy="-2.51">KRAS-G12D</tspan></text>
<text x="631.1" y="203.7" font-size="10.7" text-anchor="middle" font-style="italic" fill="#1a1a1a" stroke="#1a1a1a" stroke-width="0.1">IFN&#946;1</text>
<line x1="579.1" y1="214.5" x2="579.1" y2="305.5" stroke="#333" stroke-width="1"/>
<line x1="579.1" y1="305" x2="681.1" y2="305" stroke="#333" stroke-width="1"/>
<line x1="574.1" y1="305" x2="579.1" y2="305" stroke="#333" stroke-width="1"/>
<line x1="574.1" y1="286.9" x2="579.1" y2="286.9" stroke="#333" stroke-width="1"/>
<line x1="574.1" y1="268.8" x2="579.1" y2="268.8" stroke="#333" stroke-width="1"/>
<line x1="574.1" y1="250.7" x2="579.1" y2="250.7" stroke="#333" stroke-width="1"/>
<line x1="574.1" y1="232.6" x2="579.1" y2="232.6" stroke="#333" stroke-width="1"/>
<line x1="574.1" y1="214.5" x2="579.1" y2="214.5" stroke="#333" stroke-width="1"/>
<text x="573.3" y="308.55" font-size="10" text-anchor="end" fill="#1a1a1a" stroke="#1a1a1a" stroke-width="0.1">0</text>
<text x="573.3" y="272.35" font-size="10" text-anchor="end" fill="#1a1a1a" stroke="#1a1a1a" stroke-width="0.1">2</text>
<text x="573.3" y="236.15" font-size="10" text-anchor="end" fill="#1a1a1a" stroke="#1a1a1a" stroke-width="0.1">4</text>
<rect x="585.5" y="286.9" width="10.5" height="18.1" fill="#d6d6d6" stroke="#333" stroke-width="0.9"/>
<line x1="590.75" y1="305" x2="590.75" y2="308" stroke="#333" stroke-width="0.8"/>
<line x1="607.1" y1="238.03" x2="607.1" y2="235.5" stroke="#333" stroke-width="0.9"/>
<line x1="604.5" y1="235.5" x2="609.7" y2="235.5" stroke="#333" stroke-width="0.9"/>
<rect x="601.85" y="238.03" width="10.5" height="66.97" fill="#5a5a5a" stroke="#333" stroke-width="0.9"/>
<line x1="607.1" y1="305" x2="607.1" y2="308" stroke="#333" stroke-width="0.8"/>
<line x1="623.45" y1="295.95" x2="623.45" y2="294.32" stroke="#333" stroke-width="0.9"/>
<line x1="620.85" y1="294.32" x2="626.05" y2="294.32" stroke="#333" stroke-width="0.9"/>
<rect x="618.2" y="295.95" width="10.5" height="9.05" fill="#8c8cff" stroke="#333" stroke-width="0.9"/>
<line x1="623.45" y1="305" x2="623.45" y2="308" stroke="#333" stroke-width="0.8"/>
<line x1="639.8" y1="289.25" x2="639.8" y2="288.17" stroke="#333" stroke-width="0.9"/>
<line x1="637.2" y1="288.17" x2="642.4" y2="288.17" stroke="#333" stroke-width="0.9"/>
<rect x="634.55" y="289.25" width="10.5" height="15.75" fill="#5656fa" stroke="#333" stroke-width="0.9"/>
<line x1="639.8" y1="305" x2="639.8" y2="308" stroke="#333" stroke-width="0.8"/>
<line x1="656.15" y1="274.59" x2="656.15" y2="270.43" stroke="#333" stroke-width="0.9"/>
<line x1="653.55" y1="270.43" x2="658.75" y2="270.43" stroke="#333" stroke-width="0.9"/>
<rect x="650.9" y="274.59" width="10.5" height="30.41" fill="#f3a0a8" stroke="#333" stroke-width="0.9"/>
<line x1="656.15" y1="305" x2="656.15" y2="308" stroke="#333" stroke-width="0.8"/>
<line x1="672.5" y1="258.3" x2="672.5" y2="255.23" stroke="#333" stroke-width="0.9"/>
<line x1="669.9" y1="255.23" x2="675.1" y2="255.23" stroke="#333" stroke-width="0.9"/>
<rect x="667.25" y="258.3" width="10.5" height="46.7" fill="#f03c40" stroke="#333" stroke-width="0.9"/>
<line x1="672.5" y1="305" x2="672.5" y2="308" stroke="#333" stroke-width="0.8"/>
<text transform="translate(565.3,257.7) rotate(-90)" font-size="9.3" text-anchor="middle" fill="#1a1a1a" stroke="#1a1a1a" stroke-width="0.1">Rel. mRNA level (FC)</text>
<polyline points="590.9,282 590.9,228.9 606.7,228.9 606.7,233" fill="none" stroke="#4a4a4a" stroke-width="0.9"/>
<polyline points="606.7,228.9 606.7,224.9 639.1,224.9 639.1,286" fill="none" stroke="#4a4a4a" stroke-width="0.9"/>
<polyline points="639.1,224.9 639.1,219.1 672.6,219.1 672.6,254.5" fill="none" stroke="#4a4a4a" stroke-width="0.9"/>
<polygon points="596.8,223.95 597.42,225.39 598.99,225.54 597.81,226.58 598.15,228.11 596.8,227.31 595.45,228.11 595.79,226.58 594.61,225.54 596.18,225.39" fill="#2a2a2a"/>
<polygon points="600.8,223.95 601.42,225.39 602.99,225.54 601.81,226.58 602.15,228.11 600.8,227.31 599.45,228.11 599.79,226.58 598.61,225.54 600.18,225.39" fill="#2a2a2a"/>
<polygon points="620.6,219.55 621.22,220.99 622.79,221.14 621.61,222.18 621.95,223.71 620.6,222.91 619.25,223.71 619.59,222.18 618.41,221.14 619.98,220.99" fill="#2a2a2a"/>
<polygon points="624.6,219.55 625.22,220.99 626.79,221.14 625.61,222.18 625.95,223.71 624.6,222.91 623.25,223.71 623.59,222.18 622.41,221.14 623.98,220.99" fill="#2a2a2a"/>
<polygon points="656,213.45 656.62,214.89 658.19,215.04 657.01,216.08 657.35,217.61 656,216.81 654.65,217.61 654.99,216.08 653.81,215.04 655.38,214.89" fill="#2a2a2a"/>
<text x="575.3" y="319.9" font-size="9.3" text-anchor="end" fill="#1a1a1a" stroke="#1a1a1a" stroke-width="0.1">RT</text>
<rect x="589" y="316.05" width="3.5" height="1.1" fill="#1a1a1a"/>
<text x="607.1" y="320" font-size="10.2" text-anchor="middle" fill="#1a1a1a" stroke="#1a1a1a" stroke-width="0.1">+</text>
<rect x="621.7" y="316.05" width="3.5" height="1.1" fill="#1a1a1a"/>
<text x="639.8" y="320" font-size="10.2" text-anchor="middle" fill="#1a1a1a" stroke="#1a1a1a" stroke-width="0.1">+</text>
<rect x="654.4" y="316.05" width="3.5" height="1.1" fill="#1a1a1a"/>
<text x="672.5" y="320" font-size="10.2" text-anchor="middle" fill="#1a1a1a" stroke="#1a1a1a" stroke-width="0.1">+</text>
<text x="577" y="331.3" font-size="9.3" text-anchor="end" fill="#1a1a1a" stroke="#1a1a1a" stroke-width="0.1">Scr.</text>
<text x="590.75" y="331.4" font-size="10.2" text-anchor="middle" fill="#1a1a1a" stroke="#1a1a1a" stroke-width="0.1">+</text>
<text x="607.1" y="331.4" font-size="10.2" text-anchor="middle" fill="#1a1a1a" stroke="#1a1a1a" stroke-width="0.1">+</text>
<text x="623.45" y="331.4" font-size="10.2" text-anchor="middle" fill="#1a1a1a" stroke="#1a1a1a" stroke-width="0.1">+</text>
<text x="639.8" y="331.4" font-size="10.2" text-anchor="middle" fill="#1a1a1a" stroke="#1a1a1a" stroke-width="0.1">+</text>
<rect x="654.4" y="327.45" width="3.5" height="1.1" fill="#1a1a1a"/>
<rect x="670.75" y="327.45" width="3.5" height="1.1" fill="#1a1a1a"/>
<text x="578" y="341.9" font-size="9.3" text-anchor="end" fill="#1a1a1a" stroke="#1a1a1a" stroke-width="0.1">Mimic</text>
<rect x="589" y="338.05" width="3.5" height="1.1" fill="#1a1a1a"/>
<rect x="605.35" y="338.05" width="3.5" height="1.1" fill="#1a1a1a"/>
<rect x="621.7" y="338.05" width="3.5" height="1.1" fill="#1a1a1a"/>
<rect x="638.05" y="338.05" width="3.5" height="1.1" fill="#1a1a1a"/>
<text x="656.15" y="342" font-size="10.2" text-anchor="middle" fill="#1a1a1a" stroke="#1a1a1a" stroke-width="0.1">+</text>
<text x="672.5" y="342" font-size="10.2" text-anchor="middle" fill="#1a1a1a" stroke="#1a1a1a" stroke-width="0.1">+</text>
<line x1="582.6" y1="342.1" x2="615" y2="342.1" stroke="#333" stroke-width="0.9"/>
<line x1="617" y1="342.1" x2="680.8" y2="342.1" stroke="#333" stroke-width="0.9"/>
<text x="599" y="352.74" font-size="9" text-anchor="middle" fill="#1a1a1a" stroke="#1a1a1a" stroke-width="0.1">HT29<tspan font-size="5.5" dy="-2.51">Vec</tspan></text>
<text x="656.8" y="352.74" font-size="9" text-anchor="middle" fill="#1a1a1a" stroke="#1a1a1a" stroke-width="0.1">HT29<tspan font-size="5.5" dy="-2.51">KRAS-G12D</tspan></text>
<text x="325.5" y="387.2" font-size="10.7" text-anchor="middle" font-style="italic" fill="#1a1a1a" stroke="#1a1a1a" stroke-width="0.1">DNMT3b</text>
<line x1="272.2" y1="392.9" x2="272.2" y2="484.3" stroke="#333" stroke-width="1"/>
<line x1="272.2" y1="483.8" x2="377" y2="483.8" stroke="#333" stroke-width="1"/>
<line x1="267.2" y1="483.8" x2="272.2" y2="483.8" stroke="#333" stroke-width="1"/>
<line x1="267.2" y1="453.5" x2="272.2" y2="453.5" stroke="#333" stroke-width="1"/>
<line x1="267.2" y1="423.2" x2="272.2" y2="423.2" stroke="#333" stroke-width="1"/>
<line x1="267.2" y1="392.9" x2="272.2" y2="392.9" stroke="#333" stroke-width="1"/>
<text x="266.4" y="487.35" font-size="10" text-anchor="end" fill="#1a1a1a" stroke="#1a1a1a" stroke-width="0.1">0</text>
<text x="266.4" y="426.75" font-size="10" text-anchor="end" fill="#1a1a1a" stroke="#1a1a1a" stroke-width="0.1">2</text>
<rect x="278.3" y="453.5" width="10.5" height="30.3" fill="#d6d6d6" stroke="#333" stroke-width="0.9"/>
<line x1="283.55" y1="483.8" x2="283.55" y2="486.8" stroke="#333" stroke-width="0.8"/>
<line x1="299.95" y1="455.01" x2="299.95" y2="452.29" stroke="#333" stroke-width="0.9"/>
<line x1="297.35" y1="452.29" x2="302.55" y2="452.29" stroke="#333" stroke-width="0.9"/>
<rect x="294.7" y="455.01" width="10.5" height="28.79" fill="#5a5a5a" stroke="#333" stroke-width="0.9"/>
<line x1="299.95" y1="483.8" x2="299.95" y2="486.8" stroke="#333" stroke-width="0.8"/>
<line x1="316.35" y1="462.59" x2="316.35" y2="461.98" stroke="#333" stroke-width="0.9"/>
<line x1="313.75" y1="461.98" x2="318.95" y2="461.98" stroke="#333" stroke-width="0.9"/>
<rect x="311.1" y="462.59" width="10.5" height="21.21" fill="#8c8cff" stroke="#333" stroke-width="0.9"/>
<line x1="316.35" y1="483.8" x2="316.35" y2="486.8" stroke="#333" stroke-width="0.8"/>
<line x1="332.75" y1="459.56" x2="332.75" y2="457.44" stroke="#333" stroke-width="0.9"/>
<line x1="330.15" y1="457.44" x2="335.35" y2="457.44" stroke="#333" stroke-width="0.9"/>
<rect x="327.5" y="459.56" width="10.5" height="24.24" fill="#5656fa" stroke="#333" stroke-width="0.9"/>
<line x1="332.75" y1="483.8" x2="332.75" y2="486.8" stroke="#333" stroke-width="0.8"/>
<line x1="349.15" y1="406.54" x2="349.15" y2="404.41" stroke="#333" stroke-width="0.9"/>
<line x1="346.55" y1="404.41" x2="351.75" y2="404.41" stroke="#333" stroke-width="0.9"/>
<rect x="343.9" y="406.54" width="10.5" height="77.27" fill="#f3a0a8" stroke="#333" stroke-width="0.9"/>
<line x1="349.15" y1="483.8" x2="349.15" y2="486.8" stroke="#333" stroke-width="0.8"/>
<line x1="365.55" y1="414.72" x2="365.55" y2="412.29" stroke="#333" stroke-width="0.9"/>
<line x1="362.95" y1="412.29" x2="368.15" y2="412.29" stroke="#333" stroke-width="0.9"/>
<rect x="360.3" y="414.72" width="10.5" height="69.08" fill="#f03c40" stroke="#333" stroke-width="0.9"/>
<line x1="365.55" y1="483.8" x2="365.55" y2="486.8" stroke="#333" stroke-width="0.8"/>
<text transform="translate(258,438.5) rotate(-90)" font-size="9.3" text-anchor="middle" fill="#1a1a1a" stroke="#1a1a1a" stroke-width="0.1">Rel. mRNA level (FC)</text>
<polyline points="316.7,460 316.7,398.2 348.6,398.2 348.6,402.7" fill="none" stroke="#4a4a4a" stroke-width="0.9"/>
<polygon points="331.5,393.15 332.12,394.59 333.69,394.74 332.51,395.78 332.85,397.31 331.5,396.51 330.15,397.31 330.49,395.78 329.31,394.74 330.88,394.59" fill="#2a2a2a"/>
<polygon points="335.5,393.15 336.12,394.59 337.69,394.74 336.51,395.78 336.85,397.31 335.5,396.51 334.15,397.31 334.49,395.78 333.31,394.74 334.88,394.59" fill="#2a2a2a"/>
<text x="269.6" y="496.8" font-size="9.3" text-anchor="end" fill="#1a1a1a" stroke="#1a1a1a" stroke-width="0.1">RT</text>
<rect x="281.8" y="492.95" width="3.5" height="1.1" fill="#1a1a1a"/>
<text x="299.95" y="496.9" font-size="10.2" text-anchor="middle" fill="#1a1a1a" stroke="#1a1a1a" stroke-width="0.1">+</text>
<rect x="314.6" y="492.95" width="3.5" height="1.1" fill="#1a1a1a"/>
<text x="332.75" y="496.9" font-size="10.2" text-anchor="middle" fill="#1a1a1a" stroke="#1a1a1a" stroke-width="0.1">+</text>
<rect x="347.4" y="492.95" width="3.5" height="1.1" fill="#1a1a1a"/>
<text x="365.55" y="496.9" font-size="10.2" text-anchor="middle" fill="#1a1a1a" stroke="#1a1a1a" stroke-width="0.1">+</text>
<text x="271.3" y="508.3" font-size="9.3" text-anchor="end" fill="#1a1a1a" stroke="#1a1a1a" stroke-width="0.1">Scr.</text>
<text x="283.55" y="508.4" font-size="10.2" text-anchor="middle" fill="#1a1a1a" stroke="#1a1a1a" stroke-width="0.1">+</text>
<text x="299.95" y="508.4" font-size="10.2" text-anchor="middle" fill="#1a1a1a" stroke="#1a1a1a" stroke-width="0.1">+</text>
<text x="316.35" y="508.4" font-size="10.2" text-anchor="middle" fill="#1a1a1a" stroke="#1a1a1a" stroke-width="0.1">+</text>
<text x="332.75" y="508.4" font-size="10.2" text-anchor="middle" fill="#1a1a1a" stroke="#1a1a1a" stroke-width="0.1">+</text>
<rect x="347.4" y="504.45" width="3.5" height="1.1" fill="#1a1a1a"/>
<rect x="363.8" y="504.45" width="3.5" height="1.1" fill="#1a1a1a"/>
<text x="271.3" y="518.8" font-size="9.3" text-anchor="end" fill="#1a1a1a" stroke="#1a1a1a" stroke-width="0.1">Anta.</text>
<rect x="281.8" y="514.95" width="3.5" height="1.1" fill="#1a1a1a"/>
<rect x="298.2" y="514.95" width="3.5" height="1.1" fill="#1a1a1a"/>
<rect x="314.6" y="514.95" width="3.5" height="1.1" fill="#1a1a1a"/>
<rect x="331" y="514.95" width="3.5" height="1.1" fill="#1a1a1a"/>
<text x="349.15" y="518.9" font-size="10.2" text-anchor="middle" fill="#1a1a1a" stroke="#1a1a1a" stroke-width="0.1">+</text>
<text x="365.55" y="518.9" font-size="10.2" text-anchor="middle" fill="#1a1a1a" stroke="#1a1a1a" stroke-width="0.1">+</text>
<line x1="275.5" y1="523.1" x2="307.9" y2="523.1" stroke="#333" stroke-width="0.9"/>
<line x1="310.2" y1="523.1" x2="374" y2="523.1" stroke="#333" stroke-width="0.9"/>
<text x="293.3" y="533.34" font-size="9" text-anchor="middle" fill="#1a1a1a" stroke="#1a1a1a" stroke-width="0.1">SW620<tspan font-size="5.5" dy="-2.51">shNC</tspan></text>
<text x="345.2" y="533.34" font-size="9" text-anchor="middle" fill="#1a1a1a" stroke="#1a1a1a" stroke-width="0.1">SW620<tspan font-size="5.5" dy="-2.51">shKRAS</tspan></text>
<text x="478.7" y="387" font-size="10.7" text-anchor="middle" font-style="italic" fill="#1a1a1a" stroke="#1a1a1a" stroke-width="0.1">STING</text>
<line x1="425" y1="392.9" x2="425" y2="484.4" stroke="#333" stroke-width="1"/>
<line x1="425" y1="483.9" x2="528.7" y2="483.9" stroke="#333" stroke-width="1"/>
<line x1="420" y1="483.9" x2="425" y2="483.9" stroke="#333" stroke-width="1"/>
<line x1="420" y1="461.15" x2="425" y2="461.15" stroke="#333" stroke-width="1"/>
<line x1="420" y1="438.4" x2="425" y2="438.4" stroke="#333" stroke-width="1"/>
<line x1="420" y1="415.65" x2="425" y2="415.65" stroke="#333" stroke-width="1"/>
<line x1="420" y1="392.9" x2="425" y2="392.9" stroke="#333" stroke-width="1"/>
<text x="419.2" y="487.45" font-size="10" text-anchor="end" fill="#1a1a1a" stroke="#1a1a1a" stroke-width="0.1">0</text>
<text x="419.2" y="441.95" font-size="10" text-anchor="end" fill="#1a1a1a" stroke="#1a1a1a" stroke-width="0.1">2</text>
<text x="419.2" y="396.45" font-size="10" text-anchor="end" fill="#1a1a1a" stroke="#1a1a1a" stroke-width="0.1">4</text>
<rect x="430.6" y="461.15" width="10.5" height="22.75" fill="#d6d6d6" stroke="#333" stroke-width="0.9"/>
<line x1="435.85" y1="483.9" x2="435.85" y2="486.9" stroke="#333" stroke-width="0.8"/>
<line x1="452.3" y1="442.95" x2="452.3" y2="439.31" stroke="#333" stroke-width="0.9"/>
<line x1="449.7" y1="439.31" x2="454.9" y2="439.31" stroke="#333" stroke-width="0.9"/>
<rect x="447.05" y="442.95" width="10.5" height="40.95" fill="#5a5a5a" stroke="#333" stroke-width="0.9"/>
<line x1="452.3" y1="483.9" x2="452.3" y2="486.9" stroke="#333" stroke-width="0.8"/>
<line x1="468.75" y1="417.92" x2="468.75" y2="414.06" stroke="#333" stroke-width="0.9"/>
<line x1="466.15" y1="414.06" x2="471.35" y2="414.06" stroke="#333" stroke-width="0.9"/>
<rect x="463.5" y="417.92" width="10.5" height="65.97" fill="#8c8cff" stroke="#333" stroke-width="0.9"/>
<line x1="468.75" y1="483.9" x2="468.75" y2="486.9" stroke="#333" stroke-width="0.8"/>
<line x1="485.2" y1="405.18" x2="485.2" y2="402.68" stroke="#333" stroke-width="0.9"/>
<line x1="482.6" y1="402.68" x2="487.8" y2="402.68" stroke="#333" stroke-width="0.9"/>
<rect x="479.95" y="405.18" width="10.5" height="78.72" fill="#5656fa" stroke="#333" stroke-width="0.9"/>
<line x1="485.2" y1="483.9" x2="485.2" y2="486.9" stroke="#333" stroke-width="0.8"/>
<line x1="501.65" y1="445.91" x2="501.65" y2="444.31" stroke="#333" stroke-width="0.9"/>
<line x1="499.05" y1="444.31" x2="504.25" y2="444.31" stroke="#333" stroke-width="0.9"/>
<rect x="496.4" y="445.91" width="10.5" height="37.99" fill="#f3a0a8" stroke="#333" stroke-width="0.9"/>
<line x1="501.65" y1="483.9" x2="501.65" y2="486.9" stroke="#333" stroke-width="0.8"/>
<line x1="518.1" y1="442.27" x2="518.1" y2="437.72" stroke="#333" stroke-width="0.9"/>
<line x1="515.5" y1="437.72" x2="520.7" y2="437.72" stroke="#333" stroke-width="0.9"/>
<rect x="512.85" y="442.27" width="10.5" height="41.63" fill="#f03c40" stroke="#333" stroke-width="0.9"/>
<line x1="518.1" y1="483.9" x2="518.1" y2="486.9" stroke="#333" stroke-width="0.8"/>
<text transform="translate(411.6,438) rotate(-90)" font-size="9.3" text-anchor="middle" fill="#1a1a1a" stroke="#1a1a1a" stroke-width="0.1">Rel. mRNA level (FC)</text>
<polyline points="438.9,458 438.9,433.2 454.3,433.2 454.3,437.6" fill="none" stroke="#4a4a4a" stroke-width="0.9"/>
<polyline points="438.9,433.2 438.9,410 471.3,410 471.3,413.2" fill="none" stroke="#4a4a4a" stroke-width="0.9"/>
<polyline points="455.5,401.5 455.5,397.8 485.5,397.8 485.5,400.2" fill="none" stroke="#4a4a4a" stroke-width="0.9"/>
<polyline points="485.5,397.8 485.5,394.1 517.7,394.1 517.7,436.8" fill="none" stroke="#4a4a4a" stroke-width="0.9"/>
<polygon points="446.2,428.65 446.82,430.09 448.39,430.24 447.21,431.28 447.55,432.81 446.2,432.01 444.85,432.81 445.19,431.28 444.01,430.24 445.58,430.09" fill="#2a2a2a"/>
<polygon points="453.5,404.75 454.12,406.19 455.69,406.34 454.51,407.38 454.85,408.91 453.5,408.11 452.15,408.91 452.49,407.38 451.31,406.34 452.88,406.19" fill="#2a2a2a"/>
<polygon points="457.5,404.75 458.12,406.19 459.69,406.34 458.51,407.38 458.85,408.91 457.5,408.11 456.15,408.91 456.49,407.38 455.31,406.34 456.88,406.19" fill="#2a2a2a"/>
<polygon points="471.3,392.55 471.92,393.99 473.49,394.14 472.31,395.18 472.65,396.71 471.3,395.91 469.95,396.71 470.29,395.18 469.11,394.14 470.68,393.99" fill="#2a2a2a"/>
<polygon points="500.6,388.45 501.22,389.89 502.79,390.04 501.61,391.08 501.95,392.61 500.6,391.81 499.25,392.61 499.59,391.08 498.41,390.04 499.98,389.89" fill="#2a2a2a"/>
<text x="421.3" y="496.8" font-size="9.3" text-anchor="end" fill="#1a1a1a" stroke="#1a1a1a" stroke-width="0.1">RT</text>
<rect x="434.1" y="492.95" width="3.5" height="1.1" fill="#1a1a1a"/>
<text x="452.3" y="496.9" font-size="10.2" text-anchor="middle" fill="#1a1a1a" stroke="#1a1a1a" stroke-width="0.1">+</text>
<rect x="467" y="492.95" width="3.5" height="1.1" fill="#1a1a1a"/>
<text x="485.2" y="496.9" font-size="10.2" text-anchor="middle" fill="#1a1a1a" stroke="#1a1a1a" stroke-width="0.1">+</text>
<rect x="499.9" y="492.95" width="3.5" height="1.1" fill="#1a1a1a"/>
<text x="518.1" y="496.9" font-size="10.2" text-anchor="middle" fill="#1a1a1a" stroke="#1a1a1a" stroke-width="0.1">+</text>
<text x="423" y="508.3" font-size="9.3" text-anchor="end" fill="#1a1a1a" stroke="#1a1a1a" stroke-width="0.1">Scr.</text>
<text x="435.85" y="508.4" font-size="10.2" text-anchor="middle" fill="#1a1a1a" stroke="#1a1a1a" stroke-width="0.1">+</text>
<text x="452.3" y="508.4" font-size="10.2" text-anchor="middle" fill="#1a1a1a" stroke="#1a1a1a" stroke-width="0.1">+</text>
<text x="468.75" y="508.4" font-size="10.2" text-anchor="middle" fill="#1a1a1a" stroke="#1a1a1a" stroke-width="0.1">+</text>
<text x="485.2" y="508.4" font-size="10.2" text-anchor="middle" fill="#1a1a1a" stroke="#1a1a1a" stroke-width="0.1">+</text>
<rect x="499.9" y="504.45" width="3.5" height="1.1" fill="#1a1a1a"/>
<rect x="516.35" y="504.45" width="3.5" height="1.1" fill="#1a1a1a"/>
<text x="423" y="518.8" font-size="9.3" text-anchor="end" fill="#1a1a1a" stroke="#1a1a1a" stroke-width="0.1">Anta.</text>
<rect x="434.1" y="514.95" width="3.5" height="1.1" fill="#1a1a1a"/>
<rect x="450.55" y="514.95" width="3.5" height="1.1" fill="#1a1a1a"/>
<rect x="467" y="514.95" width="3.5" height="1.1" fill="#1a1a1a"/>
<rect x="483.45" y="514.95" width="3.5" height="1.1" fill="#1a1a1a"/>
<text x="501.65" y="518.9" font-size="10.2" text-anchor="middle" fill="#1a1a1a" stroke="#1a1a1a" stroke-width="0.1">+</text>
<text x="518.1" y="518.9" font-size="10.2" text-anchor="middle" fill="#1a1a1a" stroke="#1a1a1a" stroke-width="0.1">+</text>
<line x1="428.8" y1="523.2" x2="461" y2="523.2" stroke="#333" stroke-width="0.9"/>
<line x1="463" y1="523.2" x2="527.3" y2="523.2" stroke="#333" stroke-width="0.9"/>
<text x="446.3" y="532.54" font-size="9" text-anchor="middle" fill="#1a1a1a" stroke="#1a1a1a" stroke-width="0.1">SW620<tspan font-size="5.5" dy="-2.51">shNC</tspan></text>
<text x="497.9" y="532.54" font-size="9" text-anchor="middle" fill="#1a1a1a" stroke="#1a1a1a" stroke-width="0.1">SW620<tspan font-size="5.5" dy="-2.51">shKRAS</tspan></text>
<text x="624.5" y="387" font-size="10.7" text-anchor="middle" font-style="italic" fill="#1a1a1a" stroke="#1a1a1a" stroke-width="0.1">IFN&#946;1</text>
<line x1="579.1" y1="392.1" x2="579.1" y2="484.2" stroke="#333" stroke-width="1"/>
<line x1="579.1" y1="483.7" x2="679.9" y2="483.7" stroke="#333" stroke-width="1"/>
<line x1="574.1" y1="483.7" x2="579.1" y2="483.7" stroke="#333" stroke-width="1"/>
<line x1="574.1" y1="460.8" x2="579.1" y2="460.8" stroke="#333" stroke-width="1"/>
<line x1="574.1" y1="437.9" x2="579.1" y2="437.9" stroke="#333" stroke-width="1"/>
<line x1="574.1" y1="415" x2="579.1" y2="415" stroke="#333" stroke-width="1"/>
<line x1="574.1" y1="392.1" x2="579.1" y2="392.1" stroke="#333" stroke-width="1"/>
<text x="573.3" y="487.25" font-size="10" text-anchor="end" fill="#1a1a1a" stroke="#1a1a1a" stroke-width="0.1">0</text>
<text x="573.3" y="441.45" font-size="10" text-anchor="end" fill="#1a1a1a" stroke="#1a1a1a" stroke-width="0.1">2</text>
<text x="573.3" y="395.65" font-size="10" text-anchor="end" fill="#1a1a1a" stroke="#1a1a1a" stroke-width="0.1">4</text>
<rect x="585.5" y="460.8" width="10.5" height="22.9" fill="#d6d6d6" stroke="#333" stroke-width="0.9"/>
<line x1="590.75" y1="483.7" x2="590.75" y2="486.7" stroke="#333" stroke-width="0.8"/>
<line x1="607.1" y1="448.89" x2="607.1" y2="447.06" stroke="#333" stroke-width="0.9"/>
<line x1="604.5" y1="447.06" x2="609.7" y2="447.06" stroke="#333" stroke-width="0.9"/>
<rect x="601.85" y="448.89" width="10.5" height="34.81" fill="#5a5a5a" stroke="#333" stroke-width="0.9"/>
<line x1="607.1" y1="483.7" x2="607.1" y2="486.7" stroke="#333" stroke-width="0.8"/>
<line x1="623.45" y1="452.56" x2="623.45" y2="450.04" stroke="#333" stroke-width="0.9"/>
<line x1="620.85" y1="450.04" x2="626.05" y2="450.04" stroke="#333" stroke-width="0.9"/>
<rect x="618.2" y="452.56" width="10.5" height="31.14" fill="#8c8cff" stroke="#333" stroke-width="0.9"/>
<line x1="623.45" y1="483.7" x2="623.45" y2="486.7" stroke="#333" stroke-width="0.8"/>
<line x1="639.8" y1="419.12" x2="639.8" y2="415.46" stroke="#333" stroke-width="0.9"/>
<line x1="637.2" y1="415.46" x2="642.4" y2="415.46" stroke="#333" stroke-width="0.9"/>
<rect x="634.55" y="419.12" width="10.5" height="64.58" fill="#5656fa" stroke="#333" stroke-width="0.9"/>
<line x1="639.8" y1="483.7" x2="639.8" y2="486.7" stroke="#333" stroke-width="0.8"/>
<line x1="656.15" y1="467.21" x2="656.15" y2="464.46" stroke="#333" stroke-width="0.9"/>
<line x1="653.55" y1="464.46" x2="658.75" y2="464.46" stroke="#333" stroke-width="0.9"/>
<rect x="650.9" y="467.21" width="10.5" height="16.49" fill="#f3a0a8" stroke="#333" stroke-width="0.9"/>
<line x1="656.15" y1="483.7" x2="656.15" y2="486.7" stroke="#333" stroke-width="0.8"/>
<line x1="672.5" y1="459.2" x2="672.5" y2="455.07" stroke="#333" stroke-width="0.9"/>
<line x1="669.9" y1="455.07" x2="675.1" y2="455.07" stroke="#333" stroke-width="0.9"/>
<rect x="667.25" y="459.2" width="10.5" height="24.5" fill="#f03c40" stroke="#333" stroke-width="0.9"/>
<line x1="672.5" y1="483.7" x2="672.5" y2="486.7" stroke="#333" stroke-width="0.8"/>
<text transform="translate(563.3,438) rotate(-90)" font-size="9.3" text-anchor="middle" fill="#1a1a1a" stroke="#1a1a1a" stroke-width="0.1">Rel. mRNA level (FC)</text>
<polyline points="606.7,446 606.7,409.3 639.1,409.3 639.1,412.4" fill="none" stroke="#4a4a4a" stroke-width="0.9"/>
<polyline points="639.1,409.3 639.1,403.9 672.6,403.9 672.6,453.9" fill="none" stroke="#4a4a4a" stroke-width="0.9"/>
<polygon points="620.6,404.75 621.22,406.19 622.79,406.34 621.61,407.38 621.95,408.91 620.6,408.11 619.25,408.91 619.59,407.38 618.41,406.34 619.98,406.19" fill="#2a2a2a"/>
<polygon points="651.8,399.45 652.42,400.89 653.99,401.04 652.81,402.08 653.15,403.61 651.8,402.81 650.45,403.61 650.79,402.08 649.61,401.04 651.18,400.89" fill="#2a2a2a"/>
<text x="575.3" y="496.8" font-size="9.3" text-anchor="end" fill="#1a1a1a" stroke="#1a1a1a" stroke-width="0.1">RT</text>
<rect x="589" y="492.95" width="3.5" height="1.1" fill="#1a1a1a"/>
<text x="607.1" y="496.9" font-size="10.2" text-anchor="middle" fill="#1a1a1a" stroke="#1a1a1a" stroke-width="0.1">+</text>
<rect x="621.7" y="492.95" width="3.5" height="1.1" fill="#1a1a1a"/>
<text x="639.8" y="496.9" font-size="10.2" text-anchor="middle" fill="#1a1a1a" stroke="#1a1a1a" stroke-width="0.1">+</text>
<rect x="654.4" y="492.95" width="3.5" height="1.1" fill="#1a1a1a"/>
<text x="672.5" y="496.9" font-size="10.2" text-anchor="middle" fill="#1a1a1a" stroke="#1a1a1a" stroke-width="0.1">+</text>
<text x="577" y="508.3" font-size="9.3" text-anchor="end" fill="#1a1a1a" stroke="#1a1a1a" stroke-width="0.1">Scr.</text>
<text x="590.75" y="508.4" font-size="10.2" text-anchor="middle" fill="#1a1a1a" stroke="#1a1a1a" stroke-width="0.1">+</text>
<text x="607.1" y="508.4" font-size="10.2" text-anchor="middle" fill="#1a1a1a" stroke="#1a1a1a" stroke-width="0.1">+</text>
<text x="623.45" y="508.4" font-size="10.2" text-anchor="middle" fill="#1a1a1a" stroke="#1a1a1a" stroke-width="0.1">+</text>
<text x="639.8" y="508.4" font-size="10.2" text-anchor="middle" fill="#1a1a1a" stroke="#1a1a1a" stroke-width="0.1">+</text>
<rect x="654.4" y="504.45" width="3.5" height="1.1" fill="#1a1a1a"/>
<rect x="670.75" y="504.45" width="3.5" height="1.1" fill="#1a1a1a"/>
<text x="577" y="518.8" font-size="9.3" text-anchor="end" fill="#1a1a1a" stroke="#1a1a1a" stroke-width="0.1">Anta.</text>
<rect x="589" y="514.95" width="3.5" height="1.1" fill="#1a1a1a"/>
<rect x="605.35" y="514.95" width="3.5" height="1.1" fill="#1a1a1a"/>
<rect x="621.7" y="514.95" width="3.5" height="1.1" fill="#1a1a1a"/>
<rect x="638.05" y="514.95" width="3.5" height="1.1" fill="#1a1a1a"/>
<text x="656.15" y="518.9" font-size="10.2" text-anchor="middle" fill="#1a1a1a" stroke="#1a1a1a" stroke-width="0.1">+</text>
<text x="672.5" y="518.9" font-size="10.2" text-anchor="middle" fill="#1a1a1a" stroke="#1a1a1a" stroke-width="0.1">+</text>
<line x1="580.4" y1="523.1" x2="612.8" y2="523.1" stroke="#333" stroke-width="0.9"/>
<line x1="615" y1="523.1" x2="679.1" y2="523.1" stroke="#333" stroke-width="0.9"/>
<text x="598.5" y="533.24" font-size="9" text-anchor="middle" fill="#1a1a1a" stroke="#1a1a1a" stroke-width="0.1">SW620<tspan font-size="5.5" dy="-2.51">shNC</tspan></text>
<text x="650.3" y="533.24" font-size="9" text-anchor="middle" fill="#1a1a1a" stroke="#1a1a1a" stroke-width="0.1">SW620<tspan font-size="5.5" dy="-2.51">shKRAS</tspan></text>
<text x="255.6" y="564" font-size="9.6" text-anchor="middle" fill="#1a1a1a" stroke="#1a1a1a" stroke-width="0.1">DNMT3b</text>
<line x1="202.2" y1="575.3" x2="202.2" y2="665.8" stroke="#333" stroke-width="1"/>
<line x1="202.2" y1="665.3" x2="305.2" y2="665.3" stroke="#333" stroke-width="1"/>
<line x1="197.2" y1="665.3" x2="202.2" y2="665.3" stroke="#333" stroke-width="1"/>
<line x1="197.2" y1="647.3" x2="202.2" y2="647.3" stroke="#333" stroke-width="1"/>
<line x1="197.2" y1="629.3" x2="202.2" y2="629.3" stroke="#333" stroke-width="1"/>
<line x1="197.2" y1="611.3" x2="202.2" y2="611.3" stroke="#333" stroke-width="1"/>
<line x1="197.2" y1="593.3" x2="202.2" y2="593.3" stroke="#333" stroke-width="1"/>
<line x1="197.2" y1="575.3" x2="202.2" y2="575.3" stroke="#333" stroke-width="1"/>
<text x="196.4" y="668.85" font-size="10" text-anchor="end" fill="#1a1a1a" stroke="#1a1a1a" stroke-width="0.1">0</text>
<text x="196.4" y="632.85" font-size="10" text-anchor="end" fill="#1a1a1a" stroke="#1a1a1a" stroke-width="0.1">1</text>
<text x="196.4" y="596.85" font-size="10" text-anchor="end" fill="#1a1a1a" stroke="#1a1a1a" stroke-width="0.1">2</text>
<rect x="207.2" y="629.3" width="10.5" height="36" fill="#d6d6d6" stroke="#333" stroke-width="0.9"/>
<line x1="212.45" y1="665.3" x2="212.45" y2="668.3" stroke="#333" stroke-width="0.8"/>
<line x1="228.85" y1="633.62" x2="228.85" y2="631.1" stroke="#333" stroke-width="0.9"/>
<line x1="226.25" y1="631.1" x2="231.45" y2="631.1" stroke="#333" stroke-width="0.9"/>
<rect x="223.6" y="633.62" width="10.5" height="31.68" fill="#5a5a5a" stroke="#333" stroke-width="0.9"/>
<line x1="228.85" y1="665.3" x2="228.85" y2="668.3" stroke="#333" stroke-width="0.8"/>
<line x1="245.25" y1="588.98" x2="245.25" y2="586.46" stroke="#333" stroke-width="0.9"/>
<line x1="242.65" y1="586.46" x2="247.85" y2="586.46" stroke="#333" stroke-width="0.9"/>
<rect x="240" y="588.98" width="10.5" height="76.32" fill="#8c8cff" stroke="#333" stroke-width="0.9"/>
<line x1="245.25" y1="665.3" x2="245.25" y2="668.3" stroke="#333" stroke-width="0.8"/>
<line x1="261.65" y1="612.02" x2="261.65" y2="609.5" stroke="#333" stroke-width="0.9"/>
<line x1="259.05" y1="609.5" x2="264.25" y2="609.5" stroke="#333" stroke-width="0.9"/>
<rect x="256.4" y="612.02" width="10.5" height="53.28" fill="#5656fa" stroke="#333" stroke-width="0.9"/>
<line x1="261.65" y1="665.3" x2="261.65" y2="668.3" stroke="#333" stroke-width="0.8"/>
<line x1="278.05" y1="649.82" x2="278.05" y2="646.58" stroke="#333" stroke-width="0.9"/>
<line x1="275.45" y1="646.58" x2="280.65" y2="646.58" stroke="#333" stroke-width="0.9"/>
<rect x="272.8" y="649.82" width="10.5" height="15.48" fill="#f3a0a8" stroke="#333" stroke-width="0.9"/>
<line x1="278.05" y1="665.3" x2="278.05" y2="668.3" stroke="#333" stroke-width="0.8"/>
<line x1="294.45" y1="645.14" x2="294.45" y2="642.26" stroke="#333" stroke-width="0.9"/>
<line x1="291.85" y1="642.26" x2="297.05" y2="642.26" stroke="#333" stroke-width="0.9"/>
<rect x="289.2" y="645.14" width="10.5" height="20.16" fill="#f03c40" stroke="#333" stroke-width="0.9"/>
<line x1="294.45" y1="665.3" x2="294.45" y2="668.3" stroke="#333" stroke-width="0.8"/>
<text transform="translate(184.5,621) rotate(-90)" font-size="9.3" text-anchor="middle" fill="#1a1a1a" stroke="#1a1a1a" stroke-width="0.1">Rel.&#160; protein level (FC)</text>
<polyline points="212.1,625 212.1,580.6 244.4,580.6 244.4,583.4" fill="none" stroke="#4a4a4a" stroke-width="0.9"/>
<polyline points="244.4,580.6 244.4,574.7 292.8,574.7 292.8,638" fill="none" stroke="#4a4a4a" stroke-width="0.9"/>
<polygon points="226.3,575.15 226.92,576.59 228.49,576.74 227.31,577.78 227.65,579.31 226.3,578.51 224.95,579.31 225.29,577.78 224.11,576.74 225.68,576.59" fill="#2a2a2a"/>
<polygon points="230.3,575.15 230.92,576.59 232.49,576.74 231.31,577.78 231.65,579.31 230.3,578.51 228.95,579.31 229.29,577.78 228.11,576.74 229.68,576.59" fill="#2a2a2a"/>
<polygon points="266.7,569.75 267.32,571.19 268.89,571.34 267.71,572.38 268.05,573.91 266.7,573.11 265.35,573.91 265.69,572.38 264.51,571.34 266.08,571.19" fill="#2a2a2a"/>
<polygon points="270.7,569.75 271.32,571.19 272.89,571.34 271.71,572.38 272.05,573.91 270.7,573.11 269.35,573.91 269.69,572.38 268.51,571.34 270.08,571.19" fill="#2a2a2a"/>
<text x="198" y="678" font-size="9.3" text-anchor="end" fill="#1a1a1a" stroke="#1a1a1a" stroke-width="0.1">RT</text>
<rect x="210.7" y="674.15" width="3.5" height="1.1" fill="#1a1a1a"/>
<text x="228.85" y="678.1" font-size="10.2" text-anchor="middle" fill="#1a1a1a" stroke="#1a1a1a" stroke-width="0.1">+</text>
<rect x="243.5" y="674.15" width="3.5" height="1.1" fill="#1a1a1a"/>
<text x="261.65" y="678.1" font-size="10.2" text-anchor="middle" fill="#1a1a1a" stroke="#1a1a1a" stroke-width="0.1">+</text>
<rect x="276.3" y="674.15" width="3.5" height="1.1" fill="#1a1a1a"/>
<text x="294.45" y="678.1" font-size="10.2" text-anchor="middle" fill="#1a1a1a" stroke="#1a1a1a" stroke-width="0.1">+</text>
<text x="199.7" y="689.7" font-size="9.3" text-anchor="end" fill="#1a1a1a" stroke="#1a1a1a" stroke-width="0.1">Scr.</text>
<text x="212.45" y="689.8" font-size="10.2" text-anchor="middle" fill="#1a1a1a" stroke="#1a1a1a" stroke-width="0.1">+</text>
<text x="228.85" y="689.8" font-size="10.2" text-anchor="middle" fill="#1a1a1a" stroke="#1a1a1a" stroke-width="0.1">+</text>
<text x="245.25" y="689.8" font-size="10.2" text-anchor="middle" fill="#1a1a1a" stroke="#1a1a1a" stroke-width="0.1">+</text>
<text x="261.65" y="689.8" font-size="10.2" text-anchor="middle" fill="#1a1a1a" stroke="#1a1a1a" stroke-width="0.1">+</text>
<rect x="276.3" y="685.85" width="3.5" height="1.1" fill="#1a1a1a"/>
<rect x="292.7" y="685.85" width="3.5" height="1.1" fill="#1a1a1a"/>
<text x="200.7" y="700.1" font-size="9.3" text-anchor="end" fill="#1a1a1a" stroke="#1a1a1a" stroke-width="0.1">Mimic</text>
<rect x="210.7" y="696.25" width="3.5" height="1.1" fill="#1a1a1a"/>
<rect x="227.1" y="696.25" width="3.5" height="1.1" fill="#1a1a1a"/>
<rect x="243.5" y="696.25" width="3.5" height="1.1" fill="#1a1a1a"/>
<rect x="259.9" y="696.25" width="3.5" height="1.1" fill="#1a1a1a"/>
<text x="278.05" y="700.2" font-size="10.2" text-anchor="middle" fill="#1a1a1a" stroke="#1a1a1a" stroke-width="0.1">+</text>
<text x="294.45" y="700.2" font-size="10.2" text-anchor="middle" fill="#1a1a1a" stroke="#1a1a1a" stroke-width="0.1">+</text>
<line x1="204.1" y1="703.1" x2="236.2" y2="703.1" stroke="#333" stroke-width="0.9"/>
<line x1="237.9" y1="703.1" x2="302.7" y2="703.1" stroke="#333" stroke-width="0.9"/>
<text x="221.1" y="713.74" font-size="9" text-anchor="middle" fill="#1a1a1a" stroke="#1a1a1a" stroke-width="0.1">HT29<tspan font-size="5.5" dy="-2.51">Vec</tspan></text>
<text x="278" y="713.74" font-size="9" text-anchor="middle" fill="#1a1a1a" stroke="#1a1a1a" stroke-width="0.1">HT29<tspan font-size="5.5" dy="-2.51">KRAS-G1D</tspan></text>
<text x="596.2" y="564.2" font-size="9.6" text-anchor="middle" fill="#1a1a1a" stroke="#1a1a1a" stroke-width="0.1">STING</text>
<line x1="543.5" y1="574.76" x2="543.5" y2="666.7" stroke="#333" stroke-width="1"/>
<line x1="543.5" y1="666.2" x2="649" y2="666.2" stroke="#333" stroke-width="1"/>
<line x1="538.5" y1="666.2" x2="543.5" y2="666.2" stroke="#333" stroke-width="1"/>
<line x1="538.5" y1="643.34" x2="543.5" y2="643.34" stroke="#333" stroke-width="1"/>
<line x1="538.5" y1="620.48" x2="543.5" y2="620.48" stroke="#333" stroke-width="1"/>
<line x1="538.5" y1="597.62" x2="543.5" y2="597.62" stroke="#333" stroke-width="1"/>
<line x1="538.5" y1="574.76" x2="543.5" y2="574.76" stroke="#333" stroke-width="1"/>
<text x="537.7" y="669.75" font-size="10" text-anchor="end" fill="#1a1a1a" stroke="#1a1a1a" stroke-width="0.1">0</text>
<text x="537.7" y="624.03" font-size="10" text-anchor="end" fill="#1a1a1a" stroke="#1a1a1a" stroke-width="0.1">4</text>
<text x="537.7" y="578.31" font-size="10" text-anchor="end" fill="#1a1a1a" stroke="#1a1a1a" stroke-width="0.1">8</text>
<rect x="549.1" y="655.11" width="10.5" height="11.09" fill="#d6d6d6" stroke="#333" stroke-width="0.9"/>
<line x1="554.35" y1="666.2" x2="554.35" y2="669.2" stroke="#333" stroke-width="0.8"/>
<line x1="570.85" y1="652.48" x2="570.85" y2="651.23" stroke="#333" stroke-width="0.9"/>
<line x1="568.25" y1="651.23" x2="573.45" y2="651.23" stroke="#333" stroke-width="0.9"/>
<rect x="565.6" y="652.48" width="10.5" height="13.72" fill="#5a5a5a" stroke="#333" stroke-width="0.9"/>
<line x1="570.85" y1="666.2" x2="570.85" y2="669.2" stroke="#333" stroke-width="0.8"/>
<line x1="587.35" y1="601.05" x2="587.35" y2="598.76" stroke="#333" stroke-width="0.9"/>
<line x1="584.75" y1="598.76" x2="589.95" y2="598.76" stroke="#333" stroke-width="0.9"/>
<rect x="582.1" y="601.05" width="10.5" height="65.15" fill="#8c8cff" stroke="#333" stroke-width="0.9"/>
<line x1="587.35" y1="666.2" x2="587.35" y2="669.2" stroke="#333" stroke-width="0.8"/>
<line x1="603.85" y1="601.05" x2="603.85" y2="598.76" stroke="#333" stroke-width="0.9"/>
<line x1="601.25" y1="598.76" x2="606.45" y2="598.76" stroke="#333" stroke-width="0.9"/>
<rect x="598.6" y="601.05" width="10.5" height="65.15" fill="#5656fa" stroke="#333" stroke-width="0.9"/>
<line x1="603.85" y1="666.2" x2="603.85" y2="669.2" stroke="#333" stroke-width="0.8"/>
<line x1="620.35" y1="616.25" x2="620.35" y2="615.11" stroke="#333" stroke-width="0.9"/>
<line x1="617.75" y1="615.11" x2="622.95" y2="615.11" stroke="#333" stroke-width="0.9"/>
<rect x="615.1" y="616.25" width="10.5" height="49.95" fill="#f3a0a8" stroke="#333" stroke-width="0.9"/>
<line x1="620.35" y1="666.2" x2="620.35" y2="669.2" stroke="#333" stroke-width="0.8"/>
<line x1="636.85" y1="636.02" x2="636.85" y2="634.31" stroke="#333" stroke-width="0.9"/>
<line x1="634.25" y1="634.31" x2="639.45" y2="634.31" stroke="#333" stroke-width="0.9"/>
<rect x="631.6" y="636.02" width="10.5" height="30.18" fill="#f03c40" stroke="#333" stroke-width="0.9"/>
<line x1="636.85" y1="666.2" x2="636.85" y2="669.2" stroke="#333" stroke-width="0.8"/>
<text transform="translate(525.5,620.4) rotate(-90)" font-size="9.3" text-anchor="middle" fill="#1a1a1a" stroke="#1a1a1a" stroke-width="0.1">Rel.&#160; level (FC)</text>
<polyline points="556,650 556,584.9 587.4,584.9 587.4,590.5" fill="none" stroke="#4a4a4a" stroke-width="0.9"/>
<polyline points="587.4,584.9 587.4,578.2 636.5,578.2 636.5,631.5" fill="none" stroke="#4a4a4a" stroke-width="0.9"/>
<polygon points="571.2,579.55 571.82,580.99 573.39,581.14 572.21,582.18 572.55,583.71 571.2,582.91 569.85,583.71 570.19,582.18 569.01,581.14 570.58,580.99" fill="#2a2a2a"/>
<polygon points="575.2,579.55 575.82,580.99 577.39,581.14 576.21,582.18 576.55,583.71 575.2,582.91 573.85,583.71 574.19,582.18 573.01,581.14 574.58,580.99" fill="#2a2a2a"/>
<polygon points="610.9,573.45 611.52,574.89 613.09,575.04 611.91,576.08 612.25,577.61 610.9,576.81 609.55,577.61 609.89,576.08 608.71,575.04 610.28,574.89" fill="#2a2a2a"/>
<polygon points="614.9,573.45 615.52,574.89 617.09,575.04 615.91,576.08 616.25,577.61 614.9,576.81 613.55,577.61 613.89,576.08 612.71,575.04 614.28,574.89" fill="#2a2a2a"/>
<text x="540.5" y="679.8" font-size="9.3" text-anchor="end" fill="#1a1a1a" stroke="#1a1a1a" stroke-width="0.1">RT</text>
<rect x="552.6" y="675.95" width="3.5" height="1.1" fill="#1a1a1a"/>
<text x="570.85" y="679.9" font-size="10.2" text-anchor="middle" fill="#1a1a1a" stroke="#1a1a1a" stroke-width="0.1">+</text>
<rect x="585.6" y="675.95" width="3.5" height="1.1" fill="#1a1a1a"/>
<text x="603.85" y="679.9" font-size="10.2" text-anchor="middle" fill="#1a1a1a" stroke="#1a1a1a" stroke-width="0.1">+</text>
<rect x="618.6" y="675.95" width="3.5" height="1.1" fill="#1a1a1a"/>
<text x="636.85" y="679.9" font-size="10.2" text-anchor="middle" fill="#1a1a1a" stroke="#1a1a1a" stroke-width="0.1">+</text>
<text x="542.2" y="691.7" font-size="9.3" text-anchor="end" fill="#1a1a1a" stroke="#1a1a1a" stroke-width="0.1">Scr.</text>
<text x="554.35" y="691.8" font-size="10.2" text-anchor="middle" fill="#1a1a1a" stroke="#1a1a1a" stroke-width="0.1">+</text>
<text x="570.85" y="691.8" font-size="10.2" text-anchor="middle" fill="#1a1a1a" stroke="#1a1a1a" stroke-width="0.1">+</text>
<text x="587.35" y="691.8" font-size="10.2" text-anchor="middle" fill="#1a1a1a" stroke="#1a1a1a" stroke-width="0.1">+</text>
<text x="603.85" y="691.8" font-size="10.2" text-anchor="middle" fill="#1a1a1a" stroke="#1a1a1a" stroke-width="0.1">+</text>
<rect x="618.6" y="687.85" width="3.5" height="1.1" fill="#1a1a1a"/>
<rect x="635.1" y="687.85" width="3.5" height="1.1" fill="#1a1a1a"/>
<text x="542.2" y="702.8" font-size="9.3" text-anchor="end" fill="#1a1a1a" stroke="#1a1a1a" stroke-width="0.1">Anta.</text>
<rect x="552.6" y="698.95" width="3.5" height="1.1" fill="#1a1a1a"/>
<rect x="569.1" y="698.95" width="3.5" height="1.1" fill="#1a1a1a"/>
<rect x="585.6" y="698.95" width="3.5" height="1.1" fill="#1a1a1a"/>
<rect x="602.1" y="698.95" width="3.5" height="1.1" fill="#1a1a1a"/>
<text x="620.35" y="702.9" font-size="10.2" text-anchor="middle" fill="#1a1a1a" stroke="#1a1a1a" stroke-width="0.1">+</text>
<text x="636.85" y="702.9" font-size="10.2" text-anchor="middle" fill="#1a1a1a" stroke="#1a1a1a" stroke-width="0.1">+</text>
<line x1="546.9" y1="704.9" x2="578.8" y2="704.9" stroke="#333" stroke-width="0.9"/>
<line x1="580.9" y1="704.9" x2="645.4" y2="704.9" stroke="#333" stroke-width="0.9"/>
<text x="564.8" y="714.54" font-size="9" text-anchor="middle" fill="#1a1a1a" stroke="#1a1a1a" stroke-width="0.1">SW620<tspan font-size="5.5" dy="-2.51">shNC</tspan></text>
<text x="616.7" y="714.54" font-size="9" text-anchor="middle" fill="#1a1a1a" stroke="#1a1a1a" stroke-width="0.1">SW620<tspan font-size="5.5" dy="-2.51">shKRAS</tspan></text>
<defs><filter id="bl" x="-30%" y="-150%" width="160%" height="400%"><feGaussianBlur stdDeviation="0.55"/></filter><filter id="bl2" x="-30%" y="-100%" width="160%" height="300%"><feGaussianBlur stdDeviation="1.2"/></filter></defs>
<text x="68.5" y="590.3" font-size="8.9" text-anchor="middle" fill="#1a1a1a" stroke="#1a1a1a" stroke-width="0.1">HT29<tspan font-size="5" dy="-2.79">Vec</tspan></text>
<text x="128.2" y="590.3" font-size="8.9" text-anchor="middle" fill="#1a1a1a" stroke="#1a1a1a" stroke-width="0.1">HT29<tspan font-size="5" dy="-2.79">KRAS-G12D</tspan></text>
<line x1="51.7" y1="593.5" x2="83.9" y2="593.5" stroke="#333" stroke-width="0.9"/>
<line x1="86.4" y1="593.5" x2="150.2" y2="593.5" stroke="#333" stroke-width="0.9"/>
<text x="46.1" y="602.8" font-size="9.3" text-anchor="end" fill="#1a1a1a" stroke="#1a1a1a" stroke-width="0.1">RT</text>
<rect x="59.55" y="598.95" width="3.5" height="1.1" fill="#1a1a1a"/>
<text x="76.8" y="602.9" font-size="10.2" text-anchor="middle" fill="#1a1a1a" stroke="#1a1a1a" stroke-width="0.1">+</text>
<rect x="90.85" y="598.95" width="3.5" height="1.1" fill="#1a1a1a"/>
<text x="108.3" y="602.9" font-size="10.2" text-anchor="middle" fill="#1a1a1a" stroke="#1a1a1a" stroke-width="0.1">+</text>
<rect x="122.85" y="598.95" width="3.5" height="1.1" fill="#1a1a1a"/>
<text x="140.6" y="602.9" font-size="10.2" text-anchor="middle" fill="#1a1a1a" stroke="#1a1a1a" stroke-width="0.1">+</text>
<text x="47.8" y="614.5" font-size="9.3" text-anchor="end" fill="#1a1a1a" stroke="#1a1a1a" stroke-width="0.1">Scr.</text>
<text x="61.3" y="614.6" font-size="10.2" text-anchor="middle" fill="#1a1a1a" stroke="#1a1a1a" stroke-width="0.1">+</text>
<text x="76.8" y="614.6" font-size="10.2" text-anchor="middle" fill="#1a1a1a" stroke="#1a1a1a" stroke-width="0.1">+</text>
<text x="92.6" y="614.6" font-size="10.2" text-anchor="middle" fill="#1a1a1a" stroke="#1a1a1a" stroke-width="0.1">+</text>
<text x="108.3" y="614.6" font-size="10.2" text-anchor="middle" fill="#1a1a1a" stroke="#1a1a1a" stroke-width="0.1">+</text>
<rect x="122.85" y="610.65" width="3.5" height="1.1" fill="#1a1a1a"/>
<rect x="138.85" y="610.65" width="3.5" height="1.1" fill="#1a1a1a"/>
<text x="48.8" y="624.9" font-size="9.3" text-anchor="end" fill="#1a1a1a" stroke="#1a1a1a" stroke-width="0.1">Mimic</text>
<rect x="59.55" y="621.05" width="3.5" height="1.1" fill="#1a1a1a"/>
<rect x="75.05" y="621.05" width="3.5" height="1.1" fill="#1a1a1a"/>
<rect x="90.85" y="621.05" width="3.5" height="1.1" fill="#1a1a1a"/>
<rect x="106.55" y="621.05" width="3.5" height="1.1" fill="#1a1a1a"/>
<text x="124.6" y="625" font-size="10.2" text-anchor="middle" fill="#1a1a1a" stroke="#1a1a1a" stroke-width="0.1">+</text>
<text x="140.6" y="625" font-size="10.2" text-anchor="middle" fill="#1a1a1a" stroke="#1a1a1a" stroke-width="0.1">+</text>
<rect x="49.8" y="625.7" width="99.6" height="21.6" fill="#f1f1f1" stroke="#4a4a4a" stroke-width="1"/>
<rect x="52.3" y="639.8" width="13.2" height="3.4" fill="#b8b8b8" opacity="0.55" filter="url(#bl2)"/>
<rect x="69.3" y="639.8" width="11.3" height="3.4" fill="#b8b8b8" opacity="0.55" filter="url(#bl2)"/>
<rect x="85.2" y="639.8" width="12.1" height="3.4" fill="#b8b8b8" opacity="0.55" filter="url(#bl2)"/>
<rect x="100.8" y="639.8" width="12.8" height="3.4" fill="#b8b8b8" opacity="0.55" filter="url(#bl2)"/>
<rect x="117.5" y="639.8" width="11.7" height="3.4" fill="#b8b8b8" opacity="0.55" filter="url(#bl2)"/>
<rect x="134.5" y="639.8" width="12.9" height="3.4" fill="#b8b8b8" opacity="0.55" filter="url(#bl2)"/>
<rect x="52.3" y="632.8" width="13.2" height="3.2" rx="1.6" fill="#0a0a0a" filter="url(#bl)"/>
<rect x="69.3" y="633.5" width="11.3" height="2.6" rx="1.3" fill="#202020" filter="url(#bl)"/>
<rect x="85.2" y="634.6" width="12.1" height="3.2" rx="1.6" fill="#0a0a0a" filter="url(#bl)"/>
<rect x="100.8" y="633.6" width="12.8" height="3.2" rx="1.6" fill="#0a0a0a" filter="url(#bl)"/>
<rect x="117.5" y="634.4" width="11.7" height="2" rx="1" fill="#8a8a8a" filter="url(#bl)"/>
<rect x="134.5" y="634.4" width="12.9" height="2.4" rx="1.2" fill="#404040" filter="url(#bl)"/>
<rect x="49.8" y="649.6" width="99.6" height="20.5" fill="#f1f1f1" stroke="#4a4a4a" stroke-width="1"/>
<rect x="53" y="658.8" width="16.6" height="4.2" rx="1.6" fill="#0a0a0a" filter="url(#bl)"/>
<rect x="68.5" y="658.8" width="16.6" height="4.2" rx="1.6" fill="#0a0a0a" filter="url(#bl)"/>
<rect x="84.3" y="658.9" width="16.6" height="4.6" rx="1.6" fill="#0a0a0a" filter="url(#bl)"/>
<rect x="100" y="658.8" width="16.6" height="4.2" rx="1.6" fill="#0a0a0a" filter="url(#bl)"/>
<rect x="116.3" y="658.8" width="16.6" height="4.2" rx="1.6" fill="#0a0a0a" filter="url(#bl)"/>
<rect x="132.3" y="658.8" width="16.6" height="4.2" rx="1.6" fill="#0a0a0a" filter="url(#bl)"/>
<text x="47.3" y="641.4" font-size="9.3" text-anchor="end" fill="#1a1a1a" stroke="#1a1a1a" stroke-width="0.1">DNMT3b</text>
<text x="47.3" y="664.8" font-size="9.3" text-anchor="end" fill="#1a1a1a" stroke="#1a1a1a" stroke-width="0.1">GAPDH</text>
<text x="405.6" y="586.8" font-size="9.1" text-anchor="middle" fill="#1a1a1a" stroke="#1a1a1a" stroke-width="0.1">SW620<tspan font-size="5.3" dy="-2.72">shNC</tspan></text>
<text x="457.7" y="586.8" font-size="9.1" text-anchor="middle" fill="#1a1a1a" stroke="#1a1a1a" stroke-width="0.1">SW620<tspan font-size="5.3" dy="-2.72">shKRAS</tspan></text>
<line x1="383.1" y1="590.4" x2="415.5" y2="590.4" stroke="#333" stroke-width="0.9"/>
<line x1="417.7" y1="590.4" x2="481.8" y2="590.4" stroke="#333" stroke-width="0.9"/>
<text x="377.9" y="599.3" font-size="9.3" text-anchor="end" fill="#1a1a1a" stroke="#1a1a1a" stroke-width="0.1">RT</text>
<rect x="391.05" y="595.45" width="3.5" height="1.1" fill="#1a1a1a"/>
<text x="408.2" y="599.4" font-size="10.2" text-anchor="middle" fill="#1a1a1a" stroke="#1a1a1a" stroke-width="0.1">+</text>
<rect x="422.55" y="595.45" width="3.5" height="1.1" fill="#1a1a1a"/>
<text x="440.4" y="599.4" font-size="10.2" text-anchor="middle" fill="#1a1a1a" stroke="#1a1a1a" stroke-width="0.1">+</text>
<rect x="454.35" y="595.45" width="3.5" height="1.1" fill="#1a1a1a"/>
<text x="471.9" y="599.4" font-size="10.2" text-anchor="middle" fill="#1a1a1a" stroke="#1a1a1a" stroke-width="0.1">+</text>
<text x="379.6" y="610.9" font-size="9.3" text-anchor="end" fill="#1a1a1a" stroke="#1a1a1a" stroke-width="0.1">Scr.</text>
<text x="392.8" y="611" font-size="10.2" text-anchor="middle" fill="#1a1a1a" stroke="#1a1a1a" stroke-width="0.1">+</text>
<text x="408.2" y="611" font-size="10.2" text-anchor="middle" fill="#1a1a1a" stroke="#1a1a1a" stroke-width="0.1">+</text>
<text x="424.3" y="611" font-size="10.2" text-anchor="middle" fill="#1a1a1a" stroke="#1a1a1a" stroke-width="0.1">+</text>
<text x="440.4" y="611" font-size="10.2" text-anchor="middle" fill="#1a1a1a" stroke="#1a1a1a" stroke-width="0.1">+</text>
<rect x="454.35" y="607.05" width="3.5" height="1.1" fill="#1a1a1a"/>
<rect x="470.15" y="607.05" width="3.5" height="1.1" fill="#1a1a1a"/>
<text x="379.6" y="621.6" font-size="9.3" text-anchor="end" fill="#1a1a1a" stroke="#1a1a1a" stroke-width="0.1">Anta.</text>
<rect x="391.05" y="617.75" width="3.5" height="1.1" fill="#1a1a1a"/>
<rect x="406.45" y="617.75" width="3.5" height="1.1" fill="#1a1a1a"/>
<rect x="422.55" y="617.75" width="3.5" height="1.1" fill="#1a1a1a"/>
<rect x="438.65" y="617.75" width="3.5" height="1.1" fill="#1a1a1a"/>
<text x="456.1" y="621.7" font-size="10.2" text-anchor="middle" fill="#1a1a1a" stroke="#1a1a1a" stroke-width="0.1">+</text>
<text x="471.9" y="621.7" font-size="10.2" text-anchor="middle" fill="#1a1a1a" stroke="#1a1a1a" stroke-width="0.1">+</text>
<rect x="380.3" y="623.1" width="100.6" height="21.4" fill="#f0f0f0" stroke="#4a4a4a" stroke-width="1"/>
<rect x="382.6" y="635.7" width="13.2" height="2.6" rx="1.3" fill="#b0b0b0" filter="url(#bl)"/>
<rect x="399.7" y="635.3" width="11.6" height="3" rx="1.5" fill="#383838" filter="url(#bl)"/>
<rect x="414.4" y="633.9" width="15.4" height="4.6" rx="1.6" fill="#050505" filter="url(#bl)"/>
<rect x="430.6" y="634" width="13.2" height="4.4" rx="1.6" fill="#050505" filter="url(#bl)"/>
<rect x="445.3" y="633.9" width="15.5" height="4.2" rx="1.6" fill="#080808" filter="url(#bl)"/>
<rect x="462.3" y="634" width="14.7" height="3.6" rx="1.6" fill="#0a0a0a" filter="url(#bl)"/>
<rect x="380.3" y="646.6" width="100.6" height="20.6" fill="#dadada" stroke="#4a4a4a" stroke-width="1"/>
<rect x="382.3" y="659.5" width="14" height="6.3" fill="#9a9a9a" opacity="0.5" filter="url(#bl2)"/>
<rect x="398.9" y="659.5" width="13.9" height="6.3" fill="#9a9a9a" opacity="0.6" filter="url(#bl2)"/>
<rect x="416.4" y="659.5" width="12.7" height="6.3" fill="#9a9a9a" opacity="0.35" filter="url(#bl2)"/>
<rect x="433" y="659.5" width="12.8" height="6.3" fill="#9a9a9a" opacity="0.4" filter="url(#bl2)"/>
<rect x="450" y="659.5" width="12.3" height="6.3" fill="#9a9a9a" opacity="0.7" filter="url(#bl2)"/>
<rect x="466.5" y="659.5" width="12.9" height="6.3" fill="#9a9a9a" opacity="0.45" filter="url(#bl2)"/>
<rect x="396.6" y="647.2" width="2" height="19.5" fill="#f4f4f4" opacity="0.8" filter="url(#bl)"/>
<rect x="413.6" y="647.2" width="2" height="19.5" fill="#f4f4f4" opacity="0.8" filter="url(#bl)"/>
<rect x="430" y="647.2" width="2" height="19.5" fill="#f4f4f4" opacity="0.8" filter="url(#bl)"/>
<rect x="446.9" y="647.2" width="2" height="19.5" fill="#f4f4f4" opacity="0.8" filter="url(#bl)"/>
<rect x="463.4" y="647.2" width="2" height="19.5" fill="#f4f4f4" opacity="0.8" filter="url(#bl)"/>
<rect x="382.3" y="655.6" width="14" height="3.6" rx="1.6" fill="#080808" filter="url(#bl)"/>
<rect x="398.9" y="655.5" width="13.9" height="3.8" rx="1.6" fill="#050505" filter="url(#bl)"/>
<rect x="416.4" y="656" width="12.7" height="2.4" rx="1.2" fill="#7a7a7a" filter="url(#bl)"/>
<rect x="433" y="656" width="12.8" height="2.4" rx="1.2" fill="#7a7a7a" filter="url(#bl)"/>
<rect x="450" y="655.5" width="12.3" height="2.6" rx="1.3" fill="#454545" filter="url(#bl)"/>
<rect x="466.5" y="655.2" width="12.9" height="2.4" rx="1.2" fill="#666666" filter="url(#bl)"/>
<rect x="380.3" y="669.5" width="100.6" height="21.7" fill="#efefef" stroke="#4a4a4a" stroke-width="1"/>
<rect x="384.6" y="678.2" width="16.4" height="4.8" rx="1.6" fill="#050505" filter="url(#bl)"/>
<rect x="400" y="678.2" width="16.4" height="4.8" rx="1.6" fill="#050505" filter="url(#bl)"/>
<rect x="416.1" y="678.2" width="16.4" height="4.8" rx="1.6" fill="#050505" filter="url(#bl)"/>
<rect x="432.2" y="678.2" width="16.4" height="4.8" rx="1.6" fill="#050505" filter="url(#bl)"/>
<rect x="447.9" y="678.2" width="16.4" height="4.8" rx="1.6" fill="#050505" filter="url(#bl)"/>
<rect x="463.7" y="678.4" width="16.4" height="4.4" rx="1.6" fill="#050505" filter="url(#bl)"/>
<text x="377.3" y="638.2" font-size="9.3" text-anchor="end" fill="#1a1a1a" stroke="#1a1a1a" stroke-width="0.1">STING</text>
<text x="377.3" y="660.6" font-size="9.3" text-anchor="end" fill="#1a1a1a" stroke="#1a1a1a" stroke-width="0.1">DNMT3b</text>
<text x="377.3" y="684.8" font-size="9.3" text-anchor="end" fill="#1a1a1a" stroke="#1a1a1a" stroke-width="0.1">GAPDH</text>
</svg>
</body></html>
